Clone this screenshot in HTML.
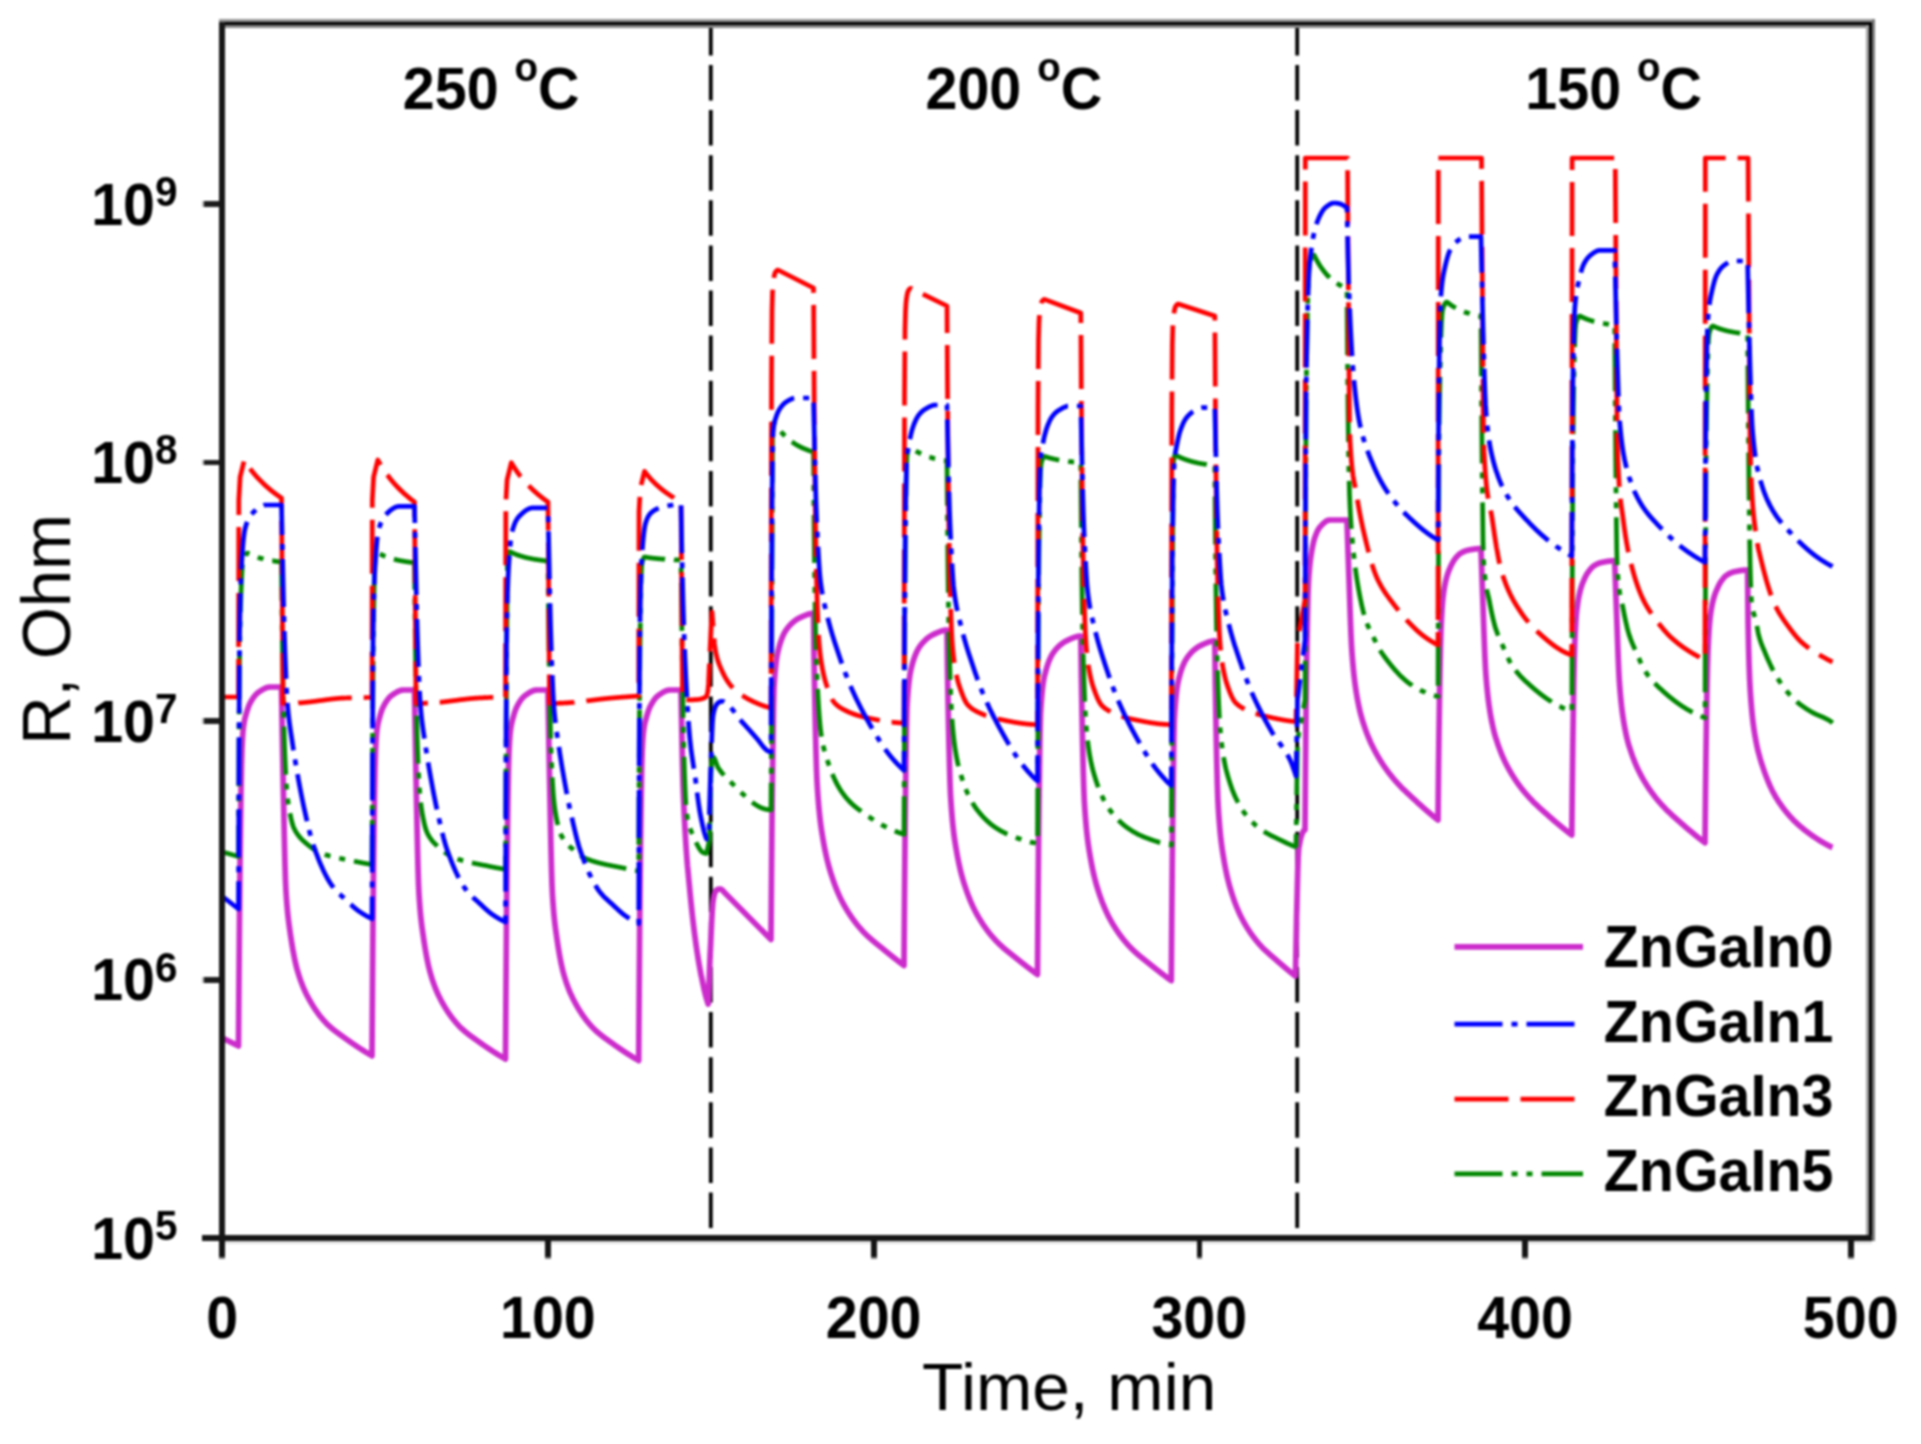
<!DOCTYPE html>
<html lang="en"><head><meta charset="utf-8"><title>R vs Time</title>
<style>html,body{margin:0;padding:0;background:#fff;overflow:hidden}svg{display:block;filter:blur(0.8px)}</style>
</head><body>
<svg width="1921" height="1444" viewBox="0 0 1921 1444">
<rect width="1921" height="1444" fill="#fff"/>
<defs><clipPath id="cp"><rect x="222.5" y="24.0" width="1649.0" height="1214.0"/></clipPath></defs>
<g fill="none" stroke-linejoin="round" stroke-linecap="butt" clip-path="url(#cp)">
<path d="M710.8 24.0V1238.0" stroke="#000" stroke-width="3.8" stroke-dasharray="35.5 9.6" stroke-dashoffset="4.1"/>
<path d="M1297.2 24.0V1238.0" stroke="#000" stroke-width="3.8" stroke-dasharray="35.5 9.6" stroke-dashoffset="4.1"/>
<path d="M222.5 1038.0L238.5 1046.0L238.5 1046.0L239.0 976.1L239.5 914.8L240.0 866.5L240.5 827.4L241.0 792.7L241.5 765.3L242.0 748.0L242.5 738.3L243.0 731.2L243.5 726.5L244.0 723.2L244.5 720.5L245.0 718.2L245.5 716.3L246.0 714.6L246.5 712.8L247.0 711.2L247.5 709.6L248.0 708.1L248.5 706.7L249.0 705.4L249.5 704.3L250.0 703.3L250.5 702.4L251.0 701.5L251.5 700.6L252.0 699.8L252.5 699.0L253.0 698.2L253.5 697.5L254.0 696.8L254.5 696.2L255.0 695.5L255.5 695.0L256.0 694.4L256.5 693.9L257.0 693.4L257.5 693.0L258.0 692.6L258.5 692.3L259.0 691.9L259.5 691.6L260.0 691.3L260.5 690.9L261.0 690.6L261.5 690.3L262.0 690.0L262.5 689.7L263.0 689.4L263.5 689.1L264.0 688.9L264.5 688.6L265.0 688.4L265.5 688.2L266.0 687.9L266.5 687.8L267.0 687.6L267.5 687.4L268.0 687.3L268.5 687.2L269.0 687.1L269.5 687.1L270.0 687.0L270.5 687.0L271.0 687.0L271.5 687.0L272.0 687.0L272.5 687.0L273.0 687.0L273.5 687.0L274.0 687.0L274.5 687.0L275.0 687.0L275.5 687.0L276.0 687.0L276.5 687.0L277.0 687.0L277.5 687.0L278.0 687.0L278.5 687.0L279.0 687.0L279.5 687.0L280.0 687.0L280.5 687.0L281.0 687.0L281.5 687.0L281.5 687.0L282.0 717.8L282.5 746.7L283.0 772.7L283.5 797.1L284.0 821.5L284.5 844.5L285.0 864.7L285.5 880.7L286.0 891.2L286.5 898.8L287.0 905.3L287.5 911.0L288.0 915.9L288.5 920.3L289.0 924.2L289.5 927.8L290.0 931.3L290.5 934.8L291.0 938.2L291.5 941.4L292.0 944.5L292.5 947.5L293.0 950.4L293.5 953.1L294.0 955.8L294.5 958.3L295.0 960.6L295.5 962.9L296.0 965.0L296.5 967.0L297.0 968.9L297.5 970.7L298.0 972.4L298.5 974.0L299.0 975.6L299.5 977.2L300.0 978.6L300.5 980.1L301.0 981.5L301.5 982.8L302.0 984.1L302.5 985.4L303.0 986.7L303.5 987.9L304.0 989.0L304.5 990.1L305.0 991.2L305.5 992.3L306.0 993.4L306.5 994.4L307.0 995.4L307.5 996.3L308.0 997.3L308.5 998.2L309.0 999.1L309.5 1000.0L310.0 1000.9L310.5 1001.8L311.0 1002.6L311.5 1003.5L312.0 1004.3L312.5 1005.1L313.0 1005.9L313.5 1006.7L314.0 1007.5L314.5 1008.3L315.0 1009.0L315.5 1009.8L316.0 1010.5L316.5 1011.2L317.0 1011.9L317.5 1012.6L318.0 1013.3L318.5 1014.0L319.0 1014.7L319.5 1015.3L320.0 1016.0L320.5 1016.6L321.0 1017.2L321.5 1017.8L322.0 1018.4L322.5 1019.0L323.0 1019.6L323.5 1020.2L324.0 1020.7L324.5 1021.3L325.0 1021.8L325.5 1022.3L326.0 1022.9L326.5 1023.4L327.0 1023.9L327.5 1024.4L328.0 1024.9L328.5 1025.3L329.0 1025.8L329.5 1026.3L330.0 1026.7L330.5 1027.2L331.0 1027.6L331.5 1028.0L332.0 1028.4L332.5 1028.9L333.0 1029.3L333.5 1029.7L334.0 1030.1L334.5 1030.5L335.0 1030.9L335.5 1031.2L336.0 1031.6L336.5 1032.0L337.0 1032.4L337.5 1032.7L338.0 1033.1L338.5 1033.5L339.0 1033.8L339.5 1034.2L340.0 1034.5L340.5 1034.9L341.0 1035.3L341.5 1035.6L342.0 1036.0L342.5 1036.3L343.0 1036.7L343.5 1037.1L344.0 1037.4L344.5 1037.8L345.0 1038.1L345.5 1038.5L346.0 1038.9L346.5 1039.2L347.0 1039.6L347.5 1039.9L348.0 1040.3L348.5 1040.6L349.0 1041.0L349.5 1041.3L350.0 1041.7L350.5 1042.0L351.0 1042.4L351.5 1042.7L352.0 1043.1L352.5 1043.4L353.0 1043.8L353.5 1044.1L354.0 1044.4L354.5 1044.8L355.0 1045.1L355.5 1045.5L356.0 1045.8L356.5 1046.1L357.0 1046.5L357.5 1046.8L358.0 1047.1L358.5 1047.4L359.0 1047.8L359.5 1048.1L360.0 1048.4L360.5 1048.7L361.0 1049.1L361.5 1049.4L362.0 1049.7L362.5 1050.0L363.0 1050.3L363.5 1050.6L364.0 1051.0L364.5 1051.3L365.0 1051.6L365.5 1051.9L366.0 1052.2L366.5 1052.5L367.0 1052.8L367.5 1053.1L368.0 1053.4L368.5 1053.7L369.0 1054.0L369.5 1054.3L370.0 1054.6L370.5 1054.8L371.0 1055.1L371.5 1055.4L372.0 1055.7L372.0 1055.7L372.5 983.7L373.0 920.7L373.5 871.4L374.0 831.3L374.5 795.8L375.0 768.2L375.5 751.2L376.0 741.4L376.5 734.4L377.0 729.8L377.5 726.5L378.0 723.7L378.5 721.5L379.0 719.5L379.5 717.8L380.0 716.0L380.5 714.3L381.0 712.6L381.5 711.1L382.0 709.7L382.5 708.5L383.0 707.3L383.5 706.4L384.0 705.4L384.5 704.5L385.0 703.6L385.5 702.8L386.0 702.0L386.5 701.2L387.0 700.5L387.5 699.8L388.0 699.1L388.5 698.5L389.0 697.9L389.5 697.3L390.0 696.8L390.5 696.4L391.0 696.0L391.5 695.6L392.0 695.2L392.5 694.9L393.0 694.5L393.5 694.2L394.0 693.8L394.5 693.5L395.0 693.2L395.5 692.9L396.0 692.6L396.5 692.3L397.0 692.0L397.5 691.7L398.0 691.5L398.5 691.3L399.0 691.0L399.5 690.8L400.0 690.7L400.5 690.5L401.0 690.4L401.5 690.2L402.0 690.1L402.5 690.1L403.0 690.0L403.5 690.0L404.0 690.0L404.5 690.0L405.0 690.0L405.5 690.0L406.0 690.0L406.5 690.0L407.0 690.0L407.5 690.0L408.0 690.0L408.5 690.0L409.0 690.0L409.5 690.0L410.0 690.0L410.5 690.0L411.0 690.0L411.5 690.0L412.0 690.0L412.5 690.0L413.0 690.0L413.5 690.0L414.0 690.0L414.5 690.0L414.5 690.0L415.0 720.7L415.5 749.5L416.0 775.3L416.5 799.7L417.0 824.0L417.5 846.9L418.0 867.1L418.5 883.3L419.0 894.0L419.5 901.5L420.0 908.1L420.5 913.8L421.0 918.8L421.5 923.1L422.0 927.1L422.5 930.7L423.0 934.2L423.5 937.7L424.0 941.0L424.5 944.3L425.0 947.4L425.5 950.4L426.0 953.3L426.5 956.0L427.0 958.6L427.5 961.1L428.0 963.5L428.5 965.8L429.0 967.9L429.5 969.9L430.0 971.8L430.5 973.6L431.0 975.3L431.5 977.0L432.0 978.6L432.5 980.1L433.0 981.6L433.5 983.0L434.0 984.4L434.5 985.8L435.0 987.1L435.5 988.4L436.0 989.6L436.5 990.8L437.0 992.0L437.5 993.1L438.0 994.2L438.5 995.3L439.0 996.3L439.5 997.3L440.0 998.3L440.5 999.3L441.0 1000.3L441.5 1001.2L442.0 1002.1L442.5 1003.0L443.0 1003.9L443.5 1004.8L444.0 1005.6L444.5 1006.5L445.0 1007.3L445.5 1008.1L446.0 1008.9L446.5 1009.7L447.0 1010.5L447.5 1011.3L448.0 1012.0L448.5 1012.8L449.0 1013.5L449.5 1014.2L450.0 1014.9L450.5 1015.6L451.0 1016.3L451.5 1017.0L452.0 1017.7L452.5 1018.3L453.0 1018.9L453.5 1019.6L454.0 1020.2L454.5 1020.8L455.0 1021.4L455.5 1022.0L456.0 1022.6L456.5 1023.2L457.0 1023.7L457.5 1024.3L458.0 1024.8L458.5 1025.4L459.0 1025.9L459.5 1026.4L460.0 1026.9L460.5 1027.4L461.0 1027.9L461.5 1028.4L462.0 1028.8L462.5 1029.3L463.0 1029.7L463.5 1030.2L464.0 1030.6L464.5 1031.1L465.0 1031.5L465.5 1031.9L466.0 1032.3L466.5 1032.7L467.0 1033.1L467.5 1033.5L468.0 1033.9L468.5 1034.3L469.0 1034.7L469.5 1035.0L470.0 1035.4L470.5 1035.8L471.0 1036.2L471.5 1036.5L472.0 1036.9L472.5 1037.2L473.0 1037.6L473.5 1038.0L474.0 1038.3L474.5 1038.7L475.0 1039.0L475.5 1039.4L476.0 1039.7L476.5 1040.1L477.0 1040.4L477.5 1040.8L478.0 1041.2L478.5 1041.5L479.0 1041.9L479.5 1042.2L480.0 1042.6L480.5 1043.0L481.0 1043.3L481.5 1043.7L482.0 1044.0L482.5 1044.4L483.0 1044.7L483.5 1045.1L484.0 1045.4L484.5 1045.8L485.0 1046.1L485.5 1046.4L486.0 1046.8L486.5 1047.1L487.0 1047.5L487.5 1047.8L488.0 1048.1L488.5 1048.5L489.0 1048.8L489.5 1049.1L490.0 1049.5L490.5 1049.8L491.0 1050.1L491.5 1050.5L492.0 1050.8L492.5 1051.1L493.0 1051.4L493.5 1051.8L494.0 1052.1L494.5 1052.4L495.0 1052.7L495.5 1053.0L496.0 1053.3L496.5 1053.7L497.0 1054.0L497.5 1054.3L498.0 1054.6L498.5 1054.9L499.0 1055.2L499.5 1055.5L500.0 1055.8L500.5 1056.1L501.0 1056.4L501.5 1056.7L502.0 1057.0L502.5 1057.3L503.0 1057.6L503.5 1057.9L504.0 1058.2L504.5 1058.4L505.0 1058.7L505.5 1059.0L505.5 1059.0L506.0 986.3L506.5 922.8L507.0 873.0L507.5 832.6L508.0 796.8L508.5 768.9L509.0 751.8L509.5 741.9L510.0 734.8L510.5 730.2L511.0 726.8L511.5 724.0L512.0 721.8L512.5 719.8L513.0 718.0L513.5 716.2L514.0 714.5L514.5 712.8L515.0 711.3L515.5 709.9L516.0 708.6L516.5 707.5L517.0 706.5L517.5 705.6L518.0 704.6L518.5 703.8L519.0 702.9L519.5 702.1L520.0 701.3L520.5 700.6L521.0 699.8L521.5 699.2L522.0 698.5L522.5 698.0L523.0 697.4L523.5 696.9L524.0 696.4L524.5 696.0L525.0 695.6L525.5 695.3L526.0 694.9L526.5 694.6L527.0 694.2L527.5 693.9L528.0 693.5L528.5 693.2L529.0 692.9L529.5 692.6L530.0 692.3L530.5 692.0L531.0 691.8L531.5 691.5L532.0 691.3L532.5 691.0L533.0 690.8L533.5 690.7L534.0 690.5L534.5 690.4L535.0 690.2L535.5 690.1L536.0 690.1L536.5 690.0L537.0 690.0L537.5 690.0L538.0 690.0L538.5 690.0L539.0 690.0L539.5 690.0L540.0 690.0L540.5 690.0L541.0 690.0L541.5 690.0L542.0 690.0L542.5 690.0L543.0 690.0L543.5 690.0L544.0 690.0L544.5 690.0L545.0 690.0L545.5 690.0L546.0 690.0L546.5 690.0L547.0 690.0L547.5 690.0L548.0 690.0L548.0 690.0L548.5 721.0L549.0 750.0L549.5 776.1L550.0 800.7L550.5 825.2L551.0 848.3L551.5 868.6L552.0 884.6L552.5 895.2L553.0 902.8L553.5 909.4L554.0 915.1L554.5 920.0L555.0 924.4L555.5 928.3L556.0 932.0L556.5 935.5L557.0 939.0L557.5 942.4L558.0 945.7L558.5 948.8L559.0 951.8L559.5 954.7L560.0 957.4L560.5 960.1L561.0 962.6L561.5 965.0L562.0 967.2L562.5 969.4L563.0 971.4L563.5 973.3L564.0 975.1L564.5 976.8L565.0 978.4L565.5 980.0L566.0 981.6L566.5 983.1L567.0 984.5L567.5 985.9L568.0 987.3L568.5 988.6L569.0 989.9L569.5 991.1L570.0 992.3L570.5 993.5L571.1 994.6L571.6 995.7L572.1 996.8L572.6 997.9L573.1 998.9L573.6 999.9L574.1 1000.8L574.6 1001.8L575.1 1002.7L575.6 1003.7L576.1 1004.6L576.6 1005.4L577.1 1006.3L577.6 1007.2L578.1 1008.0L578.6 1008.9L579.1 1009.7L579.6 1010.5L580.1 1011.3L580.6 1012.1L581.1 1012.8L581.6 1013.6L582.1 1014.4L582.6 1015.1L583.1 1015.8L583.6 1016.5L584.1 1017.2L584.6 1017.9L585.1 1018.6L585.6 1019.3L586.1 1019.9L586.6 1020.6L587.1 1021.2L587.6 1021.8L588.1 1022.4L588.6 1023.0L589.1 1023.6L589.6 1024.2L590.1 1024.8L590.6 1025.3L591.1 1025.9L591.6 1026.4L592.1 1027.0L592.6 1027.5L593.1 1028.0L593.6 1028.5L594.1 1029.0L594.6 1029.5L595.1 1030.0L595.6 1030.5L596.1 1030.9L596.6 1031.4L597.1 1031.8L597.6 1032.3L598.1 1032.7L598.6 1033.1L599.1 1033.5L599.6 1033.9L600.1 1034.3L600.6 1034.7L601.1 1035.1L601.6 1035.5L602.1 1035.9L602.6 1036.3L603.1 1036.7L603.6 1037.0L604.1 1037.4L604.6 1037.8L605.1 1038.2L605.6 1038.5L606.1 1038.9L606.6 1039.2L607.1 1039.6L607.6 1040.0L608.1 1040.3L608.6 1040.7L609.1 1041.0L609.6 1041.4L610.1 1041.8L610.6 1042.1L611.1 1042.5L611.6 1042.8L612.1 1043.2L612.6 1043.6L613.1 1043.9L613.6 1044.3L614.1 1044.6L614.6 1045.0L615.1 1045.4L615.6 1045.7L616.2 1046.1L616.7 1046.4L617.2 1046.8L617.7 1047.1L618.2 1047.5L618.7 1047.8L619.2 1048.2L619.7 1048.5L620.2 1048.8L620.7 1049.2L621.2 1049.5L621.7 1049.9L622.2 1050.2L622.7 1050.5L623.2 1050.9L623.7 1051.2L624.2 1051.5L624.7 1051.9L625.2 1052.2L625.7 1052.5L626.2 1052.9L626.7 1053.2L627.2 1053.5L627.7 1053.8L628.2 1054.2L628.7 1054.5L629.2 1054.8L629.7 1055.1L630.2 1055.4L630.7 1055.7L631.2 1056.0L631.7 1056.4L632.2 1056.7L632.7 1057.0L633.2 1057.3L633.7 1057.6L634.2 1057.9L634.7 1058.2L635.2 1058.5L635.7 1058.8L636.2 1059.1L636.7 1059.4L637.2 1059.6L637.7 1059.9L638.2 1060.2L638.7 1060.5L638.7 1060.5L639.2 986.7L639.7 922.3L640.2 872.3L640.7 831.3L641.2 795.3L641.7 767.6L642.2 751.1L642.7 741.3L643.2 734.4L643.7 729.9L644.2 726.5L644.7 723.8L645.2 721.6L645.8 719.6L646.3 717.8L646.8 716.0L647.3 714.3L647.8 712.6L648.3 711.1L648.8 709.7L649.3 708.4L649.8 707.3L650.3 706.3L650.8 705.4L651.3 704.4L651.8 703.5L652.3 702.7L652.8 701.9L653.3 701.1L653.8 700.3L654.3 699.6L654.8 699.0L655.3 698.3L655.8 697.8L656.3 697.2L656.8 696.7L657.3 696.3L657.8 695.9L658.3 695.5L658.8 695.1L659.3 694.8L659.9 694.4L660.4 694.1L660.9 693.7L661.4 693.4L661.9 693.1L662.4 692.7L662.9 692.4L663.4 692.1L663.9 691.9L664.4 691.6L664.9 691.4L665.4 691.1L665.9 690.9L666.4 690.7L666.9 690.6L667.4 690.4L667.9 690.3L668.4 690.2L668.9 690.1L669.4 690.0L669.9 690.0L670.4 690.0L670.9 690.0L671.4 690.0L671.9 690.0L672.4 690.0L672.9 690.0L673.4 690.0L674.0 690.0L674.5 690.0L675.0 690.0L675.5 690.0L676.0 690.0L676.5 690.0L677.0 690.0L677.5 690.0L678.0 690.0L678.5 690.0L679.0 690.0L679.5 690.0L680.0 690.0L680.5 690.0L681.0 690.0L681.0 690.0L681.5 716.6L682.0 742.5L682.5 765.8L683.0 784.7L683.5 798.0L684.0 809.3L684.5 819.6L685.0 829.1L685.5 837.7L686.0 845.6L686.5 852.9L687.0 859.7L687.5 866.0L688.1 871.9L688.6 877.5L689.1 882.8L689.6 888.1L690.1 893.3L690.6 898.4L691.1 903.3L691.6 908.1L692.1 912.8L692.6 917.3L693.1 921.6L693.6 925.8L694.1 929.9L694.6 933.9L695.1 937.7L695.6 941.4L696.1 945.0L696.6 948.4L697.1 951.8L697.6 955.0L698.1 958.2L698.6 961.2L699.1 964.2L699.6 967.0L700.1 969.8L700.6 972.5L701.1 975.1L701.7 977.7L702.2 980.2L702.7 982.6L703.2 985.0L703.7 987.3L704.2 989.5L704.7 991.7L705.2 993.7L705.7 995.7L706.2 997.6L706.7 999.3L707.2 1001.0L707.7 1002.6L708.2 1004.0L708.6 1000.0L709.1 983.6L709.6 968.5L710.1 955.7L710.7 943.6L711.2 931.7L711.7 920.8L712.2 911.5L712.7 904.3L713.2 899.9L713.7 897.2L714.2 894.9L714.8 893.0L715.3 891.6L715.8 890.7L716.3 890.3L716.8 890.0L717.3 889.7L717.8 889.5L718.4 889.3L718.9 889.1L719.4 889.0L719.9 889.0L720.4 889.0L720.9 889.2L721.4 889.4L721.9 889.8L722.5 890.2L723.0 890.8L723.5 891.4L724.0 892.0L771.0 939.5L771.0 939.5L771.5 874.9L772.0 819.1L772.5 775.1L773.0 738.2L773.5 706.9L774.0 687.9L774.5 680.0L775.0 673.4L775.5 667.9L776.0 663.3L776.5 659.4L777.0 656.3L777.5 653.6L778.0 651.3L778.5 649.3L779.0 647.4L779.5 645.6L780.0 643.9L780.5 642.3L781.0 640.8L781.5 639.4L782.0 638.1L782.5 636.9L783.0 635.7L783.5 634.6L784.0 633.6L784.5 632.7L785.0 631.8L785.5 631.0L786.0 630.2L786.5 629.5L787.0 628.8L787.5 628.1L788.0 627.5L788.5 626.9L789.0 626.3L789.5 625.7L790.0 625.2L790.5 624.7L791.0 624.1L791.5 623.7L792.0 623.2L792.5 622.7L793.0 622.3L793.5 621.9L794.0 621.4L794.5 621.1L795.0 620.7L795.5 620.3L796.0 620.0L796.5 619.6L797.0 619.3L797.5 619.0L798.0 618.7L798.5 618.5L799.0 618.2L799.5 617.9L800.0 617.7L800.5 617.5L801.0 617.2L801.5 617.0L802.0 616.8L802.5 616.5L803.0 616.3L803.5 616.1L804.0 615.9L804.5 615.7L805.0 615.5L805.5 615.3L806.0 615.1L806.5 614.9L807.0 614.7L807.5 614.5L808.0 614.4L808.5 614.2L809.0 614.1L809.5 613.9L810.0 613.8L810.5 613.7L811.0 613.6L811.5 613.5L812.0 613.4L812.5 613.4L813.0 613.3L813.5 613.3L813.5 613.3L814.0 653.9L814.5 682.5L815.0 708.5L815.5 732.0L816.0 752.3L816.5 768.8L817.0 781.2L817.5 789.4L818.0 796.6L818.5 803.0L819.0 808.7L819.5 813.8L820.0 818.4L820.5 822.6L821.0 826.4L821.5 829.8L822.0 833.0L822.5 836.1L823.0 839.0L823.5 841.9L824.0 844.7L824.5 847.4L825.0 849.9L825.5 852.4L826.0 854.7L826.5 856.9L827.0 859.1L827.5 861.2L828.0 863.1L828.5 865.0L829.0 866.9L829.5 868.6L830.0 870.4L830.5 872.0L831.0 873.6L831.5 875.2L832.0 876.7L832.5 878.2L833.0 879.7L833.5 881.1L834.0 882.5L834.5 883.9L835.0 885.3L835.5 886.6L836.0 887.9L836.5 889.1L837.0 890.4L837.5 891.6L838.0 892.7L838.5 893.9L839.0 895.0L839.5 896.1L840.0 897.2L840.5 898.2L841.0 899.3L841.5 900.3L842.0 901.3L842.5 902.2L843.0 903.2L843.5 904.1L844.0 905.0L844.5 905.9L845.0 906.8L845.5 907.6L846.0 908.5L846.5 909.3L847.0 910.1L847.5 911.0L848.0 911.8L848.5 912.6L849.0 913.3L849.5 914.1L850.0 914.9L850.5 915.6L851.0 916.4L851.5 917.1L852.0 917.8L852.5 918.5L853.0 919.2L853.5 919.9L854.0 920.6L854.5 921.3L855.0 921.9L855.5 922.6L856.0 923.2L856.5 923.8L857.0 924.5L857.5 925.1L858.0 925.7L858.5 926.3L859.0 926.9L859.5 927.5L860.0 928.1L860.5 928.6L861.0 929.2L861.5 929.8L862.0 930.3L862.5 930.9L863.0 931.4L863.5 931.9L864.0 932.4L864.5 933.0L865.0 933.5L865.5 934.0L866.0 934.5L866.5 934.9L867.0 935.4L867.5 935.9L868.0 936.4L868.5 936.8L869.0 937.3L869.5 937.7L870.0 938.2L870.5 938.6L871.0 939.1L871.5 939.5L872.0 939.9L872.5 940.4L873.0 940.8L873.5 941.2L874.0 941.6L874.5 942.0L875.0 942.5L875.5 942.9L876.0 943.3L876.5 943.7L877.0 944.1L877.5 944.5L878.0 944.9L878.5 945.3L879.0 945.7L879.5 946.1L880.0 946.5L880.5 946.9L881.0 947.3L881.5 947.7L882.0 948.1L882.5 948.5L883.0 948.9L883.5 949.3L884.0 949.7L884.5 950.2L885.0 950.6L885.5 951.0L886.0 951.4L886.5 951.8L887.0 952.2L887.5 952.6L888.0 953.0L888.5 953.4L889.0 953.8L889.5 954.2L890.0 954.6L890.5 955.0L891.0 955.4L891.5 955.8L892.0 956.2L892.5 956.6L893.0 957.0L893.5 957.4L894.0 957.8L894.5 958.2L895.0 958.6L895.5 959.0L896.0 959.4L896.5 959.7L897.0 960.1L897.5 960.5L898.0 960.9L898.5 961.3L899.0 961.7L899.5 962.0L900.0 962.4L900.5 962.8L901.0 963.2L901.5 963.5L902.0 963.9L902.5 964.3L903.0 964.7L903.5 965.0L904.0 965.4L904.0 965.4L904.5 899.7L905.0 842.8L905.5 797.7L906.0 760.1L906.5 727.8L907.0 707.5L907.5 699.2L908.0 692.4L908.5 686.7L909.0 681.9L909.5 677.9L910.0 674.6L910.5 671.8L911.0 669.5L911.5 667.4L912.0 665.4L912.5 663.6L913.0 661.8L913.5 660.2L914.0 658.6L914.5 657.2L915.0 655.8L915.5 654.6L916.0 653.4L916.5 652.3L917.0 651.2L917.5 650.2L918.0 649.3L918.5 648.5L919.0 647.6L919.5 646.9L920.0 646.2L920.5 645.5L921.0 644.8L921.5 644.2L922.0 643.6L922.5 643.0L923.0 642.5L923.5 641.9L924.0 641.4L924.5 640.9L925.0 640.4L925.5 639.9L926.0 639.5L926.5 639.0L927.0 638.6L927.5 638.2L928.0 637.8L928.5 637.4L929.0 637.1L929.5 636.7L930.0 636.4L930.5 636.1L931.0 635.8L931.5 635.5L932.0 635.2L932.5 634.9L933.0 634.7L933.5 634.5L934.0 634.2L934.5 634.0L935.0 633.7L935.5 633.5L936.0 633.3L936.5 633.0L937.0 632.8L937.5 632.6L938.0 632.4L938.5 632.2L939.0 632.0L939.5 631.8L940.0 631.6L940.5 631.4L941.0 631.2L941.5 631.1L942.0 630.9L942.5 630.8L943.0 630.7L943.5 630.5L944.0 630.4L944.5 630.3L945.0 630.2L945.5 630.2L946.0 630.1L946.5 630.0L947.0 630.0L947.0 630.0L947.5 669.7L948.0 697.7L948.5 723.1L949.0 746.1L949.5 766.0L950.0 782.2L950.5 794.2L951.0 802.3L951.5 809.3L952.0 815.6L952.5 821.2L953.0 826.2L953.5 830.7L954.0 834.8L954.5 838.5L955.0 841.9L955.5 845.0L956.0 848.0L956.5 850.8L957.0 853.7L957.5 856.4L958.0 859.0L958.5 861.5L959.0 863.9L959.5 866.2L960.0 868.4L960.5 870.5L961.0 872.5L961.5 874.4L962.0 876.3L962.5 878.1L963.0 879.8L963.5 881.5L964.0 883.1L964.5 884.7L965.0 886.2L965.5 887.7L966.0 889.2L966.5 890.7L967.0 892.1L967.5 893.4L968.0 894.8L968.5 896.1L969.0 897.4L969.5 898.6L970.0 899.9L970.5 901.1L971.0 902.2L971.5 903.4L972.0 904.5L972.5 905.6L973.0 906.7L973.5 907.7L974.0 908.8L974.5 909.8L975.0 910.8L975.5 911.7L976.0 912.7L976.5 913.6L977.0 914.5L977.5 915.4L978.0 916.3L978.5 917.1L979.0 918.0L979.5 918.8L980.0 919.6L980.5 920.4L981.0 921.2L981.5 922.0L982.0 922.8L982.5 923.6L983.0 924.3L983.5 925.1L984.0 925.8L984.5 926.5L985.0 927.2L985.5 927.9L986.0 928.6L986.5 929.3L987.0 930.0L987.5 930.6L988.0 931.3L988.5 932.0L989.0 932.6L989.5 933.2L990.0 933.8L990.5 934.5L991.0 935.1L991.5 935.7L992.0 936.2L992.5 936.8L993.0 937.4L993.5 938.0L994.0 938.5L994.5 939.1L995.0 939.6L995.5 940.2L996.0 940.7L996.5 941.2L997.0 941.7L997.5 942.3L998.0 942.8L998.5 943.3L999.0 943.7L999.5 944.2L1000.0 944.7L1000.5 945.2L1001.0 945.6L1001.5 946.1L1002.0 946.6L1002.5 947.0L1003.0 947.4L1003.5 947.9L1004.0 948.3L1004.5 948.7L1005.0 949.2L1005.5 949.6L1006.0 950.0L1006.5 950.4L1007.0 950.8L1007.5 951.2L1008.0 951.6L1008.5 952.0L1009.0 952.5L1009.5 952.8L1010.0 953.2L1010.5 953.6L1011.0 954.0L1011.5 954.4L1012.0 954.8L1012.5 955.2L1013.0 955.6L1013.5 956.0L1014.0 956.4L1014.5 956.8L1015.0 957.2L1015.5 957.6L1016.0 958.0L1016.5 958.4L1017.0 958.8L1017.5 959.2L1018.0 959.6L1018.5 960.0L1019.0 960.4L1019.5 960.8L1020.0 961.2L1020.5 961.6L1021.0 962.0L1021.5 962.4L1022.0 962.8L1022.5 963.2L1023.0 963.6L1023.5 964.0L1024.0 964.3L1024.5 964.7L1025.0 965.1L1025.5 965.5L1026.0 965.9L1026.5 966.3L1027.0 966.7L1027.5 967.1L1028.0 967.4L1028.5 967.8L1029.0 968.2L1029.5 968.6L1030.0 969.0L1030.5 969.3L1031.0 969.7L1031.5 970.1L1032.0 970.5L1032.5 970.8L1033.0 971.2L1033.5 971.6L1034.0 971.9L1034.5 972.3L1035.0 972.7L1035.5 973.0L1036.0 973.4L1036.5 973.8L1037.0 974.1L1037.5 974.5L1037.5 974.5L1038.0 908.2L1038.5 850.8L1039.0 805.2L1039.5 767.3L1040.0 734.7L1040.5 714.2L1041.0 705.8L1041.5 699.0L1042.0 693.2L1042.5 688.4L1043.0 684.3L1043.5 681.0L1044.0 678.2L1044.5 675.8L1045.1 673.7L1045.6 671.7L1046.1 669.9L1046.6 668.1L1047.1 666.5L1047.6 664.9L1048.1 663.5L1048.6 662.1L1049.1 660.8L1049.6 659.6L1050.1 658.5L1050.6 657.4L1051.1 656.4L1051.6 655.5L1052.1 654.6L1052.6 653.8L1053.1 653.0L1053.6 652.3L1054.1 651.6L1054.6 651.0L1055.1 650.3L1055.6 649.7L1056.1 649.1L1056.6 648.6L1057.1 648.0L1057.6 647.5L1058.1 647.0L1058.6 646.5L1059.2 646.0L1059.7 645.5L1060.2 645.1L1060.7 644.7L1061.2 644.3L1061.7 643.9L1062.2 643.5L1062.7 643.1L1063.2 642.8L1063.7 642.4L1064.2 642.1L1064.7 641.8L1065.2 641.5L1065.7 641.3L1066.2 641.0L1066.7 640.7L1067.2 640.5L1067.7 640.3L1068.2 640.0L1068.7 639.8L1069.2 639.5L1069.7 639.3L1070.2 639.1L1070.7 638.8L1071.2 638.6L1071.7 638.4L1072.2 638.2L1072.7 638.0L1073.2 637.8L1073.8 637.6L1074.3 637.4L1074.8 637.3L1075.3 637.1L1075.8 636.9L1076.3 636.8L1076.8 636.7L1077.3 636.5L1077.8 636.4L1078.3 636.3L1078.8 636.2L1079.3 636.2L1079.8 636.1L1080.3 636.0L1080.8 636.0L1080.8 636.0L1081.3 675.7L1081.8 703.7L1082.3 729.2L1082.8 752.1L1083.3 772.0L1083.8 788.2L1084.3 800.3L1084.8 808.4L1085.3 815.4L1085.8 821.6L1086.3 827.2L1086.8 832.3L1087.3 836.8L1087.8 840.8L1088.3 844.5L1088.8 847.9L1089.3 851.1L1089.8 854.0L1090.3 856.9L1090.8 859.7L1091.3 862.5L1091.8 865.1L1092.3 867.6L1092.8 870.0L1093.3 872.3L1093.8 874.5L1094.3 876.6L1094.8 878.6L1095.3 880.5L1095.8 882.4L1096.3 884.2L1096.8 885.9L1097.3 887.6L1097.8 889.2L1098.3 890.8L1098.8 892.3L1099.3 893.8L1099.8 895.3L1100.3 896.7L1100.8 898.1L1101.3 899.5L1101.8 900.9L1102.3 902.2L1102.8 903.5L1103.3 904.7L1103.8 905.9L1104.3 907.1L1104.8 908.3L1105.3 909.5L1105.8 910.6L1106.3 911.7L1106.8 912.8L1107.3 913.8L1107.8 914.9L1108.3 915.9L1108.8 916.9L1109.3 917.8L1109.8 918.8L1110.3 919.7L1110.8 920.6L1111.3 921.5L1111.8 922.4L1112.3 923.2L1112.8 924.1L1113.3 924.9L1113.8 925.7L1114.3 926.5L1114.8 927.3L1115.3 928.1L1115.8 928.9L1116.3 929.7L1116.8 930.4L1117.3 931.1L1117.8 931.9L1118.3 932.6L1118.8 933.3L1119.3 934.0L1119.8 934.7L1120.3 935.4L1120.8 936.1L1121.3 936.7L1121.8 937.4L1122.3 938.0L1122.8 938.7L1123.3 939.3L1123.8 939.9L1124.3 940.5L1124.8 941.1L1125.3 941.7L1125.8 942.3L1126.3 942.9L1126.8 943.5L1127.3 944.1L1127.8 944.6L1128.3 945.2L1128.8 945.7L1129.3 946.3L1129.8 946.8L1130.3 947.3L1130.8 947.8L1131.3 948.3L1131.8 948.9L1132.3 949.3L1132.8 949.8L1133.3 950.3L1133.8 950.8L1134.3 951.3L1134.8 951.7L1135.3 952.2L1135.8 952.6L1136.3 953.1L1136.8 953.5L1137.3 954.0L1137.8 954.4L1138.3 954.8L1138.8 955.3L1139.3 955.7L1139.8 956.1L1140.3 956.5L1140.8 956.9L1141.3 957.3L1141.8 957.7L1142.3 958.1L1142.8 958.5L1143.3 958.9L1143.8 959.3L1144.3 959.7L1144.8 960.1L1145.3 960.5L1145.8 960.9L1146.3 961.3L1146.8 961.7L1147.3 962.1L1147.8 962.5L1148.3 962.9L1148.8 963.3L1149.3 963.7L1149.8 964.1L1150.3 964.5L1150.8 964.9L1151.3 965.3L1151.8 965.7L1152.3 966.1L1152.8 966.5L1153.3 966.9L1153.8 967.3L1154.3 967.7L1154.8 968.1L1155.3 968.5L1155.8 968.9L1156.3 969.3L1156.8 969.7L1157.3 970.1L1157.8 970.4L1158.3 970.8L1158.8 971.2L1159.3 971.6L1159.8 972.0L1160.3 972.4L1160.8 972.8L1161.3 973.2L1161.8 973.5L1162.3 973.9L1162.8 974.3L1163.3 974.7L1163.8 975.1L1164.3 975.4L1164.8 975.8L1165.3 976.2L1165.8 976.6L1166.3 976.9L1166.8 977.3L1167.3 977.7L1167.8 978.0L1168.3 978.4L1168.8 978.8L1169.3 979.1L1169.8 979.5L1170.3 979.9L1170.8 980.2L1171.3 980.6L1171.3 980.6L1171.8 914.8L1172.3 857.6L1172.8 812.0L1173.3 774.3L1173.8 741.5L1174.3 720.2L1174.8 711.5L1175.3 704.6L1175.8 698.8L1176.3 693.9L1176.8 689.8L1177.3 686.4L1177.8 683.6L1178.3 681.1L1178.8 679.0L1179.3 677.0L1179.8 675.2L1180.3 673.4L1180.8 671.7L1181.3 670.2L1181.8 668.7L1182.3 667.3L1182.8 666.0L1183.3 664.8L1183.8 663.7L1184.3 662.6L1184.8 661.6L1185.3 660.7L1185.8 659.8L1186.3 659.0L1186.8 658.2L1187.3 657.4L1187.8 656.7L1188.3 656.1L1188.8 655.5L1189.3 654.8L1189.8 654.2L1190.3 653.7L1190.8 653.1L1191.3 652.6L1191.8 652.1L1192.3 651.6L1192.8 651.1L1193.3 650.6L1193.8 650.2L1194.3 649.7L1194.8 649.3L1195.3 648.9L1195.8 648.5L1196.3 648.2L1196.8 647.8L1197.3 647.5L1197.8 647.1L1198.3 646.8L1198.8 646.5L1199.3 646.3L1199.8 646.0L1200.3 645.7L1200.8 645.5L1201.3 645.2L1201.8 645.0L1202.3 644.8L1202.8 644.5L1203.3 644.3L1203.8 644.1L1204.3 643.8L1204.8 643.6L1205.3 643.4L1205.8 643.2L1206.3 643.0L1206.8 642.8L1207.3 642.6L1207.8 642.4L1208.3 642.2L1208.8 642.0L1209.3 641.9L1209.8 641.7L1210.3 641.6L1210.8 641.5L1211.3 641.3L1211.8 641.2L1212.3 641.1L1212.8 641.0L1213.3 641.0L1213.8 640.9L1214.3 640.8L1214.8 640.8L1214.8 640.8L1215.3 683.2L1215.8 713.0L1216.3 740.1L1216.8 763.8L1217.3 783.3L1217.8 798.0L1218.3 807.5L1218.8 815.2L1219.3 822.0L1219.8 828.0L1220.3 833.4L1220.8 838.1L1221.3 842.3L1221.8 846.1L1222.3 849.6L1222.8 852.9L1223.3 856.0L1223.8 859.1L1224.3 862.0L1224.8 864.8L1225.3 867.5L1225.8 870.0L1226.3 872.4L1226.8 874.8L1227.3 877.0L1227.8 879.1L1228.3 881.1L1228.8 883.0L1229.3 884.9L1229.8 886.7L1230.3 888.4L1230.8 890.1L1231.3 891.7L1231.8 893.3L1232.3 894.9L1232.8 896.4L1233.3 897.9L1233.8 899.4L1234.3 900.8L1234.8 902.2L1235.3 903.5L1235.8 904.8L1236.3 906.1L1236.8 907.3L1237.3 908.5L1237.8 909.7L1238.3 910.9L1238.8 912.0L1239.3 913.1L1239.8 914.2L1240.3 915.2L1240.8 916.3L1241.3 917.3L1241.8 918.3L1242.3 919.2L1242.8 920.1L1243.3 921.1L1243.8 922.0L1244.3 922.9L1244.8 923.8L1245.3 924.6L1245.8 925.5L1246.3 926.3L1246.8 927.1L1247.3 928.0L1247.8 928.8L1248.3 929.5L1248.8 930.3L1249.3 931.1L1249.8 931.8L1250.3 932.6L1250.8 933.3L1251.3 934.0L1251.8 934.7L1252.3 935.4L1252.8 936.1L1253.3 936.8L1253.8 937.4L1254.3 938.1L1254.8 938.7L1255.3 939.4L1255.8 940.0L1256.3 940.6L1256.8 941.2L1257.3 941.8L1257.8 942.4L1258.3 943.0L1258.8 943.6L1259.3 944.2L1259.8 944.7L1260.3 945.3L1260.8 945.8L1261.3 946.3L1261.8 946.9L1262.3 947.4L1262.8 947.9L1263.3 948.4L1263.8 948.9L1264.3 949.4L1264.8 949.9L1265.3 950.3L1265.8 950.8L1266.3 951.3L1266.8 951.7L1267.3 952.2L1267.8 952.6L1268.3 953.1L1268.8 953.5L1269.3 954.0L1269.8 954.4L1270.3 954.9L1270.8 955.3L1271.3 955.7L1271.8 956.2L1272.3 956.6L1272.8 957.0L1273.3 957.4L1273.8 957.9L1274.3 958.3L1274.8 958.7L1275.3 959.2L1275.8 959.6L1276.3 960.0L1276.8 960.5L1277.3 960.9L1277.8 961.4L1278.3 961.8L1278.8 962.2L1279.3 962.7L1279.8 963.1L1280.3 963.5L1280.8 964.0L1281.3 964.4L1281.8 964.8L1282.3 965.3L1282.8 965.7L1283.3 966.1L1283.8 966.6L1284.3 967.0L1284.8 967.4L1285.3 967.8L1285.8 968.3L1286.3 968.7L1286.8 969.1L1287.3 969.5L1287.8 969.9L1288.3 970.3L1288.8 970.8L1289.3 971.2L1289.8 971.6L1290.3 972.0L1290.8 972.4L1291.3 972.8L1291.8 973.2L1292.3 973.6L1292.8 974.0L1293.3 974.4L1293.8 974.8L1294.3 975.2L1294.8 975.6L1295.3 976.0L1295.6 970.0L1296.1 943.4L1296.6 917.1L1297.2 892.8L1297.7 872.1L1298.2 856.8L1298.7 848.5L1299.3 845.4L1299.8 842.7L1300.3 840.2L1300.8 838.1L1301.3 836.1L1301.9 834.5L1302.4 833.1L1302.9 832.0L1303.4 831.1L1304.0 830.5L1304.5 830.1L1305.0 830.0L1305.0 830.0L1305.5 768.7L1306.0 715.5L1306.5 675.0L1307.0 643.7L1307.5 616.4L1308.0 595.1L1308.5 582.0L1309.0 574.4L1309.5 568.2L1310.0 563.2L1310.5 559.1L1311.0 555.7L1311.5 552.5L1312.0 549.6L1312.5 546.9L1313.0 544.5L1313.5 542.3L1314.0 540.3L1314.5 538.6L1315.0 537.0L1315.5 535.7L1316.0 534.4L1316.5 533.1L1317.0 532.0L1317.5 530.9L1318.0 530.0L1318.5 529.1L1319.0 528.3L1319.5 527.6L1320.0 527.0L1320.5 526.5L1321.0 525.9L1321.5 525.4L1322.0 524.8L1322.5 524.3L1323.0 523.8L1323.5 523.4L1324.0 522.9L1324.5 522.5L1325.0 522.1L1325.5 521.7L1326.0 521.3L1326.5 521.0L1327.0 520.8L1327.5 520.5L1328.0 520.3L1328.5 520.2L1329.0 520.1L1329.5 520.0L1330.0 520.0L1330.5 520.0L1331.0 520.0L1331.5 520.0L1332.0 520.0L1332.5 520.0L1333.0 520.0L1333.5 520.0L1334.0 520.0L1334.5 520.0L1335.0 520.0L1335.5 520.0L1336.0 520.0L1336.5 520.0L1337.0 520.0L1337.5 520.0L1338.0 520.0L1338.5 520.0L1339.0 520.0L1339.5 520.0L1340.0 520.0L1340.5 520.0L1341.0 520.0L1341.5 520.0L1342.0 520.0L1342.5 520.0L1343.0 520.0L1343.5 520.0L1344.0 520.0L1344.5 520.0L1345.0 520.0L1345.5 520.0L1346.0 520.0L1346.5 520.0L1347.0 520.0L1347.0 520.0L1347.5 535.4L1348.0 550.4L1348.5 564.9L1349.0 578.9L1349.5 593.5L1350.0 608.1L1350.5 622.0L1351.0 634.5L1351.5 645.0L1352.0 652.7L1352.5 659.2L1353.0 665.1L1353.5 670.4L1354.0 675.2L1354.5 679.5L1355.0 683.5L1355.5 687.1L1356.0 690.5L1356.5 693.6L1357.0 696.6L1357.5 699.4L1358.0 702.0L1358.5 704.5L1359.0 706.9L1359.5 709.1L1360.0 711.3L1360.5 713.3L1361.0 715.2L1361.5 717.0L1362.0 718.8L1362.5 720.5L1363.0 722.1L1363.5 723.7L1364.0 725.2L1364.5 726.7L1365.0 728.2L1365.5 729.6L1366.0 731.0L1366.5 732.3L1367.0 733.7L1367.5 735.0L1368.0 736.2L1368.5 737.4L1369.0 738.6L1369.5 739.8L1370.0 740.9L1370.5 742.1L1371.0 743.2L1371.5 744.2L1372.0 745.3L1372.5 746.3L1373.0 747.3L1373.5 748.3L1374.0 749.3L1374.5 750.2L1375.0 751.2L1375.5 752.1L1376.0 753.0L1376.5 753.9L1377.0 754.8L1377.5 755.7L1378.0 756.6L1378.5 757.4L1379.0 758.3L1379.5 759.1L1380.0 759.9L1380.5 760.7L1381.0 761.5L1381.5 762.3L1382.0 763.1L1382.5 763.8L1383.0 764.6L1383.5 765.3L1384.0 766.1L1384.5 766.8L1385.0 767.5L1385.5 768.2L1386.0 768.9L1386.5 769.6L1387.0 770.3L1387.5 771.0L1388.0 771.6L1388.5 772.3L1389.0 773.0L1389.5 773.6L1390.0 774.3L1390.5 774.9L1391.0 775.5L1391.5 776.1L1392.0 776.8L1392.5 777.4L1393.0 778.0L1393.5 778.6L1394.0 779.2L1394.5 779.8L1395.0 780.4L1395.5 780.9L1396.0 781.5L1396.5 782.1L1397.0 782.6L1397.5 783.2L1398.0 783.7L1398.5 784.3L1399.0 784.8L1399.5 785.3L1400.0 785.8L1400.5 786.3L1401.0 786.9L1401.5 787.4L1402.0 787.9L1402.5 788.4L1403.0 788.9L1403.5 789.4L1404.0 789.8L1404.5 790.3L1405.0 790.8L1405.5 791.3L1406.0 791.8L1406.5 792.2L1407.0 792.7L1407.5 793.2L1408.0 793.7L1408.5 794.1L1409.0 794.6L1409.5 795.1L1410.0 795.5L1410.5 796.0L1411.0 796.4L1411.5 796.9L1412.0 797.4L1412.5 797.8L1413.0 798.3L1413.5 798.7L1414.0 799.2L1414.5 799.7L1415.0 800.1L1415.5 800.6L1416.0 801.1L1416.5 801.5L1417.0 802.0L1417.5 802.4L1418.0 802.9L1418.5 803.4L1419.0 803.8L1419.5 804.3L1420.0 804.7L1420.5 805.2L1421.0 805.6L1421.5 806.1L1422.0 806.5L1422.5 807.0L1423.0 807.4L1423.5 807.8L1424.0 808.3L1424.5 808.7L1425.0 809.2L1425.5 809.6L1426.0 810.0L1426.5 810.5L1427.0 810.9L1427.5 811.3L1428.0 811.8L1428.5 812.2L1429.0 812.6L1429.5 813.0L1430.0 813.5L1430.5 813.9L1431.0 814.3L1431.5 814.7L1432.0 815.1L1432.5 815.5L1433.0 816.0L1433.5 816.4L1434.0 816.8L1434.5 817.2L1435.0 817.6L1435.5 818.0L1436.0 818.4L1436.5 818.8L1437.0 819.2L1437.5 819.6L1438.0 820.0L1438.0 820.0L1438.5 772.7L1439.0 731.4L1439.5 697.9L1440.0 670.1L1440.5 646.7L1441.0 630.0L1441.5 618.7L1442.0 609.7L1442.5 602.8L1443.0 597.8L1443.5 593.6L1444.0 590.0L1444.5 587.0L1445.0 584.3L1445.5 581.9L1446.0 579.8L1446.5 577.9L1447.0 576.1L1447.5 574.5L1448.0 573.0L1448.5 571.6L1449.0 570.4L1449.5 569.2L1450.0 568.0L1450.5 566.9L1451.0 565.8L1451.5 564.8L1452.0 563.8L1452.5 562.9L1453.0 562.0L1453.5 561.1L1454.0 560.3L1454.5 559.6L1455.0 558.9L1455.5 558.3L1456.0 557.6L1456.5 557.0L1457.0 556.5L1457.5 555.9L1458.0 555.4L1458.5 554.9L1459.0 554.4L1459.5 554.0L1460.0 553.7L1460.5 553.4L1461.0 553.1L1461.5 552.8L1462.0 552.5L1462.5 552.2L1463.0 552.0L1463.5 551.8L1464.0 551.5L1464.5 551.3L1465.0 551.1L1465.5 550.9L1466.0 550.8L1466.5 550.6L1467.0 550.5L1467.5 550.3L1468.0 550.2L1468.5 550.1L1469.0 550.0L1469.5 549.9L1470.0 549.8L1470.5 549.7L1471.0 549.6L1471.5 549.6L1472.0 549.5L1472.5 549.4L1473.0 549.3L1473.5 549.2L1474.0 549.2L1474.5 549.1L1475.0 549.0L1475.5 549.0L1476.0 548.9L1476.5 548.8L1477.0 548.8L1477.5 548.8L1478.0 548.7L1478.5 548.7L1479.0 548.7L1479.5 548.6L1480.0 548.6L1480.5 548.6L1481.0 548.6L1481.0 548.6L1481.5 563.4L1482.0 577.8L1482.5 591.7L1483.0 605.1L1483.5 619.1L1484.0 633.1L1484.5 646.5L1485.0 658.4L1485.5 668.3L1486.0 675.7L1486.5 681.9L1487.0 687.4L1487.5 692.5L1488.0 697.1L1488.5 701.2L1489.0 705.0L1489.5 708.4L1490.0 711.6L1490.5 714.6L1491.0 717.5L1491.5 720.1L1492.0 722.7L1492.5 725.0L1493.0 727.3L1493.5 729.4L1494.0 731.5L1494.5 733.4L1495.0 735.2L1495.5 737.0L1496.0 738.6L1496.6 740.2L1497.1 741.8L1497.6 743.3L1498.1 744.8L1498.6 746.2L1499.1 747.6L1499.6 749.0L1500.1 750.3L1500.6 751.6L1501.1 752.9L1501.6 754.1L1502.1 755.3L1502.6 756.5L1503.1 757.6L1503.6 758.7L1504.1 759.8L1504.6 760.9L1505.1 761.9L1505.6 762.9L1506.1 763.9L1506.6 764.9L1507.1 765.9L1507.6 766.8L1508.1 767.8L1508.6 768.7L1509.1 769.6L1509.6 770.5L1510.1 771.3L1510.6 772.2L1511.1 773.1L1511.6 773.9L1512.1 774.7L1512.6 775.5L1513.1 776.3L1513.6 777.1L1514.1 777.9L1514.6 778.7L1515.1 779.4L1515.6 780.2L1516.1 780.9L1516.6 781.7L1517.1 782.4L1517.6 783.1L1518.1 783.8L1518.6 784.5L1519.1 785.2L1519.6 785.9L1520.1 786.5L1520.6 787.2L1521.1 787.8L1521.6 788.5L1522.1 789.1L1522.6 789.8L1523.1 790.4L1523.6 791.0L1524.1 791.6L1524.6 792.2L1525.1 792.8L1525.6 793.4L1526.1 794.0L1526.7 794.6L1527.2 795.2L1527.7 795.8L1528.2 796.3L1528.7 796.9L1529.2 797.4L1529.7 798.0L1530.2 798.5L1530.7 799.1L1531.2 799.6L1531.7 800.1L1532.2 800.6L1532.7 801.2L1533.2 801.7L1533.7 802.2L1534.2 802.7L1534.7 803.2L1535.2 803.7L1535.7 804.1L1536.2 804.6L1536.7 805.1L1537.2 805.6L1537.7 806.0L1538.2 806.5L1538.7 807.0L1539.2 807.4L1539.7 807.9L1540.2 808.3L1540.7 808.8L1541.2 809.3L1541.7 809.7L1542.2 810.2L1542.7 810.6L1543.2 811.0L1543.7 811.5L1544.2 811.9L1544.7 812.4L1545.2 812.8L1545.7 813.3L1546.2 813.7L1546.7 814.1L1547.2 814.6L1547.7 815.0L1548.2 815.5L1548.7 815.9L1549.2 816.4L1549.7 816.8L1550.2 817.3L1550.7 817.7L1551.2 818.1L1551.7 818.6L1552.2 819.0L1552.7 819.5L1553.2 819.9L1553.7 820.3L1554.2 820.8L1554.7 821.2L1555.2 821.6L1555.7 822.0L1556.2 822.5L1556.8 822.9L1557.3 823.3L1557.8 823.7L1558.3 824.2L1558.8 824.6L1559.3 825.0L1559.8 825.4L1560.3 825.8L1560.8 826.3L1561.3 826.7L1561.8 827.1L1562.3 827.5L1562.8 827.9L1563.3 828.3L1563.8 828.7L1564.3 829.1L1564.8 829.5L1565.3 829.9L1565.8 830.3L1566.3 830.7L1566.8 831.1L1567.3 831.5L1567.8 831.9L1568.3 832.3L1568.8 832.7L1569.3 833.1L1569.8 833.5L1570.3 833.9L1570.8 834.2L1571.3 834.6L1571.8 835.0L1571.8 835.0L1572.3 786.7L1572.8 744.6L1573.3 710.6L1573.8 682.3L1574.3 658.7L1574.8 642.2L1575.3 630.8L1575.8 621.8L1576.3 614.9L1576.8 610.0L1577.4 605.8L1577.9 602.2L1578.4 599.1L1578.9 596.4L1579.4 594.1L1579.9 592.0L1580.4 590.0L1580.9 588.3L1581.4 586.6L1581.9 585.1L1582.4 583.8L1582.9 582.5L1583.4 581.2L1583.9 580.1L1584.4 579.0L1584.9 577.9L1585.4 576.8L1585.9 575.8L1586.4 574.9L1586.9 574.0L1587.4 573.2L1588.0 572.4L1588.5 571.6L1589.0 571.0L1589.5 570.3L1590.0 569.7L1590.5 569.1L1591.0 568.5L1591.5 567.9L1592.0 567.4L1592.5 566.9L1593.0 566.5L1593.5 566.1L1594.0 565.8L1594.5 565.5L1595.0 565.2L1595.5 564.9L1596.0 564.6L1596.5 564.3L1597.0 564.1L1597.5 563.8L1598.0 563.6L1598.5 563.4L1599.1 563.2L1599.6 563.0L1600.1 562.9L1600.6 562.7L1601.1 562.6L1601.6 562.5L1602.1 562.4L1602.6 562.3L1603.1 562.2L1603.6 562.1L1604.1 562.0L1604.6 561.9L1605.1 561.8L1605.6 561.7L1606.1 561.6L1606.6 561.5L1607.1 561.4L1607.6 561.4L1608.1 561.3L1608.6 561.2L1609.1 561.2L1609.7 561.1L1610.2 561.1L1610.7 561.0L1611.2 561.0L1611.7 560.9L1612.2 560.9L1612.7 560.9L1613.2 560.8L1613.7 560.8L1614.2 560.8L1614.7 560.8L1614.7 560.8L1615.2 575.5L1615.7 589.7L1616.2 603.4L1616.7 616.8L1617.2 630.6L1617.7 644.5L1618.2 657.6L1618.7 669.4L1619.2 679.1L1619.7 686.2L1620.2 692.3L1620.7 697.8L1621.2 702.8L1621.7 707.3L1622.2 711.3L1622.7 715.0L1623.2 718.4L1623.7 721.6L1624.2 724.5L1624.7 727.3L1625.2 729.9L1625.7 732.4L1626.2 734.8L1626.7 737.0L1627.2 739.1L1627.7 741.1L1628.2 743.0L1628.7 744.8L1629.2 746.5L1629.8 748.1L1630.3 749.7L1630.8 751.2L1631.3 752.7L1631.8 754.2L1632.3 755.6L1632.8 757.0L1633.3 758.3L1633.8 759.6L1634.3 760.9L1634.8 762.1L1635.3 763.3L1635.8 764.5L1636.3 765.7L1636.8 766.8L1637.3 767.9L1637.8 769.0L1638.3 770.0L1638.8 771.0L1639.3 772.0L1639.8 773.0L1640.3 774.0L1640.8 774.9L1641.3 775.9L1641.8 776.8L1642.3 777.7L1642.8 778.6L1643.3 779.5L1643.8 780.3L1644.3 781.2L1644.8 782.0L1645.3 782.8L1645.8 783.6L1646.3 784.4L1646.8 785.2L1647.3 786.0L1647.8 786.8L1648.3 787.6L1648.8 788.3L1649.3 789.0L1649.8 789.8L1650.3 790.5L1650.8 791.2L1651.3 791.9L1651.8 792.6L1652.3 793.3L1652.8 793.9L1653.3 794.6L1653.8 795.3L1654.3 795.9L1654.8 796.6L1655.3 797.2L1655.8 797.8L1656.3 798.5L1656.8 799.1L1657.3 799.7L1657.8 800.3L1658.3 800.9L1658.8 801.5L1659.3 802.1L1659.8 802.6L1660.4 803.2L1660.9 803.8L1661.4 804.4L1661.9 804.9L1662.4 805.5L1662.9 806.0L1663.4 806.6L1663.9 807.1L1664.4 807.6L1664.9 808.1L1665.4 808.7L1665.9 809.2L1666.4 809.7L1666.9 810.2L1667.4 810.7L1667.9 811.2L1668.4 811.7L1668.9 812.1L1669.4 812.6L1669.9 813.1L1670.4 813.6L1670.9 814.0L1671.4 814.5L1671.9 814.9L1672.4 815.4L1672.9 815.9L1673.4 816.3L1673.9 816.8L1674.4 817.2L1674.9 817.7L1675.4 818.1L1675.9 818.5L1676.4 819.0L1676.9 819.4L1677.4 819.9L1677.9 820.3L1678.4 820.7L1678.9 821.2L1679.4 821.6L1679.9 822.1L1680.4 822.5L1680.9 822.9L1681.4 823.4L1681.9 823.8L1682.4 824.3L1682.9 824.7L1683.4 825.1L1683.9 825.6L1684.4 826.0L1684.9 826.4L1685.4 826.9L1685.9 827.3L1686.4 827.7L1686.9 828.2L1687.4 828.6L1687.9 829.0L1688.4 829.4L1688.9 829.9L1689.4 830.3L1690.0 830.7L1690.5 831.1L1691.0 831.6L1691.5 832.0L1692.0 832.4L1692.5 832.8L1693.0 833.2L1693.5 833.6L1694.0 834.0L1694.5 834.5L1695.0 834.9L1695.5 835.3L1696.0 835.7L1696.5 836.1L1697.0 836.5L1697.5 836.9L1698.0 837.3L1698.5 837.7L1699.0 838.1L1699.5 838.5L1700.0 838.9L1700.5 839.2L1701.0 839.6L1701.5 840.0L1702.0 840.4L1702.5 840.8L1703.0 841.2L1703.5 841.6L1704.0 841.9L1704.5 842.3L1705.0 842.7L1705.0 842.7L1705.5 794.6L1706.0 752.8L1706.5 719.0L1707.0 690.9L1707.5 667.4L1708.0 650.9L1708.5 639.6L1709.0 630.7L1709.5 623.9L1710.0 618.9L1710.5 614.7L1711.0 611.2L1711.5 608.1L1712.0 605.4L1712.5 603.1L1713.0 601.0L1713.5 599.1L1714.0 597.3L1714.5 595.7L1715.0 594.2L1715.5 592.8L1716.0 591.5L1716.5 590.3L1717.0 589.2L1717.5 588.1L1718.0 587.0L1718.5 585.9L1719.0 585.0L1719.5 584.0L1720.0 583.1L1720.5 582.3L1721.0 581.5L1721.5 580.8L1722.0 580.1L1722.5 579.5L1723.0 578.8L1723.5 578.2L1724.0 577.6L1724.5 577.1L1725.0 576.6L1725.5 576.1L1726.0 575.7L1726.6 575.3L1727.1 574.9L1727.6 574.6L1728.1 574.3L1728.6 574.0L1729.1 573.8L1729.6 573.5L1730.1 573.3L1730.6 573.0L1731.1 572.8L1731.6 572.6L1732.1 572.4L1732.6 572.2L1733.1 572.1L1733.6 571.9L1734.1 571.8L1734.6 571.7L1735.1 571.6L1735.6 571.5L1736.1 571.4L1736.6 571.3L1737.1 571.2L1737.6 571.1L1738.1 571.0L1738.6 570.9L1739.1 570.8L1739.6 570.7L1740.1 570.6L1740.6 570.6L1741.1 570.5L1741.6 570.4L1742.1 570.4L1742.6 570.3L1743.1 570.3L1743.6 570.2L1744.1 570.2L1744.6 570.1L1745.1 570.1L1745.6 570.1L1746.1 570.0L1746.6 570.0L1747.1 570.0L1747.6 570.0L1747.6 570.0L1748.1 622.7L1748.6 647.0L1749.1 665.0L1749.6 678.2L1750.1 687.9L1750.6 695.5L1751.1 702.3L1751.6 708.3L1752.1 713.7L1752.6 718.5L1753.1 722.8L1753.6 726.7L1754.1 730.2L1754.6 733.4L1755.1 736.3L1755.6 739.1L1756.1 741.7L1756.6 744.3L1757.1 746.7L1757.6 749.0L1758.1 751.1L1758.7 753.2L1759.2 755.1L1759.7 757.0L1760.2 758.8L1760.7 760.5L1761.2 762.1L1761.7 763.7L1762.2 765.2L1762.7 766.7L1763.2 768.2L1763.7 769.6L1764.2 771.1L1764.7 772.5L1765.2 773.8L1765.7 775.2L1766.2 776.5L1766.7 777.8L1767.2 779.1L1767.7 780.3L1768.2 781.6L1768.7 782.8L1769.2 783.9L1769.7 785.1L1770.2 786.2L1770.7 787.3L1771.2 788.3L1771.7 789.4L1772.2 790.4L1772.7 791.4L1773.2 792.4L1773.7 793.3L1774.2 794.2L1774.7 795.1L1775.2 796.0L1775.7 796.9L1776.2 797.7L1776.7 798.5L1777.2 799.3L1777.7 800.1L1778.2 800.9L1778.7 801.7L1779.2 802.5L1779.8 803.2L1780.3 804.0L1780.8 804.7L1781.3 805.4L1781.8 806.1L1782.3 806.8L1782.8 807.5L1783.3 808.2L1783.8 808.9L1784.3 809.5L1784.8 810.2L1785.3 810.8L1785.8 811.4L1786.3 812.0L1786.8 812.7L1787.3 813.3L1787.8 813.8L1788.3 814.4L1788.8 815.0L1789.3 815.6L1789.8 816.1L1790.3 816.7L1790.8 817.2L1791.3 817.8L1791.8 818.3L1792.3 818.8L1792.8 819.3L1793.3 819.9L1793.8 820.4L1794.3 820.9L1794.8 821.4L1795.3 821.8L1795.8 822.3L1796.3 822.8L1796.8 823.3L1797.3 823.7L1797.8 824.2L1798.3 824.7L1798.8 825.1L1799.3 825.6L1799.8 826.0L1800.3 826.4L1800.9 826.9L1801.4 827.3L1801.9 827.7L1802.4 828.1L1802.9 828.6L1803.4 829.0L1803.9 829.4L1804.4 829.8L1804.9 830.2L1805.4 830.6L1805.9 830.9L1806.4 831.3L1806.9 831.7L1807.4 832.1L1807.9 832.5L1808.4 832.8L1808.9 833.2L1809.4 833.6L1809.9 833.9L1810.4 834.3L1810.9 834.6L1811.4 835.0L1811.9 835.4L1812.4 835.7L1812.9 836.0L1813.4 836.4L1813.9 836.7L1814.4 837.1L1814.9 837.4L1815.4 837.7L1815.9 838.1L1816.4 838.4L1816.9 838.7L1817.4 839.1L1817.9 839.4L1818.4 839.7L1818.9 840.0L1819.4 840.3L1819.9 840.7L1820.4 841.0L1820.9 841.3L1821.4 841.6L1822.0 841.9L1822.5 842.2L1823.0 842.5L1823.5 842.8L1824.0 843.1L1824.5 843.4L1825.0 843.6L1825.5 843.9L1826.0 844.2L1826.5 844.5L1827.0 844.7L1827.5 845.0L1828.0 845.3L1828.5 845.5L1829.0 845.8L1829.5 846.1L1830.0 846.3L1830.5 846.5L1831.0 846.8L1831.5 847.0L1832.0 847.3L1832.5 847.5" stroke="#cc2ccc" stroke-width="5.7"/>
<path d="M222.5 852.0L238.5 856.6L238.5 856.6L239.0 745.7L239.5 660.7L240.0 629.9L240.5 609.4L241.0 592.8L241.5 579.9L242.0 570.4L242.5 564.2L243.0 561.0L243.5 559.4L244.0 557.9L244.5 556.6L245.0 555.5L245.5 554.6L246.0 553.9L246.5 553.4L247.0 553.1L247.5 553.0L247.5 553.0L248.0 553.3L248.5 553.5L249.0 553.8L249.5 554.0L250.0 554.3L250.5 554.5L251.0 554.7L251.5 555.0L252.0 555.2L252.5 555.4L253.0 555.6L253.5 555.8L254.0 556.0L254.5 556.2L255.0 556.4L255.5 556.6L256.0 556.8L256.5 557.0L257.0 557.1L257.5 557.3L258.0 557.5L258.5 557.6L259.0 557.8L259.5 557.9L260.0 558.1L260.5 558.2L261.0 558.4L261.5 558.5L262.0 558.7L262.5 558.8L263.0 558.9L263.5 559.1L264.0 559.2L264.5 559.3L265.0 559.4L265.5 559.5L266.0 559.6L266.5 559.7L267.0 559.8L267.5 559.9L268.0 560.0L268.5 560.1L269.0 560.2L269.5 560.3L270.0 560.4L270.5 560.5L271.0 560.6L271.5 560.7L272.0 560.8L272.5 560.8L273.0 560.9L273.5 561.0L274.0 561.1L274.5 561.1L275.0 561.2L275.5 561.3L276.0 561.4L276.5 561.4L277.0 561.5L277.5 561.6L278.0 561.6L278.5 561.7L279.0 561.7L279.5 561.8L280.0 561.8L280.5 561.9L281.0 562.0L281.5 562.0L281.5 562.0L282.0 612.4L282.5 652.6L283.0 683.0L283.5 709.2L284.0 730.5L284.5 746.0L285.0 758.3L285.5 769.0L286.0 778.2L286.5 785.9L287.0 792.3L287.5 797.3L288.0 801.5L288.5 805.1L289.0 808.2L289.5 811.0L290.0 813.5L290.5 816.0L291.0 818.3L291.5 820.5L292.0 822.5L292.5 824.3L293.0 825.8L293.5 827.1L294.0 828.3L294.5 829.3L295.0 830.3L295.5 831.2L296.0 832.0L296.5 832.8L297.0 833.6L297.5 834.3L298.0 835.0L298.5 835.6L299.0 836.3L299.5 836.9L300.0 837.5L300.5 838.0L301.0 838.6L301.5 839.1L302.0 839.6L302.5 840.1L303.0 840.6L303.5 841.0L304.0 841.5L304.5 841.9L305.0 842.4L305.5 842.8L306.0 843.2L306.5 843.6L307.0 844.1L307.5 844.5L308.0 844.9L308.5 845.3L309.0 845.7L309.5 846.1L310.0 846.5L310.5 846.9L311.0 847.3L311.5 847.7L312.0 848.0L312.5 848.4L313.0 848.8L313.5 849.1L314.0 849.4L314.5 849.8L315.0 850.1L315.5 850.4L316.0 850.7L316.5 851.0L317.0 851.3L317.5 851.6L318.0 851.8L318.5 852.1L319.0 852.3L319.5 852.6L320.0 852.8L320.5 853.0L321.0 853.2L321.5 853.4L322.0 853.5L322.5 853.7L323.0 853.9L323.5 854.1L324.0 854.2L324.5 854.4L325.0 854.6L325.5 854.7L326.0 854.9L326.5 855.0L327.0 855.2L327.5 855.3L328.0 855.5L328.5 855.6L329.0 855.8L329.5 855.9L330.0 856.1L330.5 856.2L331.0 856.3L331.5 856.5L332.0 856.6L332.5 856.7L333.0 856.8L333.5 857.0L334.0 857.1L334.5 857.2L335.0 857.3L335.5 857.4L336.0 857.6L336.5 857.7L337.0 857.8L337.5 857.9L338.0 858.0L338.5 858.1L339.0 858.2L339.5 858.3L340.0 858.4L340.5 858.5L341.0 858.6L341.5 858.7L342.0 858.8L342.5 858.9L343.0 859.0L343.5 859.1L344.0 859.2L344.5 859.3L345.0 859.4L345.5 859.5L346.0 859.6L346.5 859.7L347.0 859.8L347.5 859.9L348.0 860.0L348.5 860.1L349.0 860.2L349.5 860.3L350.0 860.4L350.5 860.5L351.0 860.6L351.5 860.7L352.0 860.8L352.5 860.9L353.0 861.0L353.5 861.1L354.0 861.2L354.5 861.3L355.0 861.4L355.5 861.5L356.0 861.6L356.5 861.7L357.0 861.8L357.5 861.9L358.0 862.0L358.5 862.1L359.0 862.2L359.5 862.3L360.0 862.4L360.5 862.5L361.0 862.6L361.5 862.7L362.0 862.8L362.5 862.9L363.0 863.0L363.5 863.1L364.0 863.2L364.5 863.3L365.0 863.4L365.5 863.4L366.0 863.5L366.5 863.6L367.0 863.7L367.5 863.8L368.0 863.9L368.5 864.0L369.0 864.1L369.5 864.2L370.0 864.3L370.5 864.3L371.0 864.4L371.5 864.5L372.0 864.6L372.0 864.6L372.5 752.0L373.0 667.0L373.5 624.0L374.0 592.6L374.5 570.7L375.0 561.0L375.5 558.5L376.0 556.5L376.5 555.0L377.0 553.9L377.5 553.2L378.0 553.0L378.0 553.0L378.5 553.3L379.0 553.5L379.5 553.8L380.0 554.0L380.5 554.3L381.0 554.5L381.5 554.7L382.0 555.0L382.5 555.2L383.0 555.4L383.5 555.6L384.0 555.9L384.5 556.1L385.0 556.3L385.5 556.5L386.0 556.7L386.5 556.8L387.0 557.0L387.5 557.2L388.0 557.4L388.5 557.6L389.0 557.7L389.5 557.9L390.0 558.1L390.5 558.2L391.0 558.4L391.5 558.5L392.0 558.7L392.5 558.8L393.0 559.0L393.5 559.1L394.0 559.2L394.5 559.4L395.0 559.5L395.5 559.6L396.0 559.7L396.5 559.8L397.0 560.0L397.5 560.1L398.0 560.2L398.5 560.3L399.0 560.4L399.5 560.5L400.0 560.6L400.5 560.7L401.0 560.8L401.5 560.9L402.0 561.0L402.5 561.1L403.0 561.2L403.5 561.2L404.0 561.3L404.5 561.4L405.0 561.5L405.5 561.6L406.0 561.6L406.5 561.7L407.0 561.8L407.5 561.9L408.0 561.9L408.5 562.0L409.0 562.1L409.5 562.1L410.0 562.2L410.5 562.3L411.0 562.3L411.5 562.4L412.0 562.4L412.5 562.5L413.0 562.5L413.5 562.6L414.0 562.7L414.5 562.7L414.5 562.7L415.0 613.5L415.5 654.1L416.0 684.9L416.5 711.4L417.0 732.9L417.5 748.7L418.0 761.2L418.5 772.1L419.0 781.4L419.5 789.3L420.0 795.7L420.5 800.9L421.0 805.1L421.5 808.8L422.0 812.0L422.5 814.8L423.0 817.4L423.5 819.9L424.0 822.3L424.5 824.5L425.0 826.5L425.5 828.3L426.0 829.9L426.5 831.3L427.0 832.4L427.5 833.5L428.0 834.5L428.5 835.4L429.0 836.3L429.5 837.1L430.0 837.8L430.5 838.5L431.0 839.2L431.5 839.9L432.0 840.5L432.5 841.2L433.0 841.8L433.5 842.3L434.0 842.9L434.5 843.4L435.0 843.9L435.5 844.4L436.0 844.9L436.5 845.4L437.0 845.8L437.5 846.3L438.0 846.7L438.5 847.2L439.0 847.6L439.5 848.0L440.0 848.5L440.5 848.9L441.0 849.3L441.5 849.7L442.0 850.1L442.5 850.6L443.0 851.0L443.5 851.3L444.0 851.7L444.5 852.1L445.0 852.5L445.5 852.9L446.0 853.2L446.5 853.6L447.0 853.9L447.5 854.3L448.0 854.6L448.5 854.9L449.0 855.2L449.5 855.5L450.0 855.8L450.5 856.1L451.0 856.4L451.5 856.6L452.0 856.9L452.5 857.1L453.0 857.3L453.5 857.5L454.0 857.7L454.5 857.9L455.0 858.1L455.5 858.3L456.0 858.5L456.5 858.6L457.0 858.8L457.5 859.0L458.0 859.2L458.5 859.3L459.0 859.5L459.5 859.6L460.0 859.8L460.5 859.9L461.0 860.1L461.5 860.2L462.0 860.4L462.5 860.5L463.0 860.7L463.5 860.8L464.0 860.9L464.5 861.1L465.0 861.2L465.5 861.3L466.0 861.5L466.5 861.6L467.0 861.7L467.5 861.8L468.0 862.0L468.5 862.1L469.0 862.2L469.5 862.3L470.0 862.4L470.5 862.5L471.0 862.6L471.5 862.8L472.0 862.9L472.5 863.0L473.0 863.1L473.5 863.2L474.0 863.3L474.5 863.4L475.0 863.5L475.5 863.6L476.0 863.7L476.5 863.8L477.0 863.9L477.5 864.0L478.0 864.1L478.5 864.2L479.0 864.3L479.5 864.4L480.0 864.5L480.5 864.6L481.0 864.7L481.5 864.8L482.0 864.9L482.5 865.0L483.0 865.1L483.5 865.2L484.0 865.3L484.5 865.4L485.0 865.4L485.5 865.5L486.0 865.6L486.5 865.7L487.0 865.8L487.5 865.9L488.0 866.1L488.5 866.2L489.0 866.3L489.5 866.4L490.0 866.5L490.5 866.6L491.0 866.7L491.5 866.8L492.0 866.9L492.5 867.0L493.0 867.1L493.5 867.2L494.0 867.3L494.5 867.4L495.0 867.5L495.5 867.6L496.0 867.7L496.5 867.8L497.0 867.9L497.5 868.0L498.0 868.0L498.5 868.1L499.0 868.2L499.5 868.3L500.0 868.4L500.5 868.5L501.0 868.6L501.5 868.7L502.0 868.8L502.5 868.9L503.0 869.0L503.5 869.0L504.0 869.1L504.5 869.2L505.0 869.3L505.5 869.4L505.5 869.4L506.0 762.8L506.5 675.8L507.0 604.1L507.5 559.6L508.0 555.8L508.5 553.4L509.0 552.0L509.5 551.6L509.5 551.6L510.0 551.8L510.5 552.1L511.0 552.3L511.5 552.5L512.0 552.8L512.5 553.0L513.0 553.2L513.5 553.4L514.0 553.6L514.5 553.8L515.0 554.0L515.5 554.2L516.0 554.4L516.5 554.6L517.0 554.8L517.5 555.0L518.0 555.2L518.5 555.3L519.0 555.5L519.5 555.7L520.0 555.8L520.5 556.0L521.0 556.1L521.5 556.3L522.0 556.4L522.5 556.6L523.0 556.7L523.5 556.9L524.0 557.0L524.5 557.2L525.0 557.3L525.5 557.4L526.0 557.5L526.5 557.7L527.0 557.8L527.5 557.9L528.0 558.0L528.5 558.1L529.0 558.2L529.5 558.3L530.0 558.4L530.5 558.5L531.0 558.6L531.5 558.7L532.0 558.8L532.5 558.9L533.0 559.0L533.5 559.1L534.0 559.2L534.5 559.3L535.0 559.4L535.5 559.4L536.0 559.5L536.5 559.6L537.0 559.7L537.5 559.7L538.0 559.8L538.5 559.9L539.0 560.0L539.5 560.0L540.0 560.1L540.5 560.2L541.0 560.2L541.5 560.3L542.0 560.4L542.5 560.4L543.0 560.5L543.5 560.5L544.0 560.6L544.5 560.7L545.0 560.7L545.5 560.8L546.0 560.8L546.5 560.9L547.0 560.9L547.5 561.0L548.0 561.0L548.0 561.0L548.5 612.6L549.0 653.8L549.5 685.0L550.0 711.8L550.5 733.6L551.0 749.5L551.5 762.1L552.0 773.1L552.5 782.5L553.0 790.4L553.5 796.9L554.0 802.0L554.5 806.3L555.0 810.0L555.5 813.2L556.0 816.1L556.5 818.7L557.0 821.2L557.5 823.6L558.0 825.8L558.5 827.9L559.0 829.7L559.5 831.3L560.0 832.6L560.5 833.8L561.0 834.9L561.5 835.9L562.0 836.8L562.5 837.6L563.0 838.4L563.5 839.2L564.0 839.9L564.5 840.6L565.0 841.3L565.5 842.0L566.0 842.6L566.5 843.2L567.0 843.8L567.5 844.3L568.0 844.9L568.5 845.4L569.0 845.9L569.5 846.4L570.0 846.9L570.5 847.3L571.1 847.8L571.6 848.2L572.1 848.7L572.6 849.1L573.1 849.5L573.6 850.0L574.1 850.4L574.6 850.8L575.1 851.2L575.6 851.7L576.1 852.1L576.6 852.5L577.1 852.9L577.6 853.3L578.1 853.7L578.6 854.0L579.1 854.4L579.6 854.8L580.1 855.1L580.6 855.5L581.1 855.8L581.6 856.1L582.1 856.5L582.6 856.8L583.1 857.1L583.6 857.4L584.1 857.7L584.6 857.9L585.1 858.2L585.6 858.4L586.1 858.7L586.6 858.9L587.1 859.1L587.6 859.3L588.1 859.5L588.6 859.7L589.1 859.8L589.6 860.0L590.1 860.2L590.6 860.4L591.1 860.6L591.6 860.7L592.1 860.9L592.6 861.1L593.1 861.2L593.6 861.4L594.1 861.5L594.6 861.7L595.1 861.8L595.6 862.0L596.1 862.1L596.6 862.3L597.1 862.4L597.6 862.5L598.1 862.7L598.6 862.8L599.1 862.9L599.6 863.1L600.1 863.2L600.6 863.3L601.1 863.4L601.6 863.5L602.1 863.7L602.6 863.8L603.1 863.9L603.6 864.0L604.1 864.1L604.6 864.2L605.1 864.4L605.6 864.5L606.1 864.6L606.6 864.7L607.1 864.8L607.6 864.9L608.1 865.0L608.6 865.1L609.1 865.2L609.6 865.3L610.1 865.4L610.6 865.5L611.1 865.6L611.6 865.7L612.1 865.8L612.6 865.9L613.1 866.0L613.6 866.1L614.1 866.2L614.6 866.3L615.1 866.4L615.6 866.5L616.2 866.6L616.7 866.7L617.2 866.8L617.7 866.9L618.2 867.0L618.7 867.1L619.2 867.2L619.7 867.3L620.2 867.4L620.7 867.5L621.2 867.6L621.7 867.7L622.2 867.8L622.7 867.9L623.2 868.0L623.7 868.1L624.2 868.2L624.7 868.3L625.2 868.4L625.7 868.5L626.2 868.6L626.7 868.7L627.2 868.8L627.7 868.9L628.2 869.0L628.7 869.1L629.2 869.2L629.7 869.3L630.2 869.4L630.7 869.5L631.2 869.6L631.7 869.7L632.2 869.8L632.7 869.9L633.2 870.0L633.7 870.1L634.2 870.2L634.7 870.3L635.2 870.4L635.7 870.5L636.2 870.6L636.7 870.6L637.2 870.7L637.7 870.8L638.2 870.9L638.7 871.0L638.7 871.0L639.2 757.6L639.7 671.9L640.2 628.6L640.7 596.8L641.2 574.8L641.7 565.0L642.2 562.5L642.7 560.5L643.2 559.0L643.7 557.9L644.2 557.2L644.7 557.0L644.7 557.0L645.2 557.1L645.7 557.2L646.2 557.2L646.7 557.3L647.2 557.4L647.7 557.5L648.2 557.5L648.7 557.6L649.2 557.7L649.7 557.8L650.2 557.8L650.8 557.9L651.3 558.0L651.8 558.0L652.3 558.1L652.8 558.1L653.3 558.2L653.8 558.3L654.3 558.3L654.8 558.4L655.3 558.4L655.8 558.5L656.3 558.5L656.8 558.6L657.3 558.6L657.8 558.7L658.3 558.7L658.8 558.8L659.3 558.8L659.8 558.9L660.3 558.9L660.8 558.9L661.3 559.0L661.8 559.0L662.3 559.1L662.9 559.1L663.4 559.1L663.9 559.2L664.4 559.2L664.9 559.2L665.4 559.3L665.9 559.3L666.4 559.3L666.9 559.4L667.4 559.4L667.9 559.4L668.4 559.5L668.9 559.5L669.4 559.5L669.9 559.5L670.4 559.6L670.9 559.6L671.4 559.6L671.9 559.6L672.4 559.7L672.9 559.7L673.4 559.7L673.9 559.7L674.4 559.8L675.0 559.8L675.5 559.8L676.0 559.8L676.5 559.8L677.0 559.9L677.5 559.9L678.0 559.9L678.5 559.9L679.0 559.9L679.5 560.0L680.0 560.0L680.5 560.0L681.0 560.0L681.0 560.0L681.5 601.5L682.0 640.0L682.5 678.1L683.0 714.0L683.5 740.0L684.0 757.5L684.5 773.2L685.0 786.8L685.5 797.9L686.0 806.4L686.5 812.0L687.0 815.2L687.5 818.1L688.0 820.6L688.5 822.9L689.0 824.8L689.5 826.6L690.0 828.1L690.5 829.5L691.0 830.8L691.5 832.0L692.0 833.1L692.5 834.2L693.0 835.3L693.5 836.5L694.0 837.6L694.5 838.8L695.0 839.9L695.5 841.0L696.0 842.1L696.5 843.2L697.0 844.2L697.5 845.2L698.0 846.2L698.5 847.1L699.0 848.0L699.5 848.8L700.0 849.5L700.5 850.2L701.0 850.8L701.5 851.4L702.0 851.8L702.5 852.2L703.0 852.5L703.5 852.7L704.0 852.9L704.5 853.1L705.0 853.3L705.5 853.4L706.0 853.5L706.5 853.5L709.5 840.0L710.0 813.4L710.5 790.8L711.0 774.0L711.5 765.0L712.0 760.9L712.5 758.1L713.0 757.0L713.5 757.2L714.0 757.8L714.5 758.7L715.0 759.8L715.5 761.1L716.0 762.5L716.5 763.9L717.0 765.2L717.5 766.5L718.0 767.5L718.5 768.3L719.0 769.0L719.5 769.7L720.0 770.4L720.5 771.1L721.0 771.7L721.5 772.4L722.0 773.0L722.5 773.6L723.0 774.1L723.5 774.7L724.0 775.2L724.5 775.8L725.0 776.3L725.5 776.8L726.0 777.3L726.5 777.8L727.0 778.3L727.5 778.8L728.0 779.3L728.5 779.8L729.0 780.3L729.5 780.8L730.0 781.3L730.5 781.8L731.0 782.3L731.5 782.8L732.0 783.3L732.5 783.8L733.0 784.3L733.5 784.8L734.0 785.3L734.5 785.8L735.0 786.3L735.5 786.8L736.0 787.3L736.5 787.8L737.0 788.3L737.5 788.8L738.0 789.3L738.5 789.8L739.0 790.3L739.5 790.8L740.0 791.3L740.5 791.8L741.0 792.3L741.5 792.8L742.0 793.3L742.5 793.8L743.0 794.2L743.5 794.7L744.0 795.2L744.5 795.7L745.0 796.1L745.5 796.6L746.0 797.0L746.5 797.5L747.0 797.9L747.5 798.4L748.0 798.8L748.5 799.3L749.0 799.7L749.5 800.1L750.0 800.5L750.5 800.9L751.0 801.3L751.5 801.7L752.0 802.1L752.5 802.5L753.0 802.9L753.5 803.2L754.0 803.6L754.5 803.9L755.0 804.3L755.5 804.6L756.0 804.9L756.5 805.2L757.0 805.6L757.5 805.9L758.0 806.1L758.5 806.4L759.0 806.7L759.5 806.9L760.0 807.2L760.5 807.4L761.0 807.7L761.5 807.9L762.0 808.1L762.5 808.3L763.0 808.5L763.5 808.6L764.0 808.8L764.5 808.9L765.0 809.1L765.5 809.2L766.0 809.3L766.5 809.4L767.0 809.5L767.5 809.6L768.0 809.7L768.5 809.7L769.0 809.8L769.5 809.9L770.0 809.9L770.5 810.0L771.0 810.0L771.0 810.0L771.5 723.3L772.0 596.0L772.5 430.5L773.0 425.4L773.5 423.1L774.0 422.5L774.0 422.5L774.5 423.2L775.0 423.9L775.5 424.7L776.0 425.4L776.5 426.0L777.0 426.7L777.5 427.4L778.0 428.1L778.5 428.7L779.0 429.3L779.5 430.0L780.0 430.6L780.5 431.2L781.0 431.8L781.5 432.3L782.0 432.9L782.5 433.5L783.0 434.0L783.5 434.5L784.0 435.0L784.5 435.5L785.0 436.0L785.5 436.5L786.0 437.0L786.5 437.4L787.0 437.9L787.5 438.3L788.0 438.8L788.5 439.2L789.0 439.6L789.5 440.0L790.0 440.4L790.5 440.8L791.0 441.2L791.5 441.6L792.0 441.9L792.5 442.3L793.0 442.6L793.5 443.0L794.0 443.3L794.5 443.6L795.0 443.9L795.5 444.3L796.0 444.6L796.5 444.9L797.0 445.1L797.5 445.4L798.0 445.7L798.5 446.0L799.0 446.2L799.5 446.5L800.0 446.8L800.5 447.0L801.0 447.3L801.5 447.5L802.0 447.7L802.5 448.0L803.0 448.2L803.5 448.4L804.0 448.6L804.5 448.8L805.0 449.0L805.5 449.2L806.0 449.4L806.5 449.6L807.0 449.8L807.5 450.0L808.0 450.2L808.5 450.4L809.0 450.6L809.5 450.8L810.0 450.9L810.5 451.1L811.0 451.3L811.5 451.4L812.0 451.6L812.5 451.7L813.0 451.9L813.5 452.0L813.5 452.0L814.0 516.6L814.5 566.2L815.0 601.8L815.5 630.6L816.0 650.3L816.5 663.8L817.0 675.9L817.5 686.8L818.0 696.4L818.5 705.0L819.0 712.5L819.5 719.0L820.0 724.6L820.5 729.4L821.0 733.4L821.5 736.8L822.0 739.8L822.5 742.5L823.0 745.0L823.5 747.1L824.0 749.1L824.5 751.0L825.0 752.7L825.5 754.4L826.0 756.1L826.5 757.7L827.0 759.3L827.5 760.8L828.0 762.4L828.5 763.8L829.0 765.3L829.5 766.7L830.0 768.1L830.5 769.4L831.0 770.7L831.5 772.0L832.0 773.3L832.5 774.5L833.0 775.7L833.5 776.8L834.0 777.9L834.5 779.0L835.0 780.1L835.5 781.1L836.0 782.1L836.5 783.1L837.0 784.1L837.5 785.0L838.0 785.9L838.5 786.8L839.0 787.6L839.5 788.5L840.0 789.3L840.5 790.1L841.0 790.8L841.5 791.6L842.0 792.3L842.5 793.0L843.0 793.7L843.5 794.4L844.0 795.1L844.5 795.7L845.0 796.4L845.5 797.0L846.0 797.6L846.5 798.2L847.0 798.8L847.5 799.3L848.0 799.9L848.5 800.4L849.0 801.0L849.5 801.5L850.0 802.0L850.5 802.5L851.0 803.0L851.5 803.5L852.0 804.0L852.5 804.4L853.0 804.9L853.5 805.3L854.0 805.8L854.5 806.2L855.0 806.6L855.5 807.0L856.0 807.4L856.5 807.8L857.0 808.2L857.5 808.6L858.0 809.0L858.5 809.3L859.0 809.7L859.5 810.1L860.0 810.4L860.5 810.8L861.0 811.1L861.5 811.5L862.0 811.9L862.5 812.2L863.0 812.6L863.5 812.9L864.0 813.3L864.5 813.6L865.0 814.0L865.5 814.3L866.0 814.7L866.5 815.0L867.0 815.4L867.5 815.7L868.0 816.1L868.5 816.5L869.0 816.8L869.5 817.2L870.0 817.5L870.5 817.9L871.0 818.2L871.5 818.6L872.0 818.9L872.5 819.3L873.0 819.6L873.5 820.0L874.0 820.3L874.5 820.6L875.0 821.0L875.5 821.3L876.0 821.6L876.5 821.9L877.0 822.2L877.5 822.5L878.0 822.8L878.5 823.1L879.0 823.4L879.5 823.6L880.0 823.9L880.5 824.2L881.0 824.4L881.5 824.7L882.0 825.0L882.5 825.2L883.0 825.5L883.5 825.7L884.0 826.0L884.5 826.2L885.0 826.5L885.5 826.8L886.0 827.0L886.5 827.2L887.0 827.5L887.5 827.7L888.0 828.0L888.5 828.2L889.0 828.5L889.5 828.7L890.0 828.9L890.5 829.2L891.0 829.4L891.5 829.6L892.0 829.8L892.5 830.1L893.0 830.3L893.5 830.5L894.0 830.7L894.5 830.9L895.0 831.1L895.5 831.3L896.0 831.5L896.5 831.7L897.0 831.9L897.5 832.1L898.0 832.3L898.5 832.5L899.0 832.7L899.5 832.8L900.0 833.0L900.5 833.2L901.0 833.4L901.5 833.5L902.0 833.7L902.5 833.8L903.0 834.0L903.5 834.2L904.0 834.3L904.0 834.3L904.5 694.6L905.0 588.9L905.5 534.8L906.0 494.8L906.5 466.9L907.0 455.0L907.5 452.5L908.0 450.5L908.5 448.9L909.0 447.8L909.5 447.2L910.0 447.0L910.0 447.0L910.5 447.4L911.0 447.7L911.5 448.1L912.0 448.4L912.5 448.8L913.0 449.1L913.5 449.5L914.0 449.8L914.5 450.1L915.0 450.4L915.5 450.8L916.0 451.1L916.5 451.4L917.0 451.7L917.5 451.9L918.0 452.2L918.5 452.5L919.0 452.8L919.5 453.0L920.0 453.3L920.5 453.5L921.0 453.7L921.5 454.0L922.0 454.2L922.5 454.4L923.0 454.7L923.5 454.9L924.0 455.1L924.5 455.3L925.0 455.5L925.5 455.7L926.0 455.9L926.5 456.1L927.0 456.3L927.5 456.5L928.0 456.6L928.5 456.8L929.0 457.0L929.5 457.1L930.0 457.3L930.5 457.4L931.0 457.6L931.5 457.7L932.0 457.9L932.5 458.0L933.0 458.2L933.5 458.3L934.0 458.4L934.5 458.6L935.0 458.7L935.5 458.8L936.0 458.9L936.5 459.0L937.0 459.2L937.5 459.3L938.0 459.4L938.5 459.5L939.0 459.6L939.5 459.7L940.0 459.8L940.5 459.9L941.0 460.0L941.5 460.1L942.0 460.2L942.5 460.3L943.0 460.4L943.5 460.5L944.0 460.5L944.5 460.6L945.0 460.7L945.5 460.8L946.0 460.9L946.5 460.9L947.0 461.0L947.0 461.0L947.5 525.1L948.0 574.6L948.5 609.5L949.0 637.6L949.5 658.6L950.0 674.7L950.5 688.8L951.0 701.0L951.5 711.1L952.0 719.3L952.5 725.6L953.0 731.1L953.5 736.0L954.0 740.4L954.5 744.4L955.0 748.0L955.5 751.2L956.0 754.2L956.5 756.9L957.0 759.6L957.5 762.0L958.0 764.3L958.5 766.3L959.0 768.3L959.5 770.1L960.0 771.9L960.5 773.5L961.0 775.2L961.5 776.8L962.0 778.4L962.5 779.9L963.0 781.4L963.5 782.9L964.0 784.3L964.5 785.7L965.0 787.1L965.5 788.4L966.0 789.7L966.5 790.9L967.0 792.0L967.5 793.1L968.0 794.2L968.5 795.2L969.0 796.3L969.5 797.3L970.0 798.3L970.5 799.2L971.0 800.2L971.5 801.1L972.0 802.0L972.5 802.9L973.0 803.7L973.5 804.6L974.0 805.4L974.5 806.2L975.0 806.9L975.5 807.6L976.0 808.4L976.5 809.0L977.0 809.7L977.5 810.4L978.0 811.0L978.5 811.6L979.0 812.2L979.5 812.8L980.0 813.4L980.5 814.0L981.0 814.6L981.5 815.2L982.0 815.7L982.5 816.3L983.0 816.8L983.5 817.3L984.0 817.9L984.5 818.4L985.0 818.9L985.5 819.4L986.0 819.9L986.5 820.4L987.0 820.8L987.5 821.3L988.0 821.7L988.5 822.2L989.0 822.6L989.5 823.0L990.0 823.5L990.5 823.9L991.0 824.3L991.5 824.7L992.0 825.1L992.5 825.4L993.0 825.8L993.5 826.2L994.0 826.5L994.5 826.9L995.0 827.2L995.5 827.5L996.0 827.9L996.5 828.2L997.0 828.5L997.5 828.8L998.0 829.2L998.5 829.5L999.0 829.8L999.5 830.1L1000.0 830.4L1000.5 830.7L1001.0 830.9L1001.5 831.2L1002.0 831.5L1002.5 831.8L1003.0 832.0L1003.5 832.3L1004.0 832.6L1004.5 832.8L1005.0 833.1L1005.5 833.3L1006.0 833.5L1006.5 833.8L1007.0 834.0L1007.5 834.2L1008.0 834.5L1008.5 834.7L1009.0 834.9L1009.5 835.1L1010.0 835.3L1010.5 835.5L1011.0 835.7L1011.5 835.9L1012.0 836.1L1012.5 836.3L1013.0 836.5L1013.5 836.7L1014.0 836.8L1014.5 837.0L1015.0 837.2L1015.5 837.4L1016.0 837.6L1016.5 837.8L1017.0 838.0L1017.5 838.1L1018.0 838.3L1018.5 838.5L1019.0 838.7L1019.5 838.8L1020.0 839.0L1020.5 839.2L1021.0 839.3L1021.5 839.5L1022.0 839.7L1022.5 839.8L1023.0 840.0L1023.5 840.1L1024.0 840.3L1024.5 840.4L1025.0 840.6L1025.5 840.7L1026.0 840.9L1026.5 841.0L1027.0 841.2L1027.5 841.3L1028.0 841.4L1028.5 841.6L1029.0 841.7L1029.5 841.8L1030.0 842.0L1030.5 842.1L1031.0 842.2L1031.5 842.3L1032.0 842.4L1032.5 842.5L1033.0 842.6L1033.5 842.7L1034.0 842.8L1034.5 842.9L1035.0 843.0L1035.5 843.1L1036.0 843.2L1036.5 843.3L1037.0 843.3L1037.5 843.4L1037.5 843.4L1038.0 702.8L1038.5 596.2L1039.0 548.7L1039.5 514.8L1040.0 488.9L1040.5 471.8L1041.0 464.4L1041.5 462.2L1042.0 460.4L1042.5 459.0L1043.0 457.8L1043.5 457.0L1044.0 456.6L1044.5 456.4L1044.5 456.4L1045.0 456.6L1045.5 456.7L1046.0 456.9L1046.5 457.0L1047.0 457.2L1047.5 457.4L1048.0 457.5L1048.5 457.7L1049.0 457.8L1049.5 457.9L1050.0 458.1L1050.5 458.2L1051.1 458.3L1051.6 458.5L1052.1 458.6L1052.6 458.7L1053.1 458.8L1053.6 459.0L1054.1 459.1L1054.6 459.2L1055.1 459.3L1055.6 459.4L1056.1 459.5L1056.6 459.6L1057.1 459.7L1057.6 459.8L1058.1 459.9L1058.6 460.0L1059.1 460.1L1059.6 460.2L1060.1 460.3L1060.6 460.4L1061.1 460.4L1061.6 460.5L1062.1 460.6L1062.7 460.7L1063.2 460.7L1063.7 460.8L1064.2 460.9L1064.7 461.0L1065.2 461.0L1065.7 461.1L1066.2 461.2L1066.7 461.2L1067.2 461.3L1067.7 461.3L1068.2 461.4L1068.7 461.5L1069.2 461.5L1069.7 461.6L1070.2 461.6L1070.7 461.7L1071.2 461.7L1071.7 461.8L1072.2 461.8L1072.7 461.9L1073.2 461.9L1073.7 462.0L1074.2 462.0L1074.8 462.0L1075.3 462.1L1075.8 462.1L1076.3 462.2L1076.8 462.2L1077.3 462.3L1077.8 462.3L1078.3 462.3L1078.8 462.4L1079.3 462.4L1079.8 462.4L1080.3 462.5L1080.8 462.5L1080.8 462.5L1081.3 526.7L1081.8 576.1L1082.3 611.0L1082.8 639.1L1083.3 660.1L1083.8 676.2L1084.3 690.4L1084.8 702.5L1085.3 712.7L1085.8 720.9L1086.3 727.2L1086.8 732.7L1087.3 737.6L1087.8 742.0L1088.3 746.0L1088.8 749.5L1089.3 752.8L1089.8 755.8L1090.3 758.5L1090.8 761.1L1091.3 763.6L1091.8 765.8L1092.3 767.9L1092.8 769.9L1093.3 771.7L1093.8 773.4L1094.3 775.1L1094.8 776.7L1095.3 778.4L1095.8 780.0L1096.3 781.5L1096.8 783.0L1097.3 784.5L1097.8 785.9L1098.3 787.3L1098.8 788.7L1099.3 790.0L1099.8 791.2L1100.3 792.4L1100.8 793.6L1101.3 794.7L1101.8 795.8L1102.3 796.8L1102.8 797.9L1103.3 798.9L1103.8 799.9L1104.3 800.8L1104.8 801.8L1105.3 802.7L1105.8 803.6L1106.3 804.5L1106.8 805.3L1107.3 806.2L1107.8 807.0L1108.3 807.7L1108.8 808.5L1109.3 809.2L1109.8 810.0L1110.3 810.6L1110.8 811.3L1111.3 811.9L1111.8 812.6L1112.3 813.2L1112.8 813.8L1113.3 814.4L1113.8 815.0L1114.3 815.6L1114.8 816.2L1115.3 816.8L1115.8 817.3L1116.3 817.9L1116.8 818.4L1117.3 818.9L1117.8 819.5L1118.3 820.0L1118.8 820.5L1119.3 821.0L1119.8 821.5L1120.3 821.9L1120.8 822.4L1121.3 822.9L1121.8 823.3L1122.3 823.8L1122.8 824.2L1123.3 824.6L1123.8 825.1L1124.3 825.5L1124.8 825.9L1125.3 826.3L1125.8 826.6L1126.3 827.0L1126.8 827.4L1127.3 827.8L1127.8 828.1L1128.3 828.5L1128.8 828.8L1129.3 829.1L1129.8 829.5L1130.3 829.8L1130.8 830.1L1131.3 830.4L1131.8 830.7L1132.3 831.1L1132.8 831.4L1133.3 831.7L1133.8 832.0L1134.3 832.2L1134.8 832.5L1135.3 832.8L1135.8 833.1L1136.3 833.4L1136.8 833.6L1137.3 833.9L1137.8 834.2L1138.3 834.4L1138.8 834.7L1139.3 834.9L1139.8 835.1L1140.3 835.4L1140.8 835.6L1141.3 835.8L1141.8 836.1L1142.3 836.3L1142.8 836.5L1143.3 836.7L1143.8 836.9L1144.3 837.1L1144.8 837.3L1145.3 837.5L1145.8 837.7L1146.3 837.9L1146.8 838.1L1147.3 838.3L1147.8 838.4L1148.3 838.6L1148.8 838.8L1149.3 839.0L1149.8 839.2L1150.3 839.4L1150.8 839.5L1151.3 839.7L1151.8 839.9L1152.3 840.1L1152.8 840.3L1153.3 840.4L1153.8 840.6L1154.3 840.8L1154.8 840.9L1155.3 841.1L1155.8 841.3L1156.3 841.4L1156.8 841.6L1157.3 841.7L1157.8 841.9L1158.3 842.0L1158.8 842.2L1159.3 842.3L1159.8 842.5L1160.3 842.6L1160.8 842.8L1161.3 842.9L1161.8 843.0L1162.3 843.2L1162.8 843.3L1163.3 843.4L1163.8 843.6L1164.3 843.7L1164.8 843.8L1165.3 843.9L1165.8 844.0L1166.3 844.1L1166.8 844.2L1167.3 844.3L1167.8 844.4L1168.3 844.5L1168.8 844.6L1169.3 844.7L1169.8 844.8L1170.3 844.9L1170.8 844.9L1171.3 845.0L1171.3 845.0L1171.8 714.7L1172.3 607.7L1172.8 518.5L1173.3 463.0L1173.8 459.2L1174.3 456.8L1174.8 455.4L1175.3 455.0L1175.3 455.0L1175.8 455.3L1176.3 455.5L1176.8 455.8L1177.3 456.0L1177.8 456.3L1178.3 456.5L1178.8 456.7L1179.3 457.0L1179.8 457.2L1180.3 457.4L1180.8 457.7L1181.3 457.9L1181.8 458.1L1182.3 458.3L1182.8 458.5L1183.3 458.7L1183.8 458.9L1184.3 459.1L1184.8 459.3L1185.3 459.5L1185.8 459.6L1186.3 459.8L1186.8 460.0L1187.3 460.1L1187.8 460.3L1188.3 460.5L1188.8 460.6L1189.3 460.8L1189.8 460.9L1190.3 461.1L1190.8 461.2L1191.3 461.4L1191.8 461.5L1192.3 461.7L1192.8 461.8L1193.3 461.9L1193.8 462.0L1194.3 462.2L1194.8 462.3L1195.3 462.4L1195.8 462.5L1196.3 462.6L1196.8 462.7L1197.3 462.9L1197.8 463.0L1198.3 463.1L1198.8 463.2L1199.3 463.3L1199.8 463.4L1200.3 463.5L1200.8 463.5L1201.3 463.6L1201.8 463.7L1202.3 463.8L1202.8 463.9L1203.3 464.0L1203.8 464.1L1204.3 464.1L1204.8 464.2L1205.3 464.3L1205.8 464.4L1206.3 464.4L1206.8 464.5L1207.3 464.6L1207.8 464.7L1208.3 464.7L1208.8 464.8L1209.3 464.9L1209.8 464.9L1210.3 465.0L1210.8 465.1L1211.3 465.1L1211.8 465.2L1212.3 465.2L1212.8 465.3L1213.3 465.3L1213.8 465.4L1214.3 465.5L1214.8 465.5L1214.8 465.5L1215.3 530.4L1215.8 580.0L1216.3 615.0L1216.8 643.1L1217.3 663.8L1217.8 679.9L1218.3 694.0L1218.8 706.1L1219.3 716.1L1219.8 724.0L1220.3 730.2L1220.8 735.7L1221.3 740.5L1221.8 744.9L1222.3 748.8L1222.8 752.3L1223.3 755.5L1223.8 758.5L1224.3 761.2L1224.8 763.8L1225.3 766.2L1225.8 768.5L1226.3 770.5L1226.8 772.4L1227.3 774.2L1227.8 776.0L1228.3 777.6L1228.8 779.3L1229.3 780.9L1229.8 782.5L1230.3 784.1L1230.8 785.6L1231.3 787.0L1231.8 788.5L1232.3 789.9L1232.8 791.2L1233.3 792.5L1233.8 793.7L1234.3 794.9L1234.9 796.1L1235.4 797.2L1235.9 798.2L1236.4 799.3L1236.9 800.3L1237.4 801.3L1237.9 802.3L1238.4 803.3L1238.9 804.2L1239.4 805.1L1239.9 806.0L1240.4 806.9L1240.9 807.7L1241.4 808.5L1241.9 809.3L1242.4 810.1L1242.9 810.8L1243.4 811.6L1243.9 812.3L1244.4 812.9L1244.9 813.6L1245.4 814.2L1245.9 814.9L1246.4 815.5L1246.9 816.1L1247.4 816.7L1247.9 817.3L1248.4 817.9L1248.9 818.5L1249.4 819.0L1249.9 819.6L1250.4 820.1L1250.9 820.7L1251.4 821.2L1251.9 821.7L1252.4 822.2L1252.9 822.7L1253.4 823.2L1253.9 823.7L1254.4 824.2L1254.9 824.6L1255.4 825.1L1255.9 825.5L1256.4 826.0L1256.9 826.4L1257.4 826.8L1257.9 827.2L1258.4 827.6L1258.9 828.0L1259.4 828.4L1259.9 828.8L1260.4 829.2L1260.9 829.5L1261.4 829.9L1261.9 830.2L1262.4 830.6L1262.9 830.9L1263.4 831.2L1263.9 831.5L1264.4 831.8L1264.9 832.1L1265.4 832.4L1265.9 832.7L1266.4 833.0L1266.9 833.3L1267.4 833.6L1267.9 833.8L1268.4 834.1L1268.9 834.4L1269.4 834.6L1269.9 834.9L1270.4 835.2L1270.9 835.4L1271.4 835.7L1271.9 835.9L1272.4 836.2L1272.9 836.4L1273.4 836.6L1273.9 836.9L1274.4 837.1L1275.0 837.4L1275.5 837.6L1276.0 837.9L1276.5 838.1L1277.0 838.4L1277.5 838.6L1278.0 838.9L1278.5 839.1L1279.0 839.4L1279.5 839.6L1280.0 839.9L1280.5 840.1L1281.0 840.3L1281.5 840.6L1282.0 840.8L1282.5 841.1L1283.0 841.3L1283.5 841.6L1284.0 841.8L1284.5 842.0L1285.0 842.3L1285.5 842.5L1286.0 842.7L1286.5 843.0L1287.0 843.2L1287.5 843.4L1288.0 843.7L1288.5 843.9L1289.0 844.1L1289.5 844.3L1290.0 844.6L1290.5 844.8L1291.0 845.0L1291.5 845.2L1292.0 845.4L1292.5 845.6L1293.0 845.9L1293.5 846.1L1294.0 846.3L1294.5 846.5L1296.0 846.0L1297.5 740.0L1305.0 700.0L1305.0 700.0L1305.5 537.7L1306.0 413.1L1306.5 367.1L1307.0 336.0L1307.5 310.7L1308.0 290.9L1308.5 276.5L1309.0 267.2L1309.5 263.0L1310.0 261.3L1310.5 259.8L1311.0 258.6L1311.5 257.5L1312.0 256.6L1312.5 255.9L1313.0 255.4L1313.5 255.1L1314.0 255.0L1314.0 255.0L1314.5 256.0L1315.0 257.0L1315.5 257.9L1316.0 258.9L1316.5 259.8L1317.0 260.7L1317.5 261.6L1318.0 262.5L1318.5 263.3L1319.0 264.2L1319.5 265.0L1320.0 265.8L1320.5 266.5L1321.0 267.3L1321.5 268.0L1322.0 268.7L1322.5 269.4L1323.0 270.1L1323.5 270.7L1324.0 271.4L1324.5 272.0L1325.0 272.6L1325.5 273.2L1326.0 273.8L1326.5 274.4L1327.0 275.0L1327.5 275.5L1328.0 276.0L1328.5 276.5L1329.0 277.0L1329.5 277.5L1330.0 278.0L1330.5 278.4L1331.0 278.9L1331.5 279.3L1332.0 279.7L1332.5 280.1L1333.0 280.5L1333.5 280.9L1334.0 281.3L1334.5 281.7L1335.0 282.0L1335.5 282.4L1336.0 282.7L1336.5 283.1L1337.0 283.4L1337.5 283.7L1338.0 284.0L1338.5 284.3L1339.0 284.6L1339.5 284.9L1340.0 285.2L1340.5 285.5L1341.0 285.7L1341.5 286.0L1342.0 286.3L1342.5 286.5L1343.0 286.8L1343.5 287.0L1344.0 287.3L1344.5 287.5L1345.0 287.7L1345.5 287.9L1346.0 288.1L1346.5 288.3L1347.0 288.5L1347.0 288.5L1347.5 357.6L1348.0 410.0L1348.5 446.9L1349.0 476.0L1349.5 494.5L1350.0 506.6L1350.5 516.3L1351.0 524.0L1351.5 530.6L1352.0 536.6L1352.5 542.2L1353.0 547.5L1353.5 552.5L1354.0 557.1L1354.5 561.5L1355.0 565.6L1355.5 569.5L1356.0 573.1L1356.5 576.6L1357.0 579.9L1357.5 583.0L1358.0 586.0L1358.5 588.8L1359.0 591.6L1359.5 594.3L1360.0 596.9L1360.5 599.4L1361.0 601.8L1361.5 604.2L1362.0 606.4L1362.5 608.5L1363.0 610.6L1363.5 612.5L1364.0 614.4L1364.5 616.1L1365.0 617.8L1365.5 619.4L1366.0 620.9L1366.5 622.3L1367.0 623.6L1367.5 624.8L1368.0 626.0L1368.5 627.2L1369.0 628.3L1369.5 629.4L1370.0 630.4L1370.5 631.4L1371.0 632.4L1371.5 633.4L1372.0 634.4L1372.5 635.4L1373.0 636.4L1373.5 637.4L1374.0 638.5L1374.5 639.5L1375.0 640.6L1375.5 641.6L1376.0 642.7L1376.5 643.7L1377.0 644.7L1377.5 645.7L1378.0 646.7L1378.5 647.6L1379.0 648.6L1379.5 649.4L1380.0 650.3L1380.5 651.1L1381.0 651.8L1381.5 652.5L1382.0 653.3L1382.5 654.0L1383.0 654.7L1383.5 655.4L1384.0 656.1L1384.5 656.8L1385.0 657.4L1385.5 658.1L1386.0 658.8L1386.5 659.5L1387.0 660.1L1387.5 660.8L1388.0 661.4L1388.5 662.1L1389.0 662.7L1389.5 663.3L1390.0 664.0L1390.5 664.6L1391.0 665.2L1391.5 665.8L1392.0 666.4L1392.5 667.0L1393.0 667.6L1393.5 668.2L1394.0 668.8L1394.5 669.4L1395.0 670.0L1395.5 670.5L1396.0 671.1L1396.5 671.6L1397.0 672.2L1397.5 672.7L1398.0 673.2L1398.5 673.8L1399.0 674.3L1399.5 674.8L1400.0 675.3L1400.5 675.8L1401.0 676.3L1401.5 676.8L1402.0 677.3L1402.5 677.7L1403.0 678.2L1403.5 678.7L1404.0 679.1L1404.5 679.6L1405.0 680.0L1405.5 680.4L1406.0 680.9L1406.5 681.3L1407.0 681.7L1407.5 682.1L1408.0 682.5L1408.5 682.9L1409.0 683.2L1409.5 683.6L1410.0 684.0L1410.5 684.3L1411.0 684.7L1411.5 685.0L1412.0 685.3L1412.5 685.7L1413.0 686.0L1413.5 686.3L1414.0 686.6L1414.5 686.9L1415.0 687.2L1415.5 687.4L1416.0 687.7L1416.5 688.0L1417.0 688.3L1417.5 688.6L1418.0 688.8L1418.5 689.1L1419.0 689.4L1419.5 689.6L1420.0 689.9L1420.5 690.2L1421.0 690.4L1421.5 690.7L1422.0 690.9L1422.5 691.2L1423.0 691.4L1423.5 691.6L1424.0 691.9L1424.5 692.1L1425.0 692.3L1425.5 692.6L1426.0 692.8L1426.5 693.0L1427.0 693.2L1427.5 693.4L1428.0 693.6L1428.5 693.8L1429.0 694.0L1429.5 694.2L1430.0 694.4L1430.5 694.5L1431.0 694.7L1431.5 694.9L1432.0 695.0L1432.5 695.2L1433.0 695.3L1433.5 695.5L1434.0 695.6L1434.5 695.7L1435.0 695.8L1435.5 695.9L1436.0 696.1L1436.5 696.2L1437.0 696.2L1437.5 696.3L1438.0 696.4L1438.0 696.4L1438.5 552.5L1439.0 442.1L1439.5 401.5L1440.0 374.2L1440.5 352.0L1441.0 334.7L1441.5 322.0L1442.0 313.9L1442.5 310.0L1443.0 308.3L1443.5 306.8L1444.0 305.6L1444.5 304.5L1445.0 303.6L1445.5 302.9L1446.0 302.4L1446.5 302.1L1447.0 302.0L1447.0 302.0L1447.5 302.4L1448.0 302.8L1448.5 303.2L1449.0 303.6L1449.5 303.9L1450.0 304.3L1450.5 304.7L1451.0 305.0L1451.5 305.4L1452.0 305.7L1452.5 306.1L1453.0 306.4L1453.5 306.7L1454.0 307.0L1454.5 307.3L1455.0 307.6L1455.5 307.9L1456.0 308.2L1456.5 308.4L1457.0 308.7L1457.5 308.9L1458.0 309.2L1458.5 309.4L1459.0 309.7L1459.5 309.9L1460.0 310.2L1460.5 310.4L1461.0 310.6L1461.5 310.8L1462.0 311.0L1462.5 311.2L1463.0 311.4L1463.5 311.6L1464.0 311.8L1464.5 312.0L1465.0 312.2L1465.5 312.3L1466.0 312.5L1466.5 312.7L1467.0 312.8L1467.5 313.0L1468.0 313.1L1468.5 313.3L1469.0 313.4L1469.5 313.5L1470.0 313.7L1470.5 313.8L1471.0 313.9L1471.5 314.1L1472.0 314.2L1472.5 314.3L1473.0 314.4L1473.5 314.6L1474.0 314.7L1474.5 314.8L1475.0 314.9L1475.5 315.0L1476.0 315.1L1476.5 315.2L1477.0 315.3L1477.5 315.4L1478.0 315.5L1478.5 315.6L1479.0 315.7L1479.5 315.8L1480.0 315.8L1480.5 315.9L1481.0 316.0L1481.0 316.0L1481.5 392.4L1482.0 452.8L1482.5 501.1L1483.0 541.0L1483.5 559.8L1484.0 566.8L1484.5 572.8L1485.0 577.8L1485.5 581.9L1486.0 585.4L1486.5 588.3L1487.0 590.8L1487.5 593.0L1488.0 595.0L1488.5 597.1L1489.0 599.3L1489.5 601.8L1490.0 604.5L1490.5 607.0L1491.0 609.5L1491.5 612.0L1492.0 614.3L1492.5 616.6L1493.0 618.7L1493.5 620.8L1494.0 622.8L1494.5 624.7L1495.0 626.5L1495.5 628.1L1496.0 629.7L1496.6 631.2L1497.1 632.6L1497.6 634.0L1498.1 635.3L1498.6 636.5L1499.1 637.8L1499.6 638.9L1500.1 640.1L1500.6 641.2L1501.1 642.3L1501.6 643.4L1502.1 644.5L1502.6 645.6L1503.1 646.7L1503.6 647.8L1504.1 649.0L1504.6 650.1L1505.1 651.3L1505.6 652.4L1506.1 653.6L1506.6 654.8L1507.1 655.9L1507.6 657.0L1508.1 658.1L1508.6 659.2L1509.1 660.2L1509.6 661.2L1510.1 662.2L1510.6 663.1L1511.1 663.9L1511.6 664.7L1512.1 665.5L1512.6 666.2L1513.1 667.0L1513.6 667.7L1514.1 668.4L1514.6 669.1L1515.1 669.8L1515.6 670.4L1516.1 671.1L1516.6 671.7L1517.1 672.3L1517.6 672.9L1518.1 673.5L1518.6 674.1L1519.1 674.7L1519.6 675.2L1520.1 675.8L1520.6 676.3L1521.1 676.8L1521.6 677.3L1522.1 677.9L1522.6 678.4L1523.1 678.9L1523.6 679.4L1524.1 679.8L1524.6 680.3L1525.1 680.8L1525.6 681.3L1526.1 681.8L1526.7 682.2L1527.2 682.7L1527.7 683.2L1528.2 683.6L1528.7 684.1L1529.2 684.5L1529.7 685.0L1530.2 685.4L1530.7 685.9L1531.2 686.3L1531.7 686.8L1532.2 687.2L1532.7 687.7L1533.2 688.1L1533.7 688.5L1534.2 688.9L1534.7 689.4L1535.2 689.8L1535.7 690.2L1536.2 690.6L1536.7 691.0L1537.2 691.4L1537.7 691.8L1538.2 692.2L1538.7 692.6L1539.2 693.0L1539.7 693.4L1540.2 693.8L1540.7 694.2L1541.2 694.6L1541.7 695.0L1542.2 695.3L1542.7 695.7L1543.2 696.1L1543.7 696.4L1544.2 696.8L1544.7 697.2L1545.2 697.5L1545.7 697.9L1546.2 698.2L1546.7 698.6L1547.2 698.9L1547.7 699.2L1548.2 699.6L1548.7 699.9L1549.2 700.2L1549.7 700.6L1550.2 700.9L1550.7 701.2L1551.2 701.5L1551.7 701.9L1552.2 702.2L1552.7 702.5L1553.2 702.8L1553.7 703.1L1554.2 703.4L1554.7 703.7L1555.2 704.0L1555.7 704.2L1556.2 704.5L1556.8 704.8L1557.3 705.1L1557.8 705.4L1558.3 705.6L1558.8 705.9L1559.3 706.2L1559.8 706.4L1560.3 706.7L1560.8 706.9L1561.3 707.2L1561.8 707.4L1562.3 707.7L1562.8 707.9L1563.3 708.1L1563.8 708.4L1564.3 708.6L1564.8 708.8L1565.3 709.0L1565.8 709.3L1566.3 709.5L1566.8 709.7L1567.3 709.9L1567.8 710.1L1568.3 710.3L1568.8 710.5L1569.3 710.7L1569.8 710.9L1570.3 711.1L1570.8 711.2L1571.3 711.4L1571.8 711.6L1571.8 711.6L1572.3 567.5L1572.8 457.5L1573.3 413.4L1573.8 383.0L1574.3 358.8L1574.8 340.8L1575.3 329.2L1575.8 324.0L1576.3 322.1L1576.8 320.5L1577.3 319.1L1577.8 318.0L1578.3 317.1L1578.8 316.5L1579.3 316.1L1579.8 316.0L1579.8 316.0L1580.3 316.3L1580.8 316.5L1581.3 316.8L1581.8 317.0L1582.3 317.2L1582.8 317.5L1583.3 317.7L1583.8 317.9L1584.4 318.1L1584.9 318.4L1585.4 318.6L1585.9 318.8L1586.4 319.0L1586.9 319.2L1587.4 319.4L1587.9 319.6L1588.4 319.7L1588.9 319.9L1589.4 320.1L1589.9 320.3L1590.4 320.4L1590.9 320.6L1591.4 320.7L1591.9 320.9L1592.4 321.0L1593.0 321.2L1593.5 321.3L1594.0 321.5L1594.5 321.6L1595.0 321.7L1595.5 321.9L1596.0 322.0L1596.5 322.1L1597.0 322.2L1597.5 322.4L1598.0 322.5L1598.5 322.6L1599.0 322.7L1599.5 322.8L1600.0 322.9L1600.5 323.0L1601.0 323.1L1601.5 323.2L1602.1 323.3L1602.6 323.4L1603.1 323.5L1603.6 323.5L1604.1 323.6L1604.6 323.7L1605.1 323.8L1605.6 323.9L1606.1 323.9L1606.6 324.0L1607.1 324.1L1607.6 324.2L1608.1 324.2L1608.6 324.3L1609.1 324.4L1609.6 324.4L1610.1 324.5L1610.7 324.6L1611.2 324.6L1611.7 324.7L1612.2 324.7L1612.7 324.8L1613.2 324.8L1613.7 324.9L1614.2 325.0L1614.7 325.0L1614.7 325.0L1615.2 401.2L1615.7 461.4L1616.2 509.5L1616.7 549.0L1617.2 567.2L1617.7 574.2L1618.2 580.1L1618.7 585.0L1619.2 589.1L1619.7 592.6L1620.2 595.4L1620.7 597.9L1621.2 600.1L1621.7 602.2L1622.2 604.2L1622.7 606.5L1623.2 609.0L1623.7 611.6L1624.2 614.2L1624.7 616.7L1625.2 619.1L1625.7 621.4L1626.2 623.6L1626.7 625.8L1627.2 627.9L1627.7 629.8L1628.2 631.7L1628.7 633.4L1629.2 635.1L1629.8 636.7L1630.3 638.1L1630.8 639.6L1631.3 640.9L1631.8 642.2L1632.3 643.4L1632.8 644.6L1633.3 645.8L1633.8 646.9L1634.3 648.0L1634.8 649.1L1635.3 650.2L1635.8 651.3L1636.3 652.4L1636.8 653.5L1637.3 654.7L1637.8 655.8L1638.3 657.0L1638.8 658.1L1639.3 659.3L1639.8 660.4L1640.3 661.6L1640.8 662.7L1641.3 663.8L1641.8 664.9L1642.3 666.0L1642.8 667.0L1643.3 668.0L1643.8 668.9L1644.3 669.8L1644.8 670.6L1645.3 671.4L1645.8 672.2L1646.3 672.9L1646.8 673.7L1647.3 674.4L1647.8 675.1L1648.3 675.8L1648.8 676.4L1649.3 677.1L1649.8 677.7L1650.3 678.3L1650.8 678.9L1651.3 679.5L1651.8 680.1L1652.3 680.7L1652.8 681.3L1653.3 681.8L1653.8 682.4L1654.3 682.9L1654.8 683.4L1655.3 683.9L1655.8 684.4L1656.3 684.9L1656.8 685.4L1657.3 685.9L1657.8 686.4L1658.3 686.9L1658.8 687.4L1659.3 687.8L1659.8 688.3L1660.4 688.8L1660.9 689.2L1661.4 689.7L1661.9 690.2L1662.4 690.6L1662.9 691.1L1663.4 691.5L1663.9 692.0L1664.4 692.4L1664.9 692.9L1665.4 693.3L1665.9 693.7L1666.4 694.2L1666.9 694.6L1667.4 695.0L1667.9 695.5L1668.4 695.9L1668.9 696.3L1669.4 696.7L1669.9 697.1L1670.4 697.5L1670.9 697.9L1671.4 698.3L1671.9 698.7L1672.4 699.1L1672.9 699.5L1673.4 699.9L1673.9 700.3L1674.4 700.7L1674.9 701.0L1675.4 701.4L1675.9 701.8L1676.4 702.2L1676.9 702.5L1677.4 702.9L1677.9 703.3L1678.4 703.6L1678.9 704.0L1679.4 704.3L1679.9 704.7L1680.4 705.0L1680.9 705.3L1681.4 705.7L1681.9 706.0L1682.4 706.4L1682.9 706.7L1683.4 707.0L1683.9 707.3L1684.4 707.6L1684.9 708.0L1685.4 708.3L1685.9 708.6L1686.4 708.9L1686.9 709.2L1687.4 709.5L1687.9 709.8L1688.4 710.1L1688.9 710.3L1689.4 710.6L1690.0 710.9L1690.5 711.2L1691.0 711.5L1691.5 711.7L1692.0 712.0L1692.5 712.3L1693.0 712.5L1693.5 712.8L1694.0 713.0L1694.5 713.3L1695.0 713.5L1695.5 713.8L1696.0 714.0L1696.5 714.2L1697.0 714.5L1697.5 714.7L1698.0 714.9L1698.5 715.1L1699.0 715.4L1699.5 715.6L1700.0 715.8L1700.5 716.0L1701.0 716.2L1701.5 716.4L1702.0 716.6L1702.5 716.8L1703.0 717.0L1703.5 717.2L1704.0 717.3L1704.5 717.5L1705.0 717.7L1705.0 717.7L1705.5 575.0L1706.0 466.1L1706.5 422.5L1707.0 392.4L1707.5 368.4L1708.0 350.7L1708.5 339.2L1709.0 334.0L1709.5 332.1L1710.0 330.5L1710.5 329.1L1711.0 328.0L1711.5 327.1L1712.0 326.5L1712.5 326.1L1713.0 326.0L1713.0 326.0L1713.5 326.2L1714.0 326.4L1714.5 326.7L1715.0 326.9L1715.5 327.1L1716.0 327.3L1716.5 327.5L1717.0 327.7L1717.5 327.9L1718.0 328.1L1718.5 328.3L1719.0 328.5L1719.5 328.7L1720.0 328.8L1720.5 329.0L1721.0 329.2L1721.5 329.3L1722.0 329.5L1722.5 329.6L1723.0 329.8L1723.5 329.9L1724.0 330.1L1724.5 330.2L1725.0 330.3L1725.5 330.5L1726.0 330.6L1726.5 330.7L1727.0 330.9L1727.5 331.0L1728.0 331.1L1728.5 331.2L1729.0 331.3L1729.5 331.4L1730.0 331.5L1730.6 331.7L1731.1 331.7L1731.6 331.8L1732.1 331.9L1732.6 332.0L1733.1 332.1L1733.6 332.2L1734.1 332.3L1734.6 332.4L1735.1 332.5L1735.6 332.5L1736.1 332.6L1736.6 332.7L1737.1 332.8L1737.6 332.8L1738.1 332.9L1738.6 333.0L1739.1 333.1L1739.6 333.1L1740.1 333.2L1740.6 333.3L1741.1 333.3L1741.6 333.4L1742.1 333.4L1742.6 333.5L1743.1 333.6L1743.6 333.6L1744.1 333.7L1744.6 333.7L1745.1 333.8L1745.6 333.8L1746.1 333.9L1746.6 333.9L1747.1 334.0L1747.6 334.0L1747.6 334.0L1748.1 396.9L1748.6 450.4L1749.1 497.8L1749.6 538.7L1750.1 564.3L1750.6 581.5L1751.1 594.8L1751.6 603.3L1752.1 607.1L1752.6 609.8L1753.1 611.8L1753.6 613.4L1754.1 614.8L1754.6 616.0L1755.1 617.4L1755.6 619.0L1756.1 621.1L1756.6 623.8L1757.1 626.8L1757.6 629.8L1758.1 632.7L1758.7 635.1L1759.2 637.0L1759.7 638.8L1760.2 640.4L1760.7 641.9L1761.2 643.3L1761.7 644.6L1762.2 645.9L1762.7 647.1L1763.2 648.3L1763.7 649.5L1764.2 650.7L1764.7 651.9L1765.2 653.1L1765.7 654.3L1766.2 655.5L1766.7 656.7L1767.2 657.8L1767.7 659.0L1768.2 660.1L1768.7 661.2L1769.2 662.3L1769.7 663.4L1770.2 664.5L1770.7 665.5L1771.2 666.6L1771.7 667.6L1772.2 668.6L1772.7 669.6L1773.2 670.5L1773.7 671.5L1774.2 672.4L1774.7 673.3L1775.2 674.2L1775.7 675.1L1776.2 675.9L1776.7 676.8L1777.2 677.6L1777.7 678.5L1778.2 679.3L1778.7 680.1L1779.2 680.9L1779.8 681.7L1780.3 682.5L1780.8 683.2L1781.3 684.0L1781.8 684.7L1782.3 685.4L1782.8 686.1L1783.3 686.8L1783.8 687.5L1784.3 688.2L1784.8 688.8L1785.3 689.5L1785.8 690.1L1786.3 690.7L1786.8 691.3L1787.3 691.9L1787.8 692.5L1788.3 693.1L1788.8 693.7L1789.3 694.2L1789.8 694.8L1790.3 695.3L1790.8 695.9L1791.3 696.4L1791.8 696.9L1792.3 697.4L1792.8 697.9L1793.3 698.4L1793.8 698.9L1794.3 699.4L1794.8 699.9L1795.3 700.3L1795.8 700.8L1796.3 701.2L1796.8 701.7L1797.3 702.1L1797.8 702.5L1798.3 703.0L1798.8 703.4L1799.3 703.8L1799.8 704.2L1800.3 704.6L1800.9 705.0L1801.4 705.3L1801.9 705.7L1802.4 706.1L1802.9 706.4L1803.4 706.8L1803.9 707.1L1804.4 707.5L1804.9 707.8L1805.4 708.2L1805.9 708.5L1806.4 708.8L1806.9 709.2L1807.4 709.5L1807.9 709.8L1808.4 710.1L1808.9 710.4L1809.4 710.7L1809.9 711.0L1810.4 711.3L1810.9 711.6L1811.4 711.9L1811.9 712.2L1812.4 712.5L1812.9 712.7L1813.4 713.0L1813.9 713.2L1814.4 713.5L1814.9 713.7L1815.4 714.0L1815.9 714.2L1816.4 714.4L1816.9 714.7L1817.4 714.9L1817.9 715.1L1818.4 715.3L1818.9 715.5L1819.4 715.7L1819.9 715.9L1820.4 716.2L1820.9 716.4L1821.4 716.6L1822.0 716.8L1822.5 717.0L1823.0 717.2L1823.5 717.5L1824.0 717.7L1824.5 717.9L1825.0 718.2L1825.5 718.4L1826.0 718.7L1826.5 718.9L1827.0 719.2L1827.5 719.5L1828.0 719.7L1828.5 720.0L1829.0 720.3L1829.5 720.6L1830.0 721.0L1830.5 721.3L1831.0 721.6L1831.5 722.1L1832.0 722.5L1832.5 723.0" stroke="#008800" stroke-width="4.7" stroke-dasharray="48 9 6 9 6 9"/>
<path d="M222.5 697.0L238.3 697.0L238.5 697.0L238.8 500.0L240.1 477.0L244.3 460.0L244.3 460.0L244.8 460.8L245.3 461.6L245.8 462.4L246.3 463.2L246.8 463.9L247.3 464.7L247.8 465.4L248.3 466.2L248.8 466.9L249.3 467.6L249.8 468.3L250.3 469.0L250.8 469.6L251.3 470.3L251.8 471.0L252.3 471.6L252.8 472.2L253.3 472.9L253.9 473.5L254.4 474.1L254.9 474.7L255.4 475.3L255.9 475.8L256.4 476.4L256.9 477.0L257.4 477.5L257.9 478.1L258.4 478.6L258.9 479.2L259.4 479.7L259.9 480.2L260.4 480.7L260.9 481.2L261.4 481.7L261.9 482.2L262.4 482.7L262.9 483.2L263.4 483.7L263.9 484.2L264.4 484.6L264.9 485.1L265.4 485.5L265.9 486.0L266.4 486.4L266.9 486.9L267.4 487.3L267.9 487.7L268.4 488.2L268.9 488.6L269.4 489.0L269.9 489.4L270.4 489.8L270.9 490.3L271.4 490.7L271.9 491.1L272.5 491.5L273.0 491.9L273.5 492.3L274.0 492.7L274.5 493.0L275.0 493.4L275.5 493.8L276.0 494.2L276.5 494.6L277.0 494.9L277.5 495.3L278.0 495.6L278.5 496.0L279.0 496.3L279.5 496.7L280.0 497.0L280.5 497.4L281.0 497.7L281.5 498.0L283.0 703.5L283.5 703.5L284.0 703.5L284.5 703.5L285.0 703.5L285.5 703.4L286.0 703.4L286.5 703.4L287.0 703.4L287.5 703.4L288.0 703.4L288.5 703.4L289.0 703.3L289.5 703.3L290.0 703.3L290.5 703.3L291.0 703.3L291.5 703.3L292.0 703.2L292.5 703.2L293.0 703.2L293.5 703.2L294.0 703.2L294.5 703.1L295.0 703.1L295.5 703.1L296.0 703.1L296.5 703.0L297.0 703.0L297.5 703.0L298.0 703.0L298.5 702.9L299.0 702.9L299.5 702.9L300.0 702.9L300.5 702.8L301.0 702.8L301.5 702.8L302.0 702.7L302.5 702.7L303.0 702.6L303.5 702.6L304.0 702.5L304.5 702.5L305.0 702.4L305.5 702.4L306.0 702.3L306.5 702.3L307.0 702.2L307.5 702.2L308.0 702.1L308.5 702.1L309.0 702.0L309.5 702.0L310.0 701.9L310.5 701.8L311.0 701.8L311.5 701.7L312.0 701.7L312.5 701.6L313.0 701.5L313.5 701.5L314.0 701.4L314.5 701.3L315.0 701.3L315.5 701.2L316.0 701.1L316.5 701.1L317.0 701.0L317.5 700.9L318.0 700.9L318.5 700.8L319.0 700.7L319.5 700.7L320.0 700.6L320.5 700.5L321.0 700.5L321.5 700.4L322.0 700.3L322.5 700.3L323.0 700.2L323.5 700.1L324.0 700.1L324.5 700.0L325.0 699.9L325.5 699.9L326.0 699.8L326.5 699.7L327.0 699.7L327.5 699.6L328.0 699.5L328.5 699.5L329.0 699.4L329.5 699.3L330.0 699.3L330.5 699.2L331.0 699.2L331.5 699.1L332.0 699.0L332.5 699.0L333.0 698.9L333.5 698.9L334.0 698.8L334.5 698.8L335.0 698.7L335.5 698.7L336.0 698.6L336.5 698.6L337.0 698.5L337.5 698.5L338.0 698.4L338.5 698.4L339.0 698.4L339.5 698.3L340.0 698.3L340.5 698.2L341.0 698.2L341.5 698.2L342.0 698.2L342.5 698.1L343.0 698.1L343.5 698.1L344.0 698.1L344.5 698.0L345.0 698.0L345.5 698.0L346.0 698.0L346.5 698.0L347.0 698.0L347.5 697.9L348.0 697.9L348.5 697.9L349.0 697.9L349.5 697.9L350.0 697.9L350.5 697.9L351.0 697.8L351.5 697.8L352.0 697.8L352.5 697.8L353.0 697.8L353.5 697.8L354.0 697.8L354.5 697.7L355.0 697.7L355.5 697.7L356.0 697.7L356.5 697.7L357.0 697.7L357.5 697.7L358.0 697.7L358.5 697.7L359.0 697.6L359.5 697.6L360.0 697.6L360.5 697.6L361.0 697.6L361.5 697.6L362.0 697.6L362.5 697.6L363.0 697.6L363.5 697.6L364.0 697.6L364.5 697.6L365.0 697.5L365.5 697.5L366.0 697.5L366.5 697.5L367.0 697.5L367.5 697.5L368.0 697.5L368.5 697.5L369.0 697.5L369.5 697.5L370.0 697.5L370.5 697.5L371.0 697.5L371.5 697.5L372.0 697.5L372.0 697.5L372.3 500.0L373.6 477.0L377.8 460.0L377.8 460.0L378.3 460.9L378.8 461.8L379.3 462.7L379.8 463.6L380.3 464.4L380.8 465.3L381.3 466.1L381.8 466.9L382.3 467.7L382.8 468.5L383.3 469.3L383.8 470.0L384.3 470.8L384.8 471.5L385.3 472.3L385.8 473.0L386.3 473.7L386.8 474.4L387.4 475.1L387.9 475.7L388.4 476.4L388.9 477.1L389.4 477.7L389.9 478.4L390.4 479.0L390.9 479.6L391.4 480.2L391.9 480.8L392.4 481.4L392.9 482.0L393.4 482.6L393.9 483.1L394.4 483.7L394.9 484.3L395.4 484.8L395.9 485.4L396.4 485.9L396.9 486.4L397.4 487.0L397.9 487.5L398.4 488.0L398.9 488.5L399.4 489.0L399.9 489.5L400.4 490.0L400.9 490.5L401.4 491.0L401.9 491.4L402.4 491.9L402.9 492.4L403.4 492.8L403.9 493.3L404.4 493.8L404.9 494.2L405.5 494.7L406.0 495.1L406.5 495.6L407.0 496.0L407.5 496.4L408.0 496.9L408.5 497.3L409.0 497.7L409.5 498.1L410.0 498.5L410.5 499.0L411.0 499.4L411.5 499.7L412.0 500.1L412.5 500.5L413.0 500.9L413.5 501.3L414.0 501.6L414.5 502.0L416.0 703.5L416.5 703.5L417.0 703.5L417.5 703.5L418.0 703.5L418.5 703.4L419.0 703.4L419.5 703.4L420.0 703.4L420.5 703.4L421.0 703.4L421.5 703.4L422.0 703.3L422.5 703.3L423.0 703.3L423.5 703.3L424.0 703.3L424.5 703.3L425.0 703.2L425.5 703.2L426.0 703.2L426.5 703.2L427.0 703.2L427.5 703.1L428.0 703.1L428.5 703.1L429.0 703.1L429.5 703.0L430.0 703.0L430.5 703.0L431.0 703.0L431.5 702.9L432.0 702.9L432.5 702.9L433.0 702.9L433.5 702.8L434.0 702.8L434.5 702.8L435.0 702.7L435.5 702.7L436.0 702.6L436.5 702.6L437.0 702.6L437.5 702.5L438.0 702.5L438.5 702.4L439.0 702.4L439.5 702.3L440.0 702.3L440.5 702.2L441.0 702.2L441.5 702.1L442.0 702.1L442.5 702.0L443.0 702.0L443.5 701.9L444.0 701.8L444.5 701.8L445.0 701.7L445.5 701.7L446.0 701.6L446.5 701.6L447.0 701.5L447.5 701.4L448.0 701.4L448.5 701.3L449.0 701.2L449.5 701.2L450.0 701.1L450.5 701.0L451.0 701.0L451.5 700.9L452.0 700.9L452.5 700.8L453.0 700.7L453.5 700.7L454.0 700.6L454.5 700.5L455.0 700.5L455.5 700.4L456.0 700.3L456.5 700.3L457.0 700.2L457.5 700.1L458.0 700.1L458.5 700.0L459.0 699.9L459.5 699.9L460.0 699.8L460.5 699.7L461.0 699.7L461.5 699.6L462.0 699.6L462.5 699.5L463.0 699.4L463.5 699.4L464.0 699.3L464.5 699.3L465.0 699.2L465.5 699.1L466.0 699.1L466.5 699.0L467.0 699.0L467.5 698.9L468.0 698.9L468.5 698.8L469.0 698.8L469.5 698.7L470.0 698.7L470.5 698.6L471.0 698.6L471.5 698.5L472.0 698.5L472.5 698.4L473.0 698.4L473.5 698.3L474.0 698.3L474.5 698.3L475.0 698.2L475.5 698.2L476.0 698.2L476.5 698.1L477.0 698.1L477.5 698.1L478.0 698.0L478.5 698.0L479.0 698.0L479.5 697.9L480.0 697.9L480.5 697.9L481.0 697.9L481.5 697.8L482.0 697.8L482.5 697.8L483.0 697.8L483.5 697.7L484.0 697.7L484.5 697.7L485.0 697.7L485.5 697.6L486.0 697.6L486.5 697.6L487.0 697.6L487.5 697.6L488.0 697.5L488.5 697.5L489.0 697.5L489.5 697.5L490.0 697.4L490.5 697.4L491.0 697.4L491.5 697.4L492.0 697.4L492.5 697.3L493.0 697.3L493.5 697.3L494.0 697.3L494.5 697.3L495.0 697.3L495.5 697.2L496.0 697.2L496.5 697.2L497.0 697.2L497.5 697.2L498.0 697.2L498.5 697.1L499.0 697.1L499.5 697.1L500.0 697.1L500.5 697.1L501.0 697.1L501.5 697.1L502.0 697.1L502.5 697.0L503.0 697.0L503.5 697.0L504.0 697.0L504.5 697.0L505.0 697.0L505.5 697.0L505.5 697.0L505.8 502.7L507.1 479.7L511.3 462.7L511.3 462.7L511.8 463.5L512.3 464.4L512.8 465.2L513.3 466.0L513.8 466.8L514.3 467.6L514.8 468.4L515.3 469.2L515.8 469.9L516.3 470.7L516.8 471.4L517.3 472.1L517.8 472.8L518.3 473.5L518.8 474.2L519.3 474.8L519.8 475.5L520.3 476.2L520.9 476.8L521.4 477.4L521.9 478.1L522.4 478.7L522.9 479.3L523.4 479.9L523.9 480.5L524.4 481.0L524.9 481.6L525.4 482.2L525.9 482.7L526.4 483.3L526.9 483.8L527.4 484.4L527.9 484.9L528.4 485.4L528.9 485.9L529.4 486.4L529.9 486.9L530.4 487.4L530.9 487.9L531.4 488.4L531.9 488.9L532.4 489.4L532.9 489.8L533.4 490.3L533.9 490.8L534.4 491.2L534.9 491.7L535.4 492.1L535.9 492.6L536.4 493.0L536.9 493.4L537.4 493.9L537.9 494.3L538.4 494.7L539.0 495.1L539.5 495.6L540.0 496.0L540.5 496.4L541.0 496.8L541.5 497.2L542.0 497.6L542.5 498.0L543.0 498.4L543.5 498.8L544.0 499.1L544.5 499.5L545.0 499.9L545.5 500.3L546.0 500.6L546.5 501.0L547.0 501.3L547.5 501.7L548.0 502.0L549.5 703.5L550.0 703.5L550.5 703.5L551.0 703.5L551.5 703.5L552.0 703.4L552.5 703.4L553.0 703.4L553.5 703.4L554.0 703.4L554.5 703.4L555.0 703.4L555.5 703.3L556.0 703.3L556.5 703.3L557.0 703.3L557.5 703.3L558.0 703.3L558.5 703.2L559.0 703.2L559.5 703.2L560.0 703.2L560.5 703.2L561.0 703.1L561.5 703.1L562.0 703.1L562.5 703.1L563.0 703.0L563.5 703.0L564.0 703.0L564.5 703.0L565.0 702.9L565.5 702.9L566.0 702.9L566.5 702.9L567.0 702.8L567.5 702.8L568.0 702.8L568.5 702.7L569.0 702.7L569.5 702.7L570.0 702.6L570.5 702.6L571.0 702.5L571.5 702.5L572.1 702.5L572.6 702.4L573.1 702.4L573.6 702.3L574.1 702.3L574.6 702.2L575.1 702.2L575.6 702.1L576.1 702.1L576.6 702.0L577.1 702.0L577.6 701.9L578.1 701.9L578.6 701.8L579.1 701.8L579.6 701.7L580.1 701.7L580.6 701.6L581.1 701.6L581.6 701.5L582.1 701.4L582.6 701.4L583.1 701.3L583.6 701.3L584.1 701.2L584.6 701.1L585.1 701.1L585.6 701.0L586.1 701.0L586.6 700.9L587.1 700.8L587.6 700.8L588.1 700.7L588.6 700.7L589.1 700.6L589.6 700.5L590.1 700.5L590.6 700.4L591.1 700.3L591.6 700.3L592.1 700.2L592.6 700.2L593.1 700.1L593.6 700.0L594.1 700.0L594.6 699.9L595.1 699.8L595.6 699.8L596.1 699.7L596.6 699.7L597.1 699.6L597.6 699.5L598.1 699.5L598.6 699.4L599.1 699.4L599.6 699.3L600.1 699.2L600.6 699.2L601.1 699.1L601.6 699.1L602.1 699.0L602.6 698.9L603.1 698.9L603.6 698.8L604.1 698.8L604.6 698.7L605.1 698.7L605.6 698.6L606.1 698.6L606.6 698.5L607.1 698.5L607.6 698.4L608.1 698.4L608.6 698.3L609.1 698.3L609.6 698.2L610.1 698.2L610.6 698.1L611.1 698.1L611.6 698.0L612.1 698.0L612.6 697.9L613.1 697.9L613.6 697.9L614.1 697.8L614.6 697.8L615.1 697.7L615.6 697.7L616.1 697.7L616.7 697.6L617.2 697.6L617.7 697.5L618.2 697.5L618.7 697.4L619.2 697.4L619.7 697.4L620.2 697.3L620.7 697.3L621.2 697.2L621.7 697.2L622.2 697.2L622.7 697.1L623.2 697.1L623.7 697.1L624.2 697.0L624.7 697.0L625.2 696.9L625.7 696.9L626.2 696.9L626.7 696.8L627.2 696.8L627.7 696.8L628.2 696.7L628.7 696.7L629.2 696.6L629.7 696.6L630.2 696.6L630.7 696.5L631.2 696.5L631.7 696.5L632.2 696.4L632.7 696.4L633.2 696.4L633.7 696.3L634.2 696.3L634.7 696.3L635.2 696.2L635.7 696.2L636.2 696.2L636.7 696.1L637.2 696.1L637.7 696.1L638.2 696.0L638.7 696.0L638.7 696.0L639.0 511.4L640.3 488.4L644.5 471.4L644.5 471.4L645.0 472.1L645.5 472.7L646.0 473.4L646.5 474.0L647.0 474.6L647.5 475.2L648.0 475.8L648.5 476.4L649.0 477.0L649.5 477.6L650.0 478.2L650.5 478.7L651.0 479.3L651.5 479.8L652.0 480.3L652.5 480.8L653.0 481.4L653.5 481.9L654.0 482.4L654.5 482.9L655.0 483.4L655.5 483.8L656.0 484.3L656.5 484.8L657.0 485.2L657.5 485.7L658.0 486.1L658.5 486.6L659.0 487.0L659.5 487.4L660.0 487.8L660.5 488.3L661.0 488.7L661.5 489.1L662.0 489.5L662.5 489.9L663.0 490.3L663.5 490.7L664.0 491.1L664.5 491.4L665.0 491.8L665.5 492.2L666.0 492.5L666.5 492.9L667.0 493.2L667.5 493.6L668.0 493.9L668.5 494.3L669.0 494.6L669.5 495.0L670.0 495.3L670.5 495.7L671.0 496.0L671.5 496.3L672.0 496.7L672.5 497.0L673.0 497.3L673.5 497.6L674.0 498.0L674.5 498.3L675.0 498.6L675.5 498.9L676.0 499.2L676.5 499.5L677.0 499.8L677.5 500.1L678.0 500.4L678.5 500.6L679.0 500.9L679.5 501.2L680.0 501.5L680.5 501.7L681.0 502.0L682.5 700.0L683.0 700.0L683.5 700.0L684.0 700.0L684.5 700.0L685.0 700.0L685.5 700.0L686.0 700.0L686.5 700.0L687.0 700.0L687.5 699.9L688.0 699.9L688.5 699.9L689.0 699.9L689.5 699.9L690.0 699.9L690.5 699.9L691.0 699.9L691.5 699.8L692.0 699.8L692.5 699.8L693.0 699.8L693.5 699.8L694.0 699.7L694.5 699.7L695.0 699.7L695.5 699.7L696.0 699.6L696.5 699.6L697.0 699.6L697.5 699.5L698.0 699.5L698.5 699.4L699.0 699.3L699.5 699.3L700.0 699.2L700.5 699.1L701.0 699.0L701.5 698.8L702.0 698.7L702.5 698.5L703.0 698.4L703.5 698.2L704.0 698.0L704.5 697.8L705.0 697.5L705.5 697.3L706.0 697.0L706.5 696.3L707.0 694.8L707.5 692.7L708.0 690.0L708.5 683.9L709.0 673.4L709.5 661.2L710.0 650.0L710.5 640.3L711.0 630.8L711.5 621.3L712.0 612.0L713.0 625.0L713.5 631.9L714.0 638.4L714.5 644.0L715.0 648.0L715.5 650.8L716.0 653.4L716.5 655.6L717.0 657.6L717.5 659.4L718.0 661.1L718.5 662.5L719.0 663.9L719.5 665.2L720.0 666.4L720.5 667.6L721.0 668.8L721.5 669.9L722.0 671.0L722.5 672.1L723.0 673.1L723.5 674.1L724.0 675.1L724.5 676.1L725.0 677.0L725.5 677.9L726.0 678.7L726.5 679.6L727.0 680.4L727.5 681.2L728.0 681.9L728.5 682.6L729.0 683.3L729.5 684.0L730.0 684.7L730.5 685.3L731.0 685.9L731.5 686.4L732.0 687.0L732.5 687.5L733.0 688.0L733.5 688.5L734.0 688.9L734.5 689.4L735.0 689.9L735.5 690.3L736.0 690.7L736.5 691.2L737.0 691.6L737.5 692.0L738.0 692.4L738.5 692.8L739.0 693.2L739.5 693.5L740.0 693.9L740.5 694.3L741.0 694.6L741.5 695.0L742.0 695.3L742.5 695.6L743.0 696.0L743.5 696.3L744.0 696.6L744.5 696.9L745.0 697.2L745.5 697.5L746.0 697.8L746.5 698.1L747.0 698.4L747.5 698.7L748.0 699.0L748.5 699.2L749.0 699.5L749.5 699.7L750.0 700.0L750.5 700.3L751.0 700.5L751.5 700.7L752.0 701.0L752.5 701.2L753.0 701.5L753.5 701.7L754.0 701.9L754.5 702.2L755.0 702.4L755.5 702.6L756.0 702.8L756.5 703.0L757.0 703.3L757.5 703.5L758.0 703.7L758.5 703.9L759.0 704.1L759.5 704.3L760.0 704.5L760.5 704.7L761.0 704.9L761.5 705.1L762.0 705.3L762.5 705.5L763.0 705.6L763.5 705.8L764.0 706.0L764.5 706.2L765.0 706.3L765.5 706.5L766.0 706.6L766.5 706.8L767.0 706.9L767.5 707.1L768.0 707.2L768.5 707.4L769.0 707.5L769.5 707.6L770.0 707.8L770.5 707.9L771.0 708.0L771.0 708.0L771.5 379.3L772.0 310.3L772.5 292.5L773.0 284.4L773.5 280.0L774.0 277.0L774.5 274.7L775.0 273.0L775.5 272.0L776.0 271.4L776.5 270.8L777.0 270.4L777.5 270.1L778.0 270.0L813.5 288.0L813.5 288.0L814.0 372.5L814.5 438.7L815.0 487.1L815.5 526.7L816.0 556.0L816.5 577.7L817.0 596.7L817.5 612.6L818.0 625.4L818.5 634.9L819.0 641.8L819.5 647.6L820.0 652.5L820.5 656.7L821.0 660.3L821.5 663.6L822.0 666.5L822.5 669.3L823.0 671.8L823.5 674.1L824.0 676.3L824.5 678.3L825.0 680.2L825.5 681.9L826.0 683.5L826.5 685.1L827.0 686.6L827.5 688.0L828.0 689.5L828.5 690.8L829.0 692.2L829.5 693.5L830.0 694.7L830.5 695.9L831.0 697.0L831.5 698.1L832.0 699.1L832.5 700.0L833.0 700.8L833.5 701.5L834.0 702.2L834.5 702.8L835.0 703.3L835.5 703.8L836.0 704.3L836.5 704.8L837.0 705.2L837.5 705.7L838.0 706.1L838.5 706.4L839.0 706.8L839.5 707.2L840.0 707.5L840.5 707.8L841.0 708.1L841.5 708.4L842.0 708.7L842.5 709.0L843.0 709.3L843.5 709.6L844.0 709.8L844.5 710.1L845.0 710.3L845.5 710.6L846.0 710.8L846.5 711.0L847.0 711.3L847.5 711.5L848.0 711.7L848.5 711.9L849.0 712.2L849.5 712.4L850.0 712.6L850.5 712.8L851.0 713.0L851.5 713.2L852.0 713.4L852.5 713.6L853.0 713.8L853.5 714.0L854.0 714.2L854.5 714.3L855.0 714.5L855.5 714.7L856.0 714.9L856.5 715.0L857.0 715.2L857.5 715.3L858.0 715.5L858.5 715.6L859.0 715.8L859.5 715.9L860.0 716.1L860.5 716.2L861.0 716.3L861.5 716.5L862.0 716.6L862.5 716.7L863.0 716.8L863.5 716.9L864.0 717.0L864.5 717.2L865.0 717.3L865.5 717.4L866.0 717.5L866.5 717.6L867.0 717.7L867.5 717.8L868.0 717.9L868.5 718.0L869.0 718.1L869.5 718.3L870.0 718.4L870.5 718.5L871.0 718.6L871.5 718.7L872.0 718.8L872.5 718.9L873.0 719.0L873.5 719.1L874.0 719.2L874.5 719.3L875.0 719.4L875.5 719.5L876.0 719.6L876.5 719.7L877.0 719.8L877.5 719.9L878.0 720.0L878.5 720.1L879.0 720.2L879.5 720.3L880.0 720.4L880.5 720.5L881.0 720.6L881.5 720.7L882.0 720.8L882.5 720.8L883.0 720.9L883.5 721.0L884.0 721.1L884.5 721.2L885.0 721.3L885.5 721.3L886.0 721.4L886.5 721.5L887.0 721.6L887.5 721.6L888.0 721.7L888.5 721.8L889.0 721.9L889.5 721.9L890.0 722.0L890.5 722.1L891.0 722.1L891.5 722.2L892.0 722.2L892.5 722.3L893.0 722.3L893.5 722.4L894.0 722.4L894.5 722.5L895.0 722.5L895.5 722.6L896.0 722.6L896.5 722.7L897.0 722.7L897.5 722.7L898.0 722.8L898.5 722.8L899.0 722.8L899.5 722.9L900.0 722.9L900.5 722.9L901.0 722.9L901.5 722.9L902.0 723.0L902.5 723.0L903.0 723.0L903.5 723.0L904.0 723.0L904.0 723.0L904.5 396.8L905.0 328.5L905.5 310.8L906.0 302.7L906.5 298.3L907.0 295.3L907.5 293.0L908.0 291.3L908.5 290.3L909.0 289.7L909.5 289.1L910.0 288.7L910.5 288.4L911.0 288.3L947.0 306.0L947.0 306.0L947.5 387.3L948.0 451.0L948.5 497.6L949.0 535.7L949.5 563.9L950.0 584.8L950.5 603.0L951.0 618.4L951.5 630.7L952.0 639.8L952.5 646.4L953.0 652.0L953.5 656.8L954.0 660.8L954.5 664.3L955.0 667.4L955.5 670.2L956.0 672.9L956.5 675.3L957.0 677.6L957.5 679.6L958.0 681.6L958.5 683.4L959.0 685.0L959.5 686.6L960.0 688.1L960.5 689.5L961.0 690.9L961.5 692.3L962.0 693.7L962.5 694.9L963.0 696.2L963.5 697.4L964.0 698.5L964.5 699.6L965.0 700.6L965.5 701.6L966.0 702.4L966.5 703.2L967.0 704.0L967.5 704.6L968.0 705.1L968.5 705.7L969.0 706.2L969.5 706.6L970.0 707.1L970.5 707.5L971.0 707.9L971.5 708.3L972.0 708.7L972.5 709.0L973.0 709.4L973.5 709.7L974.0 710.0L974.5 710.3L975.0 710.6L975.5 710.9L976.0 711.1L976.5 711.4L977.0 711.7L977.5 711.9L978.0 712.1L978.5 712.4L979.0 712.6L979.5 712.9L980.0 713.1L980.5 713.3L981.0 713.5L981.5 713.8L982.0 714.0L982.5 714.2L983.0 714.4L983.5 714.6L984.0 714.8L984.5 715.0L985.0 715.2L985.5 715.4L986.0 715.6L986.5 715.7L987.0 715.9L987.5 716.1L988.0 716.3L988.5 716.4L989.0 716.6L989.5 716.8L990.0 716.9L990.5 717.1L991.0 717.2L991.5 717.4L992.0 717.5L992.5 717.7L993.0 717.8L993.5 717.9L994.0 718.1L994.5 718.2L995.0 718.3L995.5 718.4L996.0 718.5L996.5 718.6L997.0 718.8L997.5 718.9L998.0 719.0L998.5 719.1L999.0 719.2L999.5 719.3L1000.0 719.4L1000.5 719.5L1001.0 719.6L1001.5 719.7L1002.0 719.8L1002.5 719.9L1003.0 720.0L1003.5 720.1L1004.0 720.2L1004.5 720.3L1005.0 720.4L1005.5 720.5L1006.0 720.7L1006.5 720.8L1007.0 720.9L1007.5 721.0L1008.0 721.1L1008.5 721.2L1009.0 721.2L1009.5 721.3L1010.0 721.4L1010.5 721.5L1011.0 721.6L1011.5 721.7L1012.0 721.8L1012.5 721.9L1013.0 722.0L1013.5 722.1L1014.0 722.2L1014.5 722.3L1015.0 722.4L1015.5 722.4L1016.0 722.5L1016.5 722.6L1017.0 722.7L1017.5 722.8L1018.0 722.8L1018.5 722.9L1019.0 723.0L1019.5 723.1L1020.0 723.2L1020.5 723.2L1021.0 723.3L1021.5 723.4L1022.0 723.4L1022.5 723.5L1023.0 723.6L1023.5 723.6L1024.0 723.7L1024.5 723.7L1025.0 723.8L1025.5 723.9L1026.0 723.9L1026.5 724.0L1027.0 724.0L1027.5 724.1L1028.0 724.1L1028.5 724.2L1029.0 724.2L1029.5 724.2L1030.0 724.3L1030.5 724.3L1031.0 724.4L1031.5 724.4L1032.0 724.4L1032.5 724.4L1033.0 724.5L1033.5 724.5L1034.0 724.5L1034.5 724.5L1035.0 724.6L1035.5 724.6L1036.0 724.6L1036.5 724.6L1037.0 724.6L1037.5 724.6L1037.5 724.6L1038.0 405.7L1038.5 339.4L1039.0 321.9L1039.5 313.8L1040.0 309.4L1040.5 306.4L1041.0 304.1L1041.5 302.4L1042.0 301.4L1042.5 300.8L1043.0 300.2L1043.5 299.8L1044.0 299.5L1044.5 299.4L1080.8 313.0L1080.8 313.0L1081.3 393.0L1081.8 455.6L1082.3 501.4L1082.8 538.8L1083.3 566.6L1083.8 587.2L1084.3 605.1L1084.8 620.2L1085.3 632.3L1085.8 641.2L1086.3 647.8L1086.8 653.3L1087.3 657.9L1087.8 661.9L1088.3 665.3L1088.8 668.4L1089.3 671.2L1089.8 673.7L1090.3 676.1L1090.8 678.3L1091.3 680.4L1091.8 682.3L1092.3 684.1L1092.8 685.7L1093.3 687.3L1093.8 688.7L1094.3 690.1L1094.8 691.5L1095.3 692.9L1095.8 694.2L1096.3 695.4L1096.8 696.7L1097.3 697.8L1097.8 699.0L1098.3 700.0L1098.8 701.0L1099.3 701.9L1099.8 702.8L1100.3 703.6L1100.8 704.3L1101.3 704.9L1101.8 705.5L1102.3 706.0L1102.8 706.5L1103.3 706.9L1103.8 707.4L1104.3 707.8L1104.8 708.2L1105.3 708.6L1105.8 708.9L1106.3 709.3L1106.8 709.6L1107.3 709.9L1107.8 710.2L1108.3 710.5L1108.8 710.8L1109.3 711.1L1109.8 711.4L1110.3 711.6L1110.8 711.9L1111.3 712.1L1111.8 712.4L1112.3 712.6L1112.8 712.8L1113.3 713.1L1113.8 713.3L1114.3 713.5L1114.8 713.7L1115.3 713.9L1115.8 714.1L1116.3 714.4L1116.8 714.6L1117.3 714.8L1117.8 715.0L1118.3 715.1L1118.8 715.3L1119.3 715.5L1119.8 715.7L1120.3 715.9L1120.8 716.1L1121.3 716.2L1121.8 716.4L1122.3 716.6L1122.8 716.7L1123.3 716.9L1123.8 717.0L1124.3 717.2L1124.8 717.3L1125.3 717.5L1125.8 717.6L1126.3 717.8L1126.8 717.9L1127.3 718.0L1127.8 718.2L1128.3 718.3L1128.8 718.4L1129.3 718.5L1129.8 718.6L1130.3 718.7L1130.8 718.9L1131.3 719.0L1131.8 719.1L1132.3 719.2L1132.8 719.3L1133.3 719.4L1133.8 719.5L1134.3 719.6L1134.8 719.7L1135.3 719.8L1135.8 719.9L1136.3 720.0L1136.8 720.1L1137.3 720.2L1137.8 720.3L1138.3 720.4L1138.8 720.5L1139.3 720.6L1139.8 720.7L1140.3 720.8L1140.8 720.9L1141.3 721.0L1141.8 721.1L1142.3 721.2L1142.8 721.3L1143.3 721.4L1143.8 721.5L1144.3 721.6L1144.8 721.7L1145.3 721.8L1145.8 721.9L1146.3 722.0L1146.8 722.0L1147.3 722.1L1147.8 722.2L1148.3 722.3L1148.8 722.4L1149.3 722.5L1149.8 722.6L1150.3 722.6L1150.8 722.7L1151.3 722.8L1151.8 722.9L1152.3 723.0L1152.8 723.0L1153.3 723.1L1153.8 723.2L1154.3 723.2L1154.8 723.3L1155.3 723.4L1155.8 723.5L1156.3 723.5L1156.8 723.6L1157.3 723.6L1157.8 723.7L1158.3 723.8L1158.8 723.8L1159.3 723.9L1159.8 723.9L1160.3 724.0L1160.8 724.0L1161.3 724.1L1161.8 724.1L1162.3 724.2L1162.8 724.2L1163.3 724.2L1163.8 724.3L1164.3 724.3L1164.8 724.4L1165.3 724.4L1165.8 724.4L1166.3 724.4L1166.8 724.5L1167.3 724.5L1167.8 724.5L1168.3 724.5L1168.8 724.6L1169.3 724.6L1169.8 724.6L1170.3 724.6L1170.8 724.6L1171.3 724.6L1171.3 724.6L1171.8 409.2L1172.3 343.9L1172.8 326.5L1173.3 318.4L1173.8 314.0L1174.3 311.0L1174.8 308.7L1175.3 307.0L1175.8 306.0L1176.3 305.4L1176.8 304.8L1177.3 304.4L1177.8 304.1L1178.3 304.0L1214.8 316.0L1214.8 316.0L1215.3 395.8L1215.8 457.9L1216.3 503.4L1216.8 540.4L1217.3 567.4L1217.8 587.7L1218.3 605.4L1218.8 620.1L1219.3 631.9L1219.8 640.4L1220.3 646.7L1220.8 652.1L1221.3 656.6L1221.8 660.4L1222.3 663.8L1222.8 666.8L1223.3 669.5L1223.8 672.0L1224.3 674.4L1224.8 676.5L1225.3 678.5L1225.8 680.4L1226.3 682.1L1226.8 683.7L1227.3 685.2L1227.8 686.7L1228.3 688.1L1228.8 689.4L1229.3 690.8L1229.8 692.1L1230.3 693.3L1230.8 694.5L1231.3 695.7L1231.8 696.8L1232.3 697.8L1232.8 698.7L1233.3 699.6L1233.8 700.5L1234.3 701.2L1234.8 701.9L1235.3 702.4L1235.8 703.0L1236.3 703.5L1236.8 703.9L1237.3 704.4L1237.8 704.8L1238.3 705.2L1238.8 705.6L1239.3 706.0L1239.8 706.3L1240.3 706.7L1240.8 707.0L1241.3 707.3L1241.8 707.6L1242.3 707.9L1242.8 708.2L1243.3 708.4L1243.8 708.7L1244.3 708.9L1244.8 709.2L1245.3 709.4L1245.8 709.6L1246.3 709.9L1246.8 710.1L1247.3 710.3L1247.8 710.5L1248.3 710.8L1248.8 711.0L1249.3 711.2L1249.8 711.4L1250.3 711.6L1250.8 711.8L1251.3 712.0L1251.8 712.2L1252.3 712.3L1252.8 712.5L1253.3 712.7L1253.8 712.9L1254.3 713.0L1254.8 713.2L1255.3 713.4L1255.8 713.5L1256.3 713.7L1256.8 713.9L1257.3 714.0L1257.8 714.2L1258.3 714.3L1258.8 714.4L1259.3 714.6L1259.8 714.7L1260.3 714.9L1260.8 715.0L1261.3 715.1L1261.8 715.3L1262.3 715.4L1262.8 715.5L1263.3 715.6L1263.8 715.8L1264.3 715.9L1264.8 716.0L1265.3 716.1L1265.8 716.3L1266.3 716.4L1266.8 716.5L1267.3 716.6L1267.8 716.7L1268.3 716.9L1268.8 717.0L1269.3 717.1L1269.8 717.2L1270.3 717.3L1270.8 717.4L1271.3 717.6L1271.8 717.7L1272.3 717.8L1272.8 717.9L1273.3 718.0L1273.8 718.1L1274.3 718.2L1274.8 718.3L1275.3 718.4L1275.8 718.5L1276.3 718.6L1276.8 718.7L1277.3 718.9L1277.8 719.0L1278.3 719.1L1278.8 719.2L1279.3 719.2L1279.8 719.3L1280.3 719.4L1280.8 719.5L1281.3 719.6L1281.8 719.7L1282.3 719.8L1282.8 719.9L1283.3 720.0L1283.8 720.1L1284.3 720.1L1284.8 720.2L1285.3 720.3L1285.8 720.4L1286.3 720.5L1286.8 720.5L1287.3 720.6L1287.8 720.7L1288.3 720.8L1288.8 720.8L1289.3 720.9L1289.8 721.0L1290.3 721.0L1290.8 721.1L1291.3 721.1L1291.8 721.2L1292.3 721.3L1292.8 721.3L1293.3 721.4L1293.8 721.4L1294.3 721.5L1294.8 721.5L1296.0 721.5L1297.5 640.0L1305.0 600.0L1305.0 600.0L1305.3 158.0L1347.5 158.0L1347.5 158.0L1348.0 235.4L1348.5 303.4L1349.0 370.9L1349.5 424.9L1350.0 440.1L1350.5 448.7L1351.0 456.0L1351.5 462.1L1352.0 467.4L1352.5 471.8L1353.0 475.5L1353.5 478.6L1354.0 481.4L1354.5 483.9L1355.0 486.2L1355.5 488.6L1356.0 491.1L1356.5 493.9L1357.0 497.1L1357.5 500.2L1358.0 503.3L1358.5 506.2L1359.0 509.0L1359.5 511.8L1360.0 514.4L1360.5 517.0L1361.0 519.5L1361.5 522.0L1362.0 524.3L1362.5 526.7L1363.0 528.9L1363.5 531.1L1364.0 533.3L1364.5 535.4L1365.0 537.5L1365.5 539.6L1366.0 541.6L1366.5 543.7L1367.0 545.7L1367.5 547.7L1368.0 549.7L1368.5 551.6L1369.0 553.5L1369.5 555.4L1370.0 557.2L1370.5 559.0L1371.0 560.8L1371.5 562.5L1372.0 564.2L1372.5 565.9L1373.0 567.4L1373.5 569.0L1374.0 570.5L1374.5 571.9L1375.0 573.2L1375.5 574.5L1376.0 575.8L1376.5 576.9L1377.0 578.1L1377.5 579.1L1378.0 580.2L1378.5 581.2L1379.0 582.2L1379.5 583.2L1380.0 584.1L1380.5 585.0L1381.0 585.9L1381.5 586.8L1382.0 587.7L1382.5 588.5L1383.0 589.3L1383.5 590.1L1384.0 590.9L1384.5 591.7L1385.0 592.4L1385.5 593.2L1386.0 593.9L1386.5 594.6L1387.0 595.3L1387.5 596.0L1388.0 596.7L1388.5 597.4L1389.0 598.1L1389.5 598.8L1390.0 599.4L1390.5 600.1L1391.0 600.8L1391.5 601.4L1392.0 602.1L1392.5 602.7L1393.0 603.4L1393.5 604.1L1394.0 604.7L1394.5 605.4L1395.0 606.0L1395.5 606.6L1396.0 607.3L1396.5 607.9L1397.0 608.6L1397.5 609.2L1398.0 609.8L1398.5 610.4L1399.0 611.1L1399.5 611.7L1400.0 612.3L1400.5 612.9L1401.0 613.5L1401.5 614.1L1402.0 614.7L1402.5 615.3L1403.0 615.9L1403.5 616.5L1404.0 617.0L1404.5 617.6L1405.0 618.2L1405.5 618.8L1406.0 619.3L1406.5 619.9L1407.0 620.4L1407.5 621.0L1408.0 621.5L1408.5 622.1L1409.0 622.6L1409.5 623.1L1410.0 623.7L1410.5 624.2L1411.0 624.7L1411.5 625.2L1412.0 625.7L1412.5 626.2L1413.0 626.7L1413.5 627.2L1414.0 627.7L1414.5 628.2L1415.0 628.7L1415.5 629.1L1416.0 629.6L1416.5 630.1L1417.0 630.5L1417.5 631.0L1418.0 631.4L1418.5 631.9L1419.0 632.3L1419.5 632.7L1420.0 633.1L1420.5 633.6L1421.0 634.0L1421.5 634.4L1422.0 634.8L1422.5 635.2L1423.0 635.6L1423.5 635.9L1424.0 636.3L1424.5 636.7L1425.0 637.1L1425.5 637.4L1426.0 637.8L1426.5 638.1L1427.0 638.5L1427.5 638.8L1428.0 639.2L1428.5 639.5L1429.0 639.8L1429.5 640.2L1430.0 640.5L1430.5 640.8L1431.0 641.1L1431.5 641.4L1432.0 641.7L1432.5 642.0L1433.0 642.3L1433.5 642.6L1434.0 642.9L1434.5 643.2L1435.0 643.5L1435.5 643.7L1436.0 644.0L1436.5 644.3L1437.0 644.5L1437.5 644.8L1438.0 645.0L1438.0 645.0L1438.3 158.0L1481.5 158.0L1481.5 158.0L1482.0 236.3L1482.5 306.4L1483.0 378.0L1483.5 435.9L1484.0 451.9L1484.5 460.8L1485.0 468.5L1485.5 475.3L1486.0 481.1L1486.5 486.2L1487.0 490.5L1487.5 494.2L1488.0 497.4L1488.5 500.3L1489.0 502.8L1489.5 505.2L1490.0 507.5L1490.5 509.8L1491.0 512.2L1491.5 514.9L1492.0 517.9L1492.5 521.2L1493.0 524.6L1493.5 528.0L1494.0 531.4L1494.5 534.8L1495.0 538.1L1495.5 541.3L1496.0 544.5L1496.5 547.6L1497.1 550.6L1497.6 553.5L1498.1 556.3L1498.6 559.0L1499.1 561.5L1499.6 563.9L1500.1 566.1L1500.6 568.2L1501.1 570.1L1501.6 571.8L1502.1 573.4L1502.6 575.0L1503.1 576.5L1503.6 578.0L1504.1 579.4L1504.6 580.8L1505.1 582.2L1505.6 583.5L1506.1 584.8L1506.6 586.0L1507.1 587.3L1507.6 588.4L1508.1 589.6L1508.6 590.7L1509.1 591.8L1509.6 592.9L1510.1 594.0L1510.6 595.0L1511.1 596.0L1511.6 597.0L1512.1 597.9L1512.6 598.8L1513.1 599.8L1513.6 600.7L1514.1 601.5L1514.6 602.4L1515.1 603.2L1515.6 604.1L1516.1 604.9L1516.6 605.7L1517.1 606.5L1517.6 607.3L1518.1 608.1L1518.6 608.9L1519.1 609.6L1519.6 610.4L1520.1 611.1L1520.6 611.9L1521.1 612.6L1521.6 613.4L1522.1 614.1L1522.6 614.8L1523.1 615.5L1523.6 616.2L1524.1 616.9L1524.6 617.5L1525.1 618.2L1525.6 618.8L1526.1 619.5L1526.6 620.1L1527.2 620.7L1527.7 621.3L1528.2 621.9L1528.7 622.5L1529.2 623.1L1529.7 623.7L1530.2 624.3L1530.7 624.8L1531.2 625.4L1531.7 625.9L1532.2 626.4L1532.7 627.0L1533.2 627.5L1533.7 628.0L1534.2 628.5L1534.7 629.0L1535.2 629.5L1535.7 630.0L1536.2 630.5L1536.7 631.0L1537.2 631.4L1537.7 631.9L1538.2 632.4L1538.7 632.8L1539.2 633.3L1539.7 633.7L1540.2 634.2L1540.7 634.6L1541.2 635.1L1541.7 635.5L1542.2 636.0L1542.7 636.4L1543.2 636.9L1543.7 637.3L1544.2 637.7L1544.7 638.2L1545.2 638.6L1545.7 639.0L1546.2 639.4L1546.7 639.9L1547.2 640.3L1547.7 640.7L1548.2 641.1L1548.7 641.5L1549.2 641.9L1549.7 642.3L1550.2 642.7L1550.7 643.1L1551.2 643.5L1551.7 643.9L1552.2 644.3L1552.7 644.6L1553.2 645.0L1553.7 645.4L1554.2 645.8L1554.7 646.1L1555.2 646.5L1555.7 646.8L1556.2 647.2L1556.8 647.5L1557.3 647.9L1557.8 648.2L1558.3 648.5L1558.8 648.8L1559.3 649.1L1559.8 649.5L1560.3 649.8L1560.8 650.1L1561.3 650.4L1561.8 650.7L1562.3 650.9L1562.8 651.2L1563.3 651.5L1563.8 651.8L1564.3 652.0L1564.8 652.3L1565.3 652.5L1565.8 652.8L1566.3 653.0L1566.8 653.2L1567.3 653.4L1567.8 653.6L1568.3 653.8L1568.8 654.0L1569.3 654.2L1569.8 654.4L1570.3 654.5L1570.8 654.7L1571.3 654.9L1571.8 655.0L1571.8 655.0L1572.1 158.0L1615.2 158.0L1615.2 158.0L1615.7 237.9L1616.2 309.3L1616.7 381.8L1617.2 439.4L1617.7 457.0L1618.2 468.2L1618.7 477.5L1619.2 485.3L1619.7 491.8L1620.2 497.1L1620.7 501.7L1621.2 505.6L1621.7 509.1L1622.2 512.4L1622.7 515.9L1623.2 519.6L1623.7 523.5L1624.2 527.2L1624.7 530.7L1625.2 534.1L1625.7 537.3L1626.2 540.4L1626.7 543.3L1627.2 546.2L1627.7 548.9L1628.2 551.4L1628.7 553.9L1629.2 556.3L1629.7 558.5L1630.3 560.7L1630.8 562.8L1631.3 564.8L1631.8 566.8L1632.3 568.7L1632.8 570.5L1633.3 572.3L1633.8 574.1L1634.3 575.8L1634.8 577.5L1635.3 579.1L1635.8 580.7L1636.3 582.2L1636.8 583.7L1637.3 585.2L1637.8 586.6L1638.3 588.0L1638.8 589.4L1639.3 590.7L1639.8 591.9L1640.3 593.2L1640.8 594.4L1641.3 595.5L1641.8 596.7L1642.3 597.8L1642.8 598.9L1643.3 599.9L1643.8 600.9L1644.3 601.9L1644.8 602.9L1645.3 603.8L1645.8 604.7L1646.3 605.6L1646.8 606.4L1647.3 607.3L1647.8 608.1L1648.3 608.9L1648.8 609.7L1649.3 610.5L1649.8 611.2L1650.3 612.0L1650.8 612.7L1651.3 613.4L1651.8 614.1L1652.3 614.8L1652.8 615.5L1653.3 616.2L1653.8 616.9L1654.3 617.6L1654.8 618.3L1655.3 619.0L1655.8 619.6L1656.3 620.3L1656.8 621.0L1657.3 621.7L1657.8 622.3L1658.3 623.0L1658.8 623.6L1659.3 624.3L1659.8 624.9L1660.4 625.6L1660.9 626.2L1661.4 626.8L1661.9 627.5L1662.4 628.1L1662.9 628.7L1663.4 629.3L1663.9 629.9L1664.4 630.5L1664.9 631.0L1665.4 631.6L1665.9 632.2L1666.4 632.7L1666.9 633.3L1667.4 633.8L1667.9 634.3L1668.4 634.9L1668.9 635.4L1669.4 635.9L1669.9 636.4L1670.4 636.8L1670.9 637.3L1671.4 637.8L1671.9 638.2L1672.4 638.7L1672.9 639.1L1673.4 639.5L1673.9 640.0L1674.4 640.4L1674.9 640.8L1675.4 641.2L1675.9 641.6L1676.4 642.1L1676.9 642.5L1677.4 642.9L1677.9 643.3L1678.4 643.7L1678.9 644.1L1679.4 644.4L1679.9 644.8L1680.4 645.2L1680.9 645.6L1681.4 645.9L1681.9 646.3L1682.4 646.7L1682.9 647.0L1683.4 647.4L1683.9 647.7L1684.4 648.1L1684.9 648.4L1685.4 648.8L1685.9 649.1L1686.4 649.5L1686.9 649.8L1687.4 650.1L1687.9 650.4L1688.4 650.8L1688.9 651.1L1689.4 651.4L1689.9 651.7L1690.5 652.0L1691.0 652.4L1691.5 652.7L1692.0 653.0L1692.5 653.3L1693.0 653.6L1693.5 653.9L1694.0 654.2L1694.5 654.5L1695.0 654.7L1695.5 655.0L1696.0 655.3L1696.5 655.6L1697.0 655.9L1697.5 656.2L1698.0 656.4L1698.5 656.7L1699.0 656.9L1699.5 657.2L1700.0 657.5L1700.5 657.7L1701.0 657.9L1701.5 658.2L1702.0 658.4L1702.5 658.7L1703.0 658.9L1703.5 659.1L1704.0 659.4L1704.5 659.6L1705.0 659.8L1705.0 659.8L1705.3 158.0L1748.1 158.0L1748.1 158.0L1748.6 238.8L1749.1 311.0L1749.6 383.7L1750.1 442.0L1750.6 462.3L1751.1 475.8L1751.6 487.1L1752.1 496.3L1752.6 503.9L1753.1 510.2L1753.6 515.4L1754.1 520.0L1754.6 524.1L1755.1 528.1L1755.6 532.0L1756.1 535.5L1756.6 538.8L1757.1 541.9L1757.6 544.7L1758.1 547.3L1758.6 549.8L1759.2 552.1L1759.7 554.3L1760.2 556.4L1760.7 558.5L1761.2 560.5L1761.7 562.5L1762.2 564.6L1762.7 566.6L1763.2 568.6L1763.7 570.5L1764.2 572.4L1764.7 574.3L1765.2 576.2L1765.7 578.0L1766.2 579.8L1766.7 581.6L1767.2 583.3L1767.7 585.0L1768.2 586.6L1768.7 588.2L1769.2 589.8L1769.7 591.3L1770.2 592.8L1770.7 594.3L1771.2 595.7L1771.7 597.0L1772.2 598.4L1772.7 599.6L1773.2 600.9L1773.7 602.1L1774.2 603.2L1774.7 604.3L1775.2 605.4L1775.7 606.4L1776.2 607.4L1776.7 608.4L1777.2 609.4L1777.7 610.3L1778.2 611.2L1778.7 612.1L1779.2 613.0L1779.8 613.8L1780.3 614.7L1780.8 615.5L1781.3 616.3L1781.8 617.0L1782.3 617.8L1782.8 618.6L1783.3 619.3L1783.8 620.0L1784.3 620.8L1784.8 621.5L1785.3 622.2L1785.8 622.9L1786.3 623.6L1786.8 624.3L1787.3 625.0L1787.8 625.7L1788.3 626.4L1788.8 627.1L1789.3 627.7L1789.8 628.4L1790.3 629.1L1790.8 629.8L1791.3 630.4L1791.8 631.1L1792.3 631.7L1792.8 632.4L1793.3 633.0L1793.8 633.6L1794.3 634.3L1794.8 634.9L1795.3 635.5L1795.8 636.1L1796.3 636.7L1796.8 637.3L1797.3 637.8L1797.8 638.4L1798.3 639.0L1798.8 639.5L1799.3 640.0L1799.8 640.6L1800.3 641.1L1800.8 641.6L1801.4 642.1L1801.9 642.5L1802.4 643.0L1802.9 643.4L1803.4 643.9L1803.9 644.3L1804.4 644.7L1804.9 645.1L1805.4 645.5L1805.9 645.9L1806.4 646.3L1806.9 646.7L1807.4 647.1L1807.9 647.5L1808.4 647.9L1808.9 648.2L1809.4 648.6L1809.9 648.9L1810.4 649.3L1810.9 649.6L1811.4 650.0L1811.9 650.3L1812.4 650.6L1812.9 651.0L1813.4 651.3L1813.9 651.6L1814.4 651.9L1814.9 652.2L1815.4 652.5L1815.9 652.9L1816.4 653.2L1816.9 653.5L1817.4 653.8L1817.9 654.1L1818.4 654.4L1818.9 654.6L1819.4 654.9L1819.9 655.2L1820.4 655.5L1820.9 655.8L1821.4 656.1L1822.0 656.4L1822.5 656.7L1823.0 656.9L1823.5 657.2L1824.0 657.5L1824.5 657.8L1825.0 658.1L1825.5 658.4L1826.0 658.6L1826.5 658.9L1827.0 659.2L1827.5 659.5L1828.0 659.7L1828.5 660.0L1829.0 660.3L1829.5 660.5L1830.0 660.8L1830.5 661.0L1831.0 661.3L1831.5 661.5L1832.0 661.8L1832.5 662.0" stroke="#ff0000" stroke-width="4.7" stroke-dasharray="54 12"/>
<path d="M222.5 896.5L238.5 909.0L238.5 909.0L239.0 739.8L239.5 639.5L240.0 609.6L240.5 589.1L241.0 575.3L241.5 565.6L242.0 557.5L242.5 550.3L243.0 544.1L243.5 538.8L244.0 534.6L244.5 531.2L245.0 528.8L245.5 527.0L246.0 525.3L246.5 523.8L247.0 522.4L247.5 521.1L248.0 519.9L248.5 518.8L249.0 517.8L249.5 516.9L250.0 516.1L250.5 515.4L251.0 514.7L251.5 514.1L252.0 513.6L252.5 513.1L253.0 512.6L253.5 512.1L254.0 511.6L254.5 511.2L255.0 510.7L255.5 510.3L256.0 509.8L256.5 509.4L257.0 509.0L257.5 508.6L258.0 508.2L258.5 507.9L259.0 507.5L259.5 507.2L260.0 506.9L260.5 506.6L261.0 506.4L261.5 506.1L262.0 505.9L262.5 505.7L263.0 505.5L263.5 505.4L264.0 505.2L264.5 505.1L265.0 505.1L265.5 505.0L266.0 505.0L266.5 505.0L267.0 505.0L267.5 505.0L268.0 505.0L268.5 505.0L269.0 505.0L269.5 505.0L270.0 505.0L270.5 505.0L271.0 505.0L271.5 505.0L272.0 505.0L272.5 505.0L273.0 505.0L273.5 505.0L274.0 505.0L274.5 505.0L275.0 505.0L275.5 505.0L276.0 505.0L276.5 505.0L277.0 505.0L277.5 505.0L278.0 505.0L278.5 505.0L279.0 505.0L279.5 505.0L280.0 505.0L280.5 505.0L281.0 505.0L281.5 505.0L281.5 505.0L282.0 530.4L282.5 554.5L283.0 578.0L283.5 600.6L284.0 620.5L284.5 637.6L285.0 652.8L285.5 666.0L286.0 677.9L286.5 688.8L287.0 697.8L287.5 704.5L288.0 710.0L288.5 714.9L289.0 719.3L289.5 723.3L290.0 726.9L290.5 730.4L291.0 733.6L291.5 736.9L292.0 740.2L292.5 743.6L293.0 747.0L293.5 750.3L294.0 753.5L294.5 756.7L295.0 759.7L295.5 762.7L296.0 765.7L296.5 768.6L297.0 771.4L297.5 774.2L298.0 777.0L298.5 779.8L299.0 782.5L299.5 785.2L300.0 787.9L300.5 790.5L301.0 793.1L301.5 795.6L302.0 798.1L302.5 800.6L303.0 803.0L303.5 805.4L304.0 807.7L304.5 810.0L305.0 812.2L305.5 814.4L306.0 816.7L306.5 818.9L307.0 821.1L307.5 823.2L308.0 825.4L308.5 827.5L309.0 829.5L309.5 831.5L310.0 833.5L310.5 835.4L311.0 837.3L311.5 839.1L312.0 840.8L312.5 842.5L313.0 844.1L313.5 845.6L314.0 847.0L314.5 848.4L315.0 849.8L315.5 851.2L316.0 852.6L316.5 853.9L317.0 855.2L317.5 856.5L318.0 857.8L318.5 859.1L319.0 860.3L319.5 861.6L320.0 862.8L320.5 864.0L321.0 865.1L321.5 866.3L322.0 867.4L322.5 868.5L323.0 869.6L323.5 870.7L324.0 871.7L324.5 872.8L325.0 873.8L325.5 874.8L326.0 875.7L326.5 876.7L327.0 877.6L327.5 878.5L328.0 879.4L328.5 880.2L329.0 881.1L329.5 881.9L330.0 882.7L330.5 883.5L331.0 884.2L331.5 884.9L332.0 885.7L332.5 886.3L333.0 887.0L333.5 887.6L334.0 888.3L334.5 888.9L335.0 889.4L335.5 890.0L336.0 890.6L336.5 891.1L337.0 891.6L337.5 892.1L338.0 892.6L338.5 893.1L339.0 893.6L339.5 894.1L340.0 894.5L340.5 895.0L341.0 895.4L341.5 895.9L342.0 896.3L342.5 896.8L343.0 897.2L343.5 897.7L344.0 898.1L344.5 898.6L345.0 899.0L345.5 899.5L346.0 899.9L346.5 900.4L347.0 900.9L347.5 901.4L348.0 901.8L348.5 902.3L349.0 902.8L349.5 903.2L350.0 903.7L350.5 904.2L351.0 904.6L351.5 905.1L352.0 905.6L352.5 906.0L353.0 906.5L353.5 906.9L354.0 907.3L354.5 907.8L355.0 908.2L355.5 908.6L356.0 909.0L356.5 909.4L357.0 909.8L357.5 910.2L358.0 910.6L358.5 910.9L359.0 911.3L359.5 911.6L360.0 912.0L360.5 912.3L361.0 912.6L361.5 913.0L362.0 913.3L362.5 913.6L363.0 913.9L363.5 914.2L364.0 914.5L364.5 914.8L365.0 915.1L365.5 915.4L366.0 915.7L366.5 916.0L367.0 916.3L367.5 916.5L368.0 916.8L368.5 917.1L369.0 917.3L369.5 917.6L370.0 917.8L370.5 918.0L371.0 918.3L371.5 918.5L372.0 918.7L372.0 918.7L372.5 744.2L373.0 642.8L373.5 612.3L374.0 591.5L374.5 577.5L375.0 567.6L375.5 559.3L376.0 552.0L376.5 545.7L377.0 540.4L377.5 536.1L378.0 532.8L378.5 530.4L379.0 528.6L379.5 526.9L380.0 525.3L380.5 523.8L381.0 522.5L381.5 521.3L382.0 520.2L382.5 519.3L383.0 518.4L383.5 517.6L384.0 516.8L384.5 516.2L385.0 515.6L385.5 515.0L386.0 514.5L386.5 514.0L387.0 513.5L387.5 513.0L388.0 512.5L388.5 512.1L389.0 511.6L389.5 511.2L390.0 510.7L390.5 510.3L391.0 509.9L391.5 509.5L392.0 509.2L392.5 508.8L393.0 508.5L393.5 508.2L394.0 507.9L394.5 507.6L395.0 507.4L395.5 507.2L396.0 507.0L396.5 506.8L397.0 506.7L397.5 506.6L398.0 506.5L398.5 506.4L399.0 506.4L399.5 506.4L400.0 506.4L400.5 506.4L401.0 506.4L401.5 506.4L402.0 506.4L402.5 506.4L403.0 506.4L403.5 506.4L404.0 506.4L404.5 506.4L405.0 506.4L405.5 506.4L406.0 506.4L406.5 506.4L407.0 506.4L407.5 506.4L408.0 506.4L408.5 506.4L409.0 506.4L409.5 506.4L410.0 506.4L410.5 506.4L411.0 506.4L411.5 506.4L412.0 506.4L412.5 506.4L413.0 506.4L413.5 506.4L414.0 506.4L414.5 506.4L414.5 506.4L415.0 531.7L415.5 555.9L416.0 579.3L416.5 602.0L417.0 622.0L417.5 639.1L418.0 654.3L418.5 667.6L419.0 679.5L419.5 690.4L420.0 699.6L420.5 706.4L421.0 712.0L421.5 716.9L422.0 721.4L422.5 725.4L423.0 729.0L423.5 732.5L424.0 735.7L424.5 739.0L425.0 742.3L425.5 745.7L426.0 749.1L426.5 752.4L427.0 755.6L427.5 758.8L428.0 761.8L428.5 764.8L429.0 767.8L429.5 770.7L430.0 773.5L430.5 776.4L431.0 779.2L431.5 781.9L432.0 784.7L432.5 787.4L433.0 790.0L433.5 792.7L434.0 795.2L434.5 797.8L435.0 800.3L435.5 802.8L436.0 805.2L436.5 807.6L437.0 809.9L437.5 812.2L438.0 814.4L438.5 816.7L439.0 818.9L439.5 821.1L440.0 823.3L440.5 825.5L441.0 827.6L441.5 829.7L442.0 831.8L442.5 833.8L443.0 835.8L443.5 837.8L444.0 839.6L444.5 841.5L445.0 843.2L445.5 844.9L446.0 846.5L446.5 848.0L447.0 849.5L447.5 850.9L448.0 852.3L448.5 853.7L449.0 855.0L449.5 856.4L450.0 857.7L450.5 859.0L451.0 860.3L451.5 861.6L452.0 862.8L452.5 864.1L453.0 865.3L453.5 866.5L454.0 867.7L454.5 868.8L455.0 870.0L455.5 871.1L456.0 872.2L456.5 873.3L457.0 874.3L457.5 875.4L458.0 876.4L458.5 877.4L459.0 878.3L459.5 879.3L460.0 880.2L460.5 881.2L461.0 882.0L461.5 882.9L462.0 883.8L462.5 884.6L463.0 885.4L463.5 886.2L464.0 887.0L464.5 887.7L465.0 888.4L465.5 889.1L466.0 889.8L466.5 890.4L467.0 891.1L467.5 891.7L468.0 892.3L468.5 892.8L469.0 893.4L469.5 893.9L470.0 894.5L470.5 895.0L471.0 895.5L471.5 896.0L472.0 896.5L472.5 896.9L473.0 897.4L473.5 897.9L474.0 898.3L474.5 898.8L475.0 899.2L475.5 899.7L476.0 900.1L476.5 900.6L477.0 901.0L477.5 901.4L478.0 901.9L478.5 902.4L479.0 902.8L479.5 903.3L480.0 903.8L480.5 904.2L481.0 904.7L481.5 905.2L482.0 905.6L482.5 906.1L483.0 906.6L483.5 907.1L484.0 907.5L484.5 908.0L485.0 908.4L485.5 908.9L486.0 909.4L486.5 909.8L487.0 910.2L487.5 910.7L488.0 911.1L488.5 911.5L489.0 911.9L489.5 912.4L490.0 912.8L490.5 913.1L491.0 913.5L491.5 913.9L492.0 914.3L492.5 914.6L493.0 914.9L493.5 915.3L494.0 915.6L494.5 915.9L495.0 916.3L495.5 916.6L496.0 916.9L496.5 917.2L497.0 917.5L497.5 917.8L498.0 918.1L498.5 918.4L499.0 918.7L499.5 919.0L500.0 919.3L500.5 919.6L501.0 919.8L501.5 920.1L502.0 920.4L502.5 920.6L503.0 920.9L503.5 921.1L504.0 921.3L504.5 921.6L505.0 921.8L505.5 922.0L505.5 922.0L506.0 746.7L506.5 644.9L507.0 614.3L507.5 593.3L508.0 579.3L508.5 569.4L509.0 561.0L509.5 553.7L510.0 547.4L510.5 542.0L511.0 537.7L511.5 534.4L512.0 532.0L512.5 530.2L513.0 528.4L513.5 526.9L514.0 525.4L514.5 524.1L515.0 522.9L515.5 521.8L516.0 520.8L516.5 519.9L517.0 519.1L517.5 518.4L518.0 517.7L518.5 517.1L519.0 516.5L519.5 516.0L520.0 515.5L520.5 515.0L521.0 514.5L521.5 514.1L522.0 513.6L522.5 513.1L523.0 512.7L523.5 512.3L524.0 511.8L524.5 511.4L525.0 511.1L525.5 510.7L526.0 510.3L526.5 510.0L527.0 509.7L527.5 509.4L528.0 509.2L528.5 508.9L529.0 508.7L529.5 508.5L530.0 508.3L530.5 508.2L531.0 508.1L531.5 508.0L532.0 507.9L532.5 507.9L533.0 507.9L533.5 507.9L534.0 507.9L534.5 507.9L535.0 507.9L535.5 507.9L536.0 507.9L536.5 507.9L537.0 507.9L537.5 507.9L538.0 507.9L538.5 507.9L539.0 507.9L539.5 507.9L540.0 507.9L540.5 507.9L541.0 507.9L541.5 507.9L542.0 507.9L542.5 507.9L543.0 507.9L543.5 507.9L544.0 507.9L544.5 507.9L545.0 507.9L545.5 507.9L546.0 507.9L546.5 507.9L547.0 507.9L547.5 507.9L548.0 507.9L548.0 507.9L548.5 533.4L549.0 557.6L549.5 581.2L550.0 603.9L550.5 624.0L551.0 641.1L551.5 656.4L552.0 669.7L552.5 681.6L553.0 692.5L553.5 701.6L554.0 708.3L554.5 713.9L555.0 718.8L555.5 723.2L556.0 727.2L556.5 730.9L557.0 734.3L557.5 737.6L558.0 740.8L558.5 744.2L559.0 747.6L559.5 751.0L560.0 754.3L560.5 757.6L561.0 760.7L561.5 763.8L562.0 766.8L562.5 769.8L563.0 772.7L563.5 775.5L564.0 778.4L564.5 781.2L565.0 783.9L565.5 786.7L566.0 789.4L566.5 792.1L567.0 794.7L567.5 797.3L568.0 799.9L568.5 802.4L569.0 804.9L569.5 807.3L570.0 809.7L570.5 812.0L571.1 814.3L571.6 816.5L572.1 818.8L572.6 821.0L573.1 823.2L573.6 825.4L574.1 827.6L574.6 829.7L575.1 831.8L575.6 833.9L576.1 835.9L576.6 837.9L577.1 839.9L577.6 841.7L578.1 843.5L578.6 845.3L579.1 847.0L579.6 848.5L580.1 850.0L580.6 851.5L581.1 852.9L581.6 854.3L582.1 855.7L582.6 857.1L583.1 858.4L583.6 859.7L584.1 861.0L584.6 862.3L585.1 863.6L585.6 864.9L586.1 866.1L586.6 867.3L587.1 868.5L587.6 869.7L588.1 870.8L588.6 872.0L589.1 873.1L589.6 874.2L590.1 875.3L590.6 876.3L591.1 877.3L591.6 878.4L592.1 879.3L592.6 880.3L593.1 881.3L593.6 882.2L594.1 883.1L594.6 884.0L595.1 884.9L595.6 885.7L596.1 886.5L596.6 887.3L597.1 888.1L597.6 888.9L598.1 889.6L598.6 890.3L599.1 891.0L599.6 891.7L600.1 892.3L600.6 892.9L601.1 893.5L601.6 894.1L602.1 894.7L602.6 895.2L603.1 895.8L603.6 896.3L604.1 896.8L604.6 897.3L605.1 897.8L605.6 898.3L606.1 898.7L606.6 899.2L607.1 899.7L607.6 900.1L608.1 900.6L608.6 901.0L609.1 901.5L609.6 901.9L610.1 902.4L610.6 902.8L611.1 903.3L611.6 903.7L612.1 904.2L612.6 904.7L613.1 905.1L613.6 905.6L614.1 906.1L614.6 906.5L615.1 907.0L615.6 907.5L616.2 908.0L616.7 908.4L617.2 908.9L617.7 909.4L618.2 909.8L618.7 910.3L619.2 910.8L619.7 911.2L620.2 911.7L620.7 912.1L621.2 912.5L621.7 913.0L622.2 913.4L622.7 913.8L623.2 914.2L623.7 914.6L624.2 915.0L624.7 915.3L625.2 915.7L625.7 916.0L626.2 916.4L626.7 916.7L627.2 917.1L627.7 917.4L628.2 917.7L628.7 918.1L629.2 918.4L629.7 918.7L630.2 919.0L630.7 919.3L631.2 919.6L631.7 919.9L632.2 920.2L632.7 920.5L633.2 920.8L633.7 921.1L634.2 921.3L634.7 921.6L635.2 921.9L635.7 922.1L636.2 922.4L636.7 922.6L637.2 922.8L637.7 923.1L638.2 923.3L638.7 923.5L638.7 923.5L639.2 747.7L639.7 643.1L640.2 608.6L640.7 584.3L641.2 568.2L641.7 558.2L642.2 550.9L642.7 544.5L643.2 539.0L643.7 534.3L644.2 530.3L644.7 527.1L645.2 524.5L645.8 522.4L646.3 520.9L646.8 519.5L647.3 518.4L647.8 517.3L648.3 516.4L648.8 515.6L649.3 514.9L649.8 514.2L650.3 513.7L650.8 513.1L651.3 512.7L651.8 512.2L652.3 511.8L652.8 511.4L653.3 511.0L653.8 510.7L654.3 510.3L654.8 510.0L655.3 509.7L655.8 509.5L656.3 509.2L656.8 509.0L657.3 508.8L657.8 508.6L658.3 508.4L658.8 508.2L659.3 508.0L659.9 507.8L660.4 507.7L660.9 507.5L661.4 507.4L661.9 507.2L662.4 507.1L662.9 506.9L663.4 506.8L663.9 506.7L664.4 506.6L664.9 506.4L665.4 506.3L665.9 506.2L666.4 506.1L666.9 506.0L667.4 505.9L667.9 505.8L668.4 505.7L668.9 505.6L669.4 505.5L669.9 505.5L670.4 505.4L670.9 505.3L671.4 505.2L671.9 505.1L672.4 505.0L672.9 505.0L673.4 504.9L674.0 504.8L674.5 504.7L675.0 504.6L675.5 504.6L676.0 504.5L676.5 504.4L677.0 504.4L677.5 504.3L678.0 504.3L678.5 504.2L679.0 504.2L679.5 504.1L680.0 504.1L680.5 504.0L681.0 504.0L681.0 504.0L681.5 531.7L682.0 557.6L682.5 580.7L683.0 600.3L683.5 617.0L684.0 632.3L684.5 646.2L685.0 658.8L685.5 670.2L686.0 680.4L686.5 689.8L687.0 698.8L687.5 707.1L688.0 714.9L688.5 722.2L689.0 728.7L689.5 734.7L690.0 739.9L690.5 744.6L691.0 748.9L691.5 752.7L692.0 756.3L692.5 759.7L693.0 763.0L693.5 766.2L694.1 769.5L694.6 772.8L695.1 776.4L695.6 780.2L696.1 784.1L696.6 788.1L697.1 792.2L697.6 796.2L698.1 800.0L698.6 803.7L699.1 807.2L699.6 810.3L700.1 813.1L700.6 815.7L701.1 818.2L701.6 820.7L702.1 823.1L702.6 825.4L703.1 827.6L703.6 829.6L704.1 831.6L704.6 833.4L705.1 835.0L705.6 836.5L706.1 837.9L706.6 839.0L709.0 830.0L709.5 809.9L710.0 791.4L710.5 774.6L711.0 760.0L711.5 746.1L712.0 732.7L712.5 722.0L713.0 716.0L713.5 713.3L714.0 711.1L714.5 709.2L715.0 707.6L715.5 706.4L716.0 705.4L716.5 704.6L717.0 704.0L717.5 703.5L718.0 703.0L718.5 702.6L719.0 702.2L719.5 701.9L720.0 701.7L720.5 701.5L721.0 701.3L721.5 701.3L722.0 701.3L722.5 701.4L723.0 701.5L723.5 701.6L724.0 701.8L724.5 702.1L725.0 702.3L725.5 702.6L726.0 703.0L726.5 703.3L727.0 703.7L727.5 704.1L728.0 704.6L728.5 705.1L729.0 705.6L729.5 706.1L730.0 706.6L730.5 707.2L731.0 707.8L731.5 708.4L732.0 709.0L732.5 709.6L733.0 710.2L733.5 710.9L734.0 711.5L734.5 712.2L735.0 712.9L735.5 713.5L736.0 714.2L736.5 714.9L737.0 715.5L737.5 716.2L738.0 716.9L738.5 717.5L739.0 718.2L739.5 718.8L740.0 719.5L740.5 720.1L741.0 720.7L741.5 721.3L742.0 721.9L742.5 722.5L743.0 723.0L743.5 723.5L744.0 724.1L744.5 724.6L745.0 725.2L745.5 725.7L746.0 726.3L746.5 726.8L747.0 727.4L747.5 727.9L748.0 728.5L748.5 729.1L749.0 729.6L749.5 730.2L750.0 730.7L750.5 731.3L751.0 731.9L751.5 732.5L752.0 733.0L752.5 733.6L753.0 734.2L753.5 734.7L754.0 735.3L754.5 735.9L755.0 736.4L755.5 737.0L756.0 737.6L756.5 738.1L757.0 738.7L757.5 739.3L758.0 739.9L758.5 740.6L759.0 741.2L759.5 741.9L760.0 742.5L760.5 743.2L761.0 743.9L761.5 744.5L762.0 745.2L762.5 745.8L763.0 746.5L763.5 747.1L764.0 747.6L764.5 748.2L765.0 748.7L765.5 749.2L766.0 749.7L766.5 750.1L767.0 750.4L767.5 750.7L768.0 751.0L768.5 751.2L769.0 751.4L769.5 751.6L770.0 751.8L770.5 751.9L771.0 752.0L771.0 752.0L771.5 597.8L772.0 511.5L772.5 457.1L773.0 433.1L773.5 428.2L774.0 424.7L774.5 422.2L775.0 420.3L775.5 418.8L776.0 417.3L776.5 415.8L777.0 414.4L777.5 413.1L778.0 412.0L778.5 411.0L779.0 410.1L779.5 409.2L780.0 408.5L780.5 407.7L781.0 407.1L781.5 406.4L782.0 405.8L782.5 405.2L783.0 404.6L783.5 404.1L784.0 403.6L784.5 403.2L785.0 402.8L785.5 402.4L786.0 402.0L786.5 401.7L787.0 401.4L787.5 401.1L788.0 400.8L788.5 400.5L789.0 400.2L789.5 400.0L790.0 399.7L790.5 399.4L791.0 399.2L791.5 399.0L792.0 398.8L792.5 398.6L793.0 398.4L793.5 398.3L794.0 398.2L794.5 398.1L795.0 398.0L795.5 398.0L796.0 398.0L796.5 398.0L797.0 398.0L797.5 398.0L798.0 398.0L798.5 398.0L799.0 398.0L799.5 398.0L800.0 398.0L800.5 398.0L801.0 398.0L801.5 398.0L802.0 398.0L802.5 398.0L803.0 398.0L803.5 398.0L804.0 398.0L804.5 398.0L805.0 398.0L805.5 398.0L806.0 398.0L806.5 398.0L807.0 398.0L807.5 398.0L808.0 398.0L808.5 398.0L809.0 398.0L809.5 398.0L810.0 398.0L810.5 398.0L811.0 398.0L811.5 398.0L812.0 398.0L812.5 398.0L813.0 398.0L813.5 398.0L813.5 398.0L814.0 420.9L814.5 442.7L815.0 464.3L815.5 485.1L816.0 502.2L816.5 515.7L817.0 527.4L817.5 537.7L818.0 546.9L818.5 555.7L819.0 563.9L819.5 571.2L820.0 577.1L820.5 581.4L821.0 585.2L821.5 588.7L822.0 591.9L822.5 594.8L823.0 597.6L823.5 600.1L824.0 602.5L824.5 604.7L825.0 606.9L825.5 608.9L826.0 610.9L826.5 612.9L827.0 614.8L827.5 616.8L828.0 618.9L828.5 620.9L829.0 622.8L829.5 624.7L830.0 626.6L830.5 628.4L831.0 630.2L831.5 631.9L832.0 633.6L832.5 635.3L833.0 636.9L833.5 638.5L834.0 640.1L834.5 641.7L835.0 643.2L835.5 644.8L836.0 646.3L836.5 647.8L837.0 649.3L837.5 650.8L838.0 652.3L838.5 653.8L839.0 655.3L839.5 656.7L840.0 658.2L840.5 659.7L841.0 661.1L841.5 662.6L842.0 664.0L842.5 665.4L843.0 666.8L843.5 668.2L844.0 669.6L844.5 670.9L845.0 672.3L845.5 673.6L846.0 674.9L846.5 676.2L847.0 677.5L847.5 678.8L848.0 680.0L848.5 681.3L849.0 682.5L849.5 683.7L850.0 684.9L850.5 686.1L851.0 687.2L851.5 688.4L852.0 689.5L852.5 690.6L853.0 691.7L853.5 692.8L854.0 693.9L854.5 695.0L855.0 696.1L855.5 697.1L856.0 698.2L856.5 699.2L857.0 700.3L857.5 701.3L858.0 702.3L858.5 703.3L859.0 704.3L859.5 705.3L860.0 706.3L860.5 707.3L861.0 708.3L861.5 709.2L862.0 710.2L862.5 711.1L863.0 712.1L863.5 713.0L864.0 714.0L864.5 714.9L865.0 715.8L865.5 716.7L866.0 717.6L866.5 718.5L867.0 719.4L867.5 720.3L868.0 721.2L868.5 722.1L869.0 723.0L869.5 723.9L870.0 724.8L870.5 725.6L871.0 726.5L871.5 727.4L872.0 728.2L872.5 729.1L873.0 729.9L873.5 730.8L874.0 731.6L874.5 732.5L875.0 733.3L875.5 734.2L876.0 735.0L876.5 735.8L877.0 736.7L877.5 737.5L878.0 738.3L878.5 739.1L879.0 739.9L879.5 740.7L880.0 741.5L880.5 742.3L881.0 743.0L881.5 743.8L882.0 744.6L882.5 745.3L883.0 746.1L883.5 746.8L884.0 747.5L884.5 748.3L885.0 749.0L885.5 749.7L886.0 750.4L886.5 751.0L887.0 751.7L887.5 752.4L888.0 753.0L888.5 753.7L889.0 754.3L889.5 754.9L890.0 755.5L890.5 756.2L891.0 756.8L891.5 757.4L892.0 758.0L892.5 758.6L893.0 759.1L893.5 759.7L894.0 760.3L894.5 760.9L895.0 761.4L895.5 762.0L896.0 762.5L896.5 763.1L897.0 763.6L897.5 764.1L898.0 764.6L898.5 765.2L899.0 765.7L899.5 766.2L900.0 766.6L900.5 767.1L901.0 767.6L901.5 768.1L902.0 768.5L902.5 769.0L903.0 769.4L903.5 769.9L904.0 770.3L904.0 770.3L904.5 636.7L905.0 551.1L905.5 513.7L906.0 485.4L906.5 466.2L907.0 456.1L907.5 451.6L908.0 448.4L908.5 446.0L909.0 443.6L909.5 441.0L910.0 438.6L910.5 436.3L911.0 434.1L911.5 432.0L912.0 430.1L912.5 428.4L913.0 426.9L913.5 425.5L914.0 424.2L914.5 423.0L915.0 421.8L915.5 420.7L916.0 419.6L916.5 418.6L917.0 417.7L917.5 416.9L918.0 416.1L918.5 415.4L919.0 414.7L919.5 414.1L920.0 413.6L920.5 413.0L921.0 412.5L921.5 412.0L922.0 411.5L922.5 411.1L923.0 410.7L923.5 410.3L924.0 409.9L924.5 409.6L925.0 409.2L925.5 408.9L926.0 408.7L926.5 408.4L927.0 408.1L927.5 407.8L928.0 407.6L928.5 407.3L929.0 407.0L929.5 406.8L930.0 406.5L930.5 406.3L931.0 406.1L931.5 405.9L932.0 405.7L932.5 405.5L933.0 405.4L933.5 405.2L934.0 405.1L934.5 405.1L935.0 405.0L935.5 405.0L936.0 405.0L936.5 405.0L937.0 405.0L937.5 405.0L938.0 405.0L938.5 405.0L939.0 405.0L939.5 405.0L940.0 405.0L940.5 405.0L941.0 405.0L941.5 405.0L942.0 405.0L942.5 405.0L943.0 405.0L943.5 405.0L944.0 405.0L944.5 405.0L945.0 405.0L945.5 405.0L946.0 405.0L946.5 405.0L947.0 405.0L947.0 405.0L947.5 428.1L948.0 450.1L948.5 471.9L949.0 492.9L949.5 510.3L950.0 523.9L950.5 535.7L951.0 546.1L951.5 555.4L952.0 564.2L952.5 572.6L953.0 580.0L953.5 585.9L954.0 590.2L954.5 594.0L955.0 597.6L955.5 600.8L956.0 603.8L956.5 606.6L957.0 609.1L957.5 611.5L958.0 613.8L958.5 615.9L959.0 618.0L959.5 620.0L960.0 622.0L960.5 624.0L961.0 626.0L961.5 628.1L962.0 630.1L962.5 632.1L963.0 634.0L963.5 635.9L964.0 637.7L964.5 639.5L965.0 641.2L965.5 642.9L966.0 644.6L966.5 646.3L967.0 647.9L967.5 649.5L968.0 651.1L968.5 652.7L969.0 654.2L969.5 655.7L970.0 657.3L970.5 658.8L971.0 660.3L971.5 661.8L972.0 663.3L972.5 664.8L973.0 666.3L973.5 667.8L974.0 669.3L974.5 670.7L975.0 672.2L975.5 673.6L976.0 675.0L976.5 676.5L977.0 677.9L977.5 679.3L978.0 680.6L978.5 682.0L979.0 683.3L979.5 684.7L980.0 686.0L980.5 687.3L981.0 688.6L981.5 689.8L982.0 691.1L982.5 692.3L983.0 693.6L983.5 694.8L984.0 695.9L984.5 697.1L985.0 698.2L985.5 699.4L986.0 700.5L986.5 701.6L987.0 702.8L987.5 703.9L988.0 704.9L988.5 706.0L989.0 707.1L989.5 708.2L990.0 709.2L990.5 710.3L991.0 711.3L991.5 712.3L992.0 713.4L992.5 714.4L993.0 715.4L993.5 716.4L994.0 717.4L994.5 718.3L995.0 719.3L995.5 720.3L996.0 721.3L996.5 722.2L997.0 723.2L997.5 724.1L998.0 725.0L998.5 726.0L999.0 726.9L999.5 727.8L1000.0 728.7L1000.5 729.6L1001.0 730.5L1001.5 731.4L1002.0 732.3L1002.5 733.2L1003.0 734.1L1003.5 735.0L1004.0 735.9L1004.5 736.8L1005.0 737.6L1005.5 738.5L1006.0 739.4L1006.5 740.2L1007.0 741.1L1007.5 742.0L1008.0 742.8L1008.5 743.7L1009.0 744.5L1009.5 745.4L1010.0 746.2L1010.5 747.0L1011.0 747.8L1011.5 748.7L1012.0 749.5L1012.5 750.3L1013.0 751.1L1013.5 751.9L1014.0 752.7L1014.5 753.5L1015.0 754.2L1015.5 755.0L1016.0 755.8L1016.5 756.5L1017.0 757.3L1017.5 758.0L1018.0 758.7L1018.5 759.5L1019.0 760.2L1019.5 760.9L1020.0 761.5L1020.5 762.2L1021.0 762.9L1021.5 763.6L1022.0 764.2L1022.5 764.8L1023.0 765.5L1023.5 766.1L1024.0 766.7L1024.5 767.3L1025.0 767.9L1025.5 768.5L1026.0 769.1L1026.5 769.7L1027.0 770.3L1027.5 770.9L1028.0 771.5L1028.5 772.0L1029.0 772.6L1029.5 773.1L1030.0 773.7L1030.5 774.2L1031.0 774.8L1031.5 775.3L1032.0 775.8L1032.5 776.3L1033.0 776.8L1033.5 777.3L1034.0 777.8L1034.5 778.3L1035.0 778.8L1035.5 779.2L1036.0 779.7L1036.5 780.1L1037.0 780.6L1037.5 781.0L1037.5 781.0L1038.0 643.8L1038.5 556.0L1039.0 517.6L1039.5 488.5L1040.0 468.9L1040.5 458.5L1041.0 453.8L1041.5 450.6L1042.0 448.1L1042.5 445.6L1043.0 443.0L1043.5 440.5L1044.0 438.1L1044.5 435.8L1045.1 433.7L1045.6 431.8L1046.1 430.0L1046.6 428.5L1047.1 427.1L1047.6 425.7L1048.1 424.5L1048.6 423.3L1049.1 422.1L1049.6 421.0L1050.1 420.0L1050.6 419.1L1051.1 418.2L1051.6 417.4L1052.1 416.7L1052.6 416.0L1053.1 415.4L1053.6 414.8L1054.1 414.2L1054.6 413.7L1055.1 413.2L1055.6 412.7L1056.1 412.3L1056.6 411.8L1057.1 411.4L1057.6 411.0L1058.1 410.7L1058.6 410.4L1059.2 410.0L1059.7 409.8L1060.2 409.5L1060.7 409.2L1061.2 408.9L1061.7 408.6L1062.2 408.3L1062.7 408.1L1063.2 407.8L1063.7 407.6L1064.2 407.3L1064.7 407.1L1065.2 406.9L1065.7 406.7L1066.2 406.5L1066.7 406.4L1067.2 406.2L1067.7 406.1L1068.2 406.1L1068.7 406.0L1069.2 406.0L1069.7 406.0L1070.2 406.0L1070.7 406.0L1071.2 406.0L1071.7 406.0L1072.2 406.0L1072.7 406.0L1073.2 406.0L1073.8 406.0L1074.3 406.0L1074.8 406.0L1075.3 406.0L1075.8 406.0L1076.3 406.0L1076.8 406.0L1077.3 406.0L1077.8 406.0L1078.3 406.0L1078.8 406.0L1079.3 406.0L1079.8 406.0L1080.3 406.0L1080.8 406.0L1080.8 406.0L1081.3 429.3L1081.8 451.5L1082.3 473.6L1082.8 494.7L1083.3 512.3L1083.8 526.0L1084.3 537.9L1084.8 548.4L1085.3 557.8L1085.8 566.7L1086.3 575.2L1086.8 582.6L1087.3 588.6L1087.8 592.9L1088.3 596.8L1088.8 600.4L1089.3 603.6L1089.8 606.7L1090.3 609.4L1090.8 612.0L1091.3 614.5L1091.8 616.7L1092.3 618.9L1092.8 621.0L1093.3 623.0L1093.8 625.0L1094.3 627.0L1094.8 629.1L1095.3 631.2L1095.8 633.2L1096.3 635.2L1096.8 637.1L1097.3 639.0L1097.8 640.8L1098.3 642.7L1098.8 644.4L1099.3 646.2L1099.8 647.9L1100.3 649.5L1100.8 651.2L1101.3 652.8L1101.8 654.4L1102.3 656.0L1102.8 657.5L1103.3 659.1L1103.8 660.6L1104.3 662.2L1104.8 663.7L1105.3 665.2L1105.8 666.7L1106.3 668.2L1106.8 669.7L1107.3 671.2L1107.8 672.7L1108.3 674.2L1108.8 675.7L1109.3 677.1L1109.8 678.6L1110.3 680.0L1110.8 681.4L1111.3 682.8L1111.8 684.2L1112.3 685.6L1112.8 686.9L1113.3 688.3L1113.8 689.6L1114.3 690.9L1114.8 692.2L1115.3 693.5L1115.8 694.8L1116.3 696.0L1116.8 697.2L1117.3 698.5L1117.8 699.6L1118.3 700.8L1118.8 702.0L1119.3 703.1L1119.8 704.3L1120.3 705.4L1120.8 706.5L1121.3 707.6L1121.8 708.7L1122.3 709.8L1122.8 710.9L1123.3 712.0L1123.8 713.0L1124.3 714.1L1124.8 715.2L1125.3 716.2L1125.8 717.2L1126.3 718.2L1126.8 719.3L1127.3 720.3L1127.8 721.3L1128.3 722.3L1128.8 723.2L1129.3 724.2L1129.8 725.2L1130.3 726.2L1130.8 727.1L1131.3 728.1L1131.8 729.0L1132.3 730.0L1132.8 730.9L1133.3 731.8L1133.8 732.7L1134.3 733.7L1134.8 734.6L1135.3 735.5L1135.8 736.4L1136.3 737.3L1136.8 738.2L1137.3 739.1L1137.8 740.0L1138.3 740.8L1138.8 741.7L1139.3 742.6L1139.8 743.5L1140.3 744.4L1140.8 745.2L1141.3 746.1L1141.8 747.0L1142.3 747.8L1142.8 748.7L1143.3 749.5L1143.8 750.4L1144.3 751.2L1144.8 752.0L1145.3 752.9L1145.8 753.7L1146.3 754.5L1146.8 755.3L1147.3 756.1L1147.8 756.9L1148.3 757.7L1148.8 758.5L1149.3 759.3L1149.8 760.0L1150.3 760.8L1150.8 761.6L1151.3 762.3L1151.8 763.0L1152.3 763.8L1152.8 764.5L1153.3 765.2L1153.8 765.9L1154.3 766.6L1154.8 767.2L1155.3 767.9L1155.8 768.5L1156.3 769.2L1156.8 769.8L1157.3 770.5L1157.8 771.1L1158.3 771.7L1158.8 772.3L1159.3 772.9L1159.8 773.5L1160.3 774.1L1160.8 774.7L1161.3 775.3L1161.8 775.9L1162.3 776.4L1162.8 777.0L1163.3 777.6L1163.8 778.1L1164.3 778.7L1164.8 779.2L1165.3 779.7L1165.8 780.3L1166.3 780.8L1166.8 781.3L1167.3 781.8L1167.8 782.3L1168.3 782.8L1168.8 783.2L1169.3 783.7L1169.8 784.2L1170.3 784.6L1170.8 785.1L1171.3 785.5L1171.3 785.5L1171.8 648.7L1172.3 559.8L1172.8 521.2L1173.3 491.9L1173.8 471.8L1174.3 460.9L1174.8 456.1L1175.3 452.8L1175.8 450.3L1176.3 447.8L1176.8 445.2L1177.3 442.7L1177.8 440.3L1178.3 438.0L1178.8 435.9L1179.3 433.9L1179.8 432.2L1180.3 430.6L1180.8 429.2L1181.3 427.8L1181.8 426.5L1182.3 425.3L1182.8 424.1L1183.3 423.0L1183.8 422.0L1184.3 421.0L1184.8 420.2L1185.3 419.3L1185.8 418.6L1186.3 417.9L1186.8 417.3L1187.3 416.7L1187.8 416.1L1188.3 415.6L1188.8 415.1L1189.3 414.6L1189.8 414.1L1190.3 413.7L1190.8 413.2L1191.3 412.9L1191.8 412.5L1192.3 412.1L1192.8 411.8L1193.3 411.5L1193.8 411.2L1194.3 411.0L1194.8 410.7L1195.3 410.4L1195.8 410.1L1196.3 409.9L1196.8 409.6L1197.3 409.3L1197.8 409.1L1198.3 408.8L1198.8 408.6L1199.3 408.4L1199.8 408.2L1200.3 408.1L1200.8 407.9L1201.3 407.8L1201.8 407.7L1202.3 407.6L1202.8 407.6L1203.3 407.6L1203.8 407.6L1204.3 407.6L1204.8 407.6L1205.3 407.6L1205.8 407.6L1206.3 407.6L1206.8 407.6L1207.3 407.6L1207.8 407.6L1208.3 407.6L1208.8 407.6L1209.3 407.6L1209.8 407.6L1210.3 407.6L1210.8 407.6L1211.3 407.6L1211.8 407.6L1212.3 407.6L1212.8 407.6L1213.3 407.6L1213.8 407.6L1214.3 407.6L1214.8 407.6L1214.8 407.6L1215.3 430.3L1215.8 451.9L1216.3 473.3L1216.8 493.9L1217.3 510.9L1217.8 524.3L1218.3 535.8L1218.8 546.0L1219.3 555.2L1219.8 563.8L1220.3 572.0L1220.8 579.2L1221.3 585.0L1221.8 589.2L1222.3 593.0L1222.8 596.4L1223.3 599.6L1223.8 602.5L1224.3 605.2L1224.8 607.7L1225.3 610.1L1225.8 612.3L1226.3 614.4L1226.8 616.4L1227.3 618.4L1227.8 620.3L1228.3 622.3L1228.8 624.3L1229.3 626.3L1229.8 628.3L1230.3 630.2L1230.8 632.1L1231.3 633.9L1231.8 635.7L1232.3 637.5L1232.8 639.2L1233.3 640.9L1233.8 642.5L1234.3 644.2L1234.8 645.8L1235.4 647.3L1235.9 648.9L1236.4 650.4L1236.9 651.9L1237.4 653.4L1237.9 654.9L1238.4 656.4L1238.9 657.9L1239.4 659.4L1239.9 660.9L1240.4 662.3L1240.9 663.8L1241.4 665.3L1241.9 666.7L1242.4 668.2L1242.9 669.6L1243.4 671.0L1243.9 672.4L1244.4 673.8L1244.9 675.2L1245.4 676.5L1245.9 677.9L1246.4 679.2L1246.9 680.5L1247.4 681.8L1247.9 683.1L1248.4 684.4L1248.9 685.7L1249.4 686.9L1249.9 688.1L1250.4 689.3L1250.9 690.5L1251.4 691.7L1251.9 692.9L1252.4 694.0L1252.9 695.1L1253.4 696.2L1253.9 697.4L1254.4 698.5L1254.9 699.5L1255.4 700.6L1255.9 701.7L1256.4 702.8L1256.9 703.8L1257.4 704.9L1257.9 705.9L1258.4 706.9L1258.9 707.9L1259.4 708.9L1259.9 709.9L1260.4 710.9L1260.9 711.9L1261.4 712.9L1261.9 713.9L1262.4 714.8L1262.9 715.8L1263.4 716.7L1263.9 717.7L1264.4 718.6L1264.9 719.6L1265.4 720.5L1265.9 721.4L1266.4 722.3L1266.9 723.2L1267.4 724.1L1267.9 725.0L1268.4 725.9L1268.9 726.8L1269.4 727.7L1269.9 728.6L1270.4 729.4L1270.9 730.3L1271.4 731.2L1271.9 732.0L1272.4 732.9L1272.9 733.7L1273.4 734.5L1273.9 735.3L1274.4 736.0L1274.9 736.8L1275.4 737.5L1276.0 738.2L1276.5 739.0L1277.0 739.7L1277.5 740.3L1278.0 741.0L1278.5 741.7L1279.0 742.4L1279.5 743.1L1280.0 743.7L1280.5 744.4L1281.0 745.1L1281.5 745.8L1282.0 746.5L1282.5 747.2L1283.0 747.9L1283.5 748.6L1284.0 749.4L1284.5 750.1L1285.0 750.9L1285.5 751.7L1286.0 752.5L1286.5 753.3L1287.0 754.1L1287.5 755.0L1288.0 755.9L1288.5 756.8L1289.0 757.8L1289.5 758.7L1290.0 759.8L1290.5 760.8L1291.0 762.0L1291.5 763.2L1292.0 764.5L1292.5 765.8L1293.0 767.2L1293.5 768.6L1294.0 770.0L1294.5 771.5L1295.0 773.0L1295.5 774.5L1296.0 776.0L1297.5 700.0L1305.0 640.0L1305.0 640.0L1305.5 494.0L1306.0 400.0L1306.5 365.4L1307.0 336.9L1307.5 313.9L1308.0 295.7L1308.5 281.9L1309.0 271.9L1309.5 265.0L1310.0 260.1L1310.5 255.7L1311.0 251.5L1311.5 247.7L1312.0 244.3L1312.5 241.1L1313.0 238.2L1313.5 235.5L1314.0 233.1L1314.5 230.9L1315.0 228.9L1315.5 227.1L1316.0 225.4L1316.5 223.9L1317.0 222.4L1317.5 221.1L1318.0 219.9L1318.5 218.7L1319.0 217.5L1319.5 216.4L1320.0 215.4L1320.5 214.4L1321.0 213.5L1321.5 212.6L1322.0 211.8L1322.5 211.0L1323.0 210.2L1323.5 209.6L1324.0 208.9L1324.5 208.4L1325.0 207.9L1325.5 207.4L1326.0 207.0L1326.5 206.6L1327.0 206.2L1327.5 205.9L1328.0 205.5L1328.5 205.2L1329.0 204.8L1329.5 204.5L1330.0 204.2L1330.5 204.0L1331.0 203.7L1331.5 203.5L1332.0 203.3L1332.5 203.2L1333.0 203.1L1333.5 203.0L1334.0 203.0L1334.5 203.0L1335.0 203.0L1335.5 203.0L1336.0 203.1L1336.5 203.1L1337.0 203.2L1337.5 203.3L1338.0 203.3L1338.5 203.4L1339.0 203.6L1339.5 203.7L1340.0 203.8L1340.5 204.0L1341.0 204.2L1341.5 204.4L1342.0 204.6L1342.5 204.9L1343.0 205.1L1343.5 205.4L1344.0 205.8L1344.5 206.1L1345.0 206.5L1345.5 206.8L1346.0 207.3L1346.5 207.7L1347.0 207.7L1347.5 234.6L1348.0 257.1L1348.5 275.1L1349.0 290.8L1349.5 304.6L1350.0 316.6L1350.5 327.3L1351.0 337.4L1351.5 346.6L1352.0 355.1L1352.5 362.7L1353.0 369.4L1353.5 375.3L1354.0 380.7L1354.5 385.8L1355.0 390.6L1355.5 395.2L1356.0 399.5L1356.5 403.6L1357.0 407.4L1357.5 410.9L1358.0 414.2L1358.5 417.2L1359.0 420.0L1359.5 422.5L1360.0 424.9L1360.5 427.1L1361.0 429.3L1361.5 431.3L1362.0 433.3L1362.5 435.2L1363.0 437.0L1363.5 438.8L1364.0 440.5L1364.5 442.1L1365.0 443.7L1365.5 445.2L1366.0 446.7L1366.5 448.2L1367.0 449.5L1367.5 450.9L1368.0 452.2L1368.5 453.5L1369.0 454.8L1369.5 456.1L1370.0 457.3L1370.5 458.5L1371.0 459.8L1371.5 461.0L1372.0 462.2L1372.5 463.4L1373.0 464.6L1373.5 465.8L1374.0 467.0L1374.5 468.1L1375.0 469.3L1375.5 470.4L1376.0 471.5L1376.5 472.6L1377.0 473.6L1377.5 474.7L1378.0 475.7L1378.5 476.7L1379.0 477.7L1379.5 478.7L1380.0 479.6L1380.5 480.6L1381.0 481.5L1381.5 482.4L1382.0 483.3L1382.5 484.2L1383.0 485.1L1383.5 485.9L1384.0 486.8L1384.5 487.6L1385.0 488.4L1385.5 489.1L1386.0 489.9L1386.5 490.7L1387.0 491.4L1387.5 492.1L1388.0 492.9L1388.5 493.6L1389.0 494.3L1389.5 495.0L1390.0 495.7L1390.5 496.4L1391.0 497.1L1391.5 497.8L1392.0 498.4L1392.5 499.1L1393.0 499.7L1393.5 500.4L1394.0 501.0L1394.5 501.6L1395.0 502.3L1395.5 502.9L1396.0 503.5L1396.5 504.1L1397.0 504.7L1397.5 505.3L1398.0 505.9L1398.5 506.4L1399.0 507.0L1399.5 507.6L1400.0 508.1L1400.5 508.7L1401.0 509.2L1401.5 509.8L1402.0 510.3L1402.5 510.9L1403.0 511.4L1403.5 511.9L1404.0 512.4L1404.5 512.9L1405.0 513.5L1405.5 514.0L1406.0 514.5L1406.5 515.0L1407.0 515.4L1407.5 515.9L1408.0 516.4L1408.5 516.9L1409.0 517.4L1409.5 517.9L1410.0 518.3L1410.5 518.8L1411.0 519.3L1411.5 519.7L1412.0 520.2L1412.5 520.7L1413.0 521.1L1413.5 521.6L1414.0 522.0L1414.5 522.5L1415.0 522.9L1415.5 523.4L1416.0 523.8L1416.5 524.3L1417.0 524.7L1417.5 525.2L1418.0 525.6L1418.5 526.0L1419.0 526.4L1419.5 526.9L1420.0 527.3L1420.5 527.7L1421.0 528.1L1421.5 528.5L1422.0 529.0L1422.5 529.4L1423.0 529.8L1423.5 530.2L1424.0 530.6L1424.5 531.0L1425.0 531.3L1425.5 531.7L1426.0 532.1L1426.5 532.5L1427.0 532.9L1427.5 533.2L1428.0 533.6L1428.5 534.0L1429.0 534.3L1429.5 534.7L1430.0 535.0L1430.5 535.4L1431.0 535.7L1431.5 536.0L1432.0 536.4L1432.5 536.7L1433.0 537.0L1433.5 537.3L1434.0 537.7L1434.5 538.0L1435.0 538.3L1435.5 538.6L1436.0 538.9L1436.5 539.2L1437.0 539.4L1437.5 539.7L1438.0 540.0L1438.0 540.0L1438.5 439.0L1439.0 373.2L1439.5 342.8L1440.0 319.8L1440.5 303.8L1441.0 294.3L1441.5 288.6L1442.0 283.8L1442.5 279.9L1443.0 276.6L1443.5 273.9L1444.0 271.5L1444.5 269.3L1445.0 267.0L1445.5 264.8L1446.0 262.7L1446.5 260.7L1447.0 258.8L1447.5 257.1L1448.0 255.4L1448.5 253.9L1449.0 252.6L1449.5 251.4L1450.0 250.3L1450.5 249.4L1451.0 248.5L1451.5 247.7L1452.0 246.9L1452.5 246.1L1453.0 245.4L1453.5 244.8L1454.0 244.1L1454.5 243.6L1455.0 243.0L1455.5 242.5L1456.0 242.1L1456.5 241.6L1457.0 241.2L1457.5 240.9L1458.0 240.5L1458.5 240.1L1459.0 239.8L1459.5 239.4L1460.0 239.1L1460.5 238.8L1461.0 238.4L1461.5 238.1L1462.0 237.9L1462.5 237.6L1463.0 237.4L1463.5 237.2L1464.0 237.0L1464.5 236.9L1465.0 236.8L1465.5 236.7L1466.0 236.7L1466.5 236.7L1467.0 236.7L1467.5 236.7L1468.0 236.7L1468.5 236.7L1469.0 236.7L1469.5 236.7L1470.0 236.7L1470.5 236.7L1471.0 236.7L1471.5 236.7L1472.0 236.7L1472.5 236.7L1473.0 236.7L1473.5 236.7L1474.0 236.7L1474.5 236.7L1475.0 236.7L1475.5 236.7L1476.0 236.7L1476.5 236.7L1477.0 236.7L1477.5 236.7L1478.0 236.7L1478.5 236.7L1479.0 236.7L1479.5 236.7L1480.0 236.7L1480.5 236.7L1481.0 236.7L1481.0 236.7L1481.5 260.7L1482.0 283.5L1482.5 305.8L1483.0 327.3L1483.5 346.4L1484.0 363.0L1484.5 379.0L1485.0 393.2L1485.5 404.4L1486.0 411.7L1486.5 417.7L1487.0 423.0L1487.5 427.9L1488.0 432.3L1488.5 436.3L1489.0 439.9L1489.5 443.1L1490.0 446.1L1490.5 448.8L1491.0 451.3L1491.5 453.6L1492.0 455.8L1492.5 457.9L1493.0 459.9L1493.5 461.8L1494.0 463.7L1494.5 465.5L1495.0 467.3L1495.5 468.9L1496.0 470.6L1496.6 472.1L1497.1 473.6L1497.6 475.1L1498.1 476.5L1498.6 477.9L1499.1 479.2L1499.6 480.4L1500.1 481.7L1500.6 482.8L1501.1 484.0L1501.6 485.1L1502.1 486.2L1502.6 487.2L1503.1 488.2L1503.6 489.2L1504.1 490.2L1504.6 491.2L1505.1 492.1L1505.6 493.0L1506.1 493.9L1506.6 494.8L1507.1 495.6L1507.6 496.5L1508.1 497.3L1508.6 498.1L1509.1 498.9L1509.6 499.7L1510.1 500.4L1510.6 501.2L1511.1 501.9L1511.6 502.6L1512.1 503.3L1512.6 504.0L1513.1 504.6L1513.6 505.3L1514.1 505.9L1514.6 506.6L1515.1 507.2L1515.6 507.8L1516.1 508.4L1516.6 509.0L1517.1 509.6L1517.6 510.2L1518.1 510.8L1518.6 511.3L1519.1 511.9L1519.6 512.4L1520.1 513.0L1520.6 513.6L1521.1 514.1L1521.6 514.7L1522.1 515.2L1522.6 515.7L1523.1 516.3L1523.6 516.8L1524.1 517.4L1524.6 517.9L1525.1 518.5L1525.6 519.0L1526.1 519.6L1526.7 520.1L1527.2 520.6L1527.7 521.2L1528.2 521.7L1528.7 522.2L1529.2 522.8L1529.7 523.3L1530.2 523.8L1530.7 524.3L1531.2 524.8L1531.7 525.4L1532.2 525.9L1532.7 526.4L1533.2 526.9L1533.7 527.4L1534.2 527.9L1534.7 528.4L1535.2 528.9L1535.7 529.3L1536.2 529.8L1536.7 530.3L1537.2 530.8L1537.7 531.3L1538.2 531.7L1538.7 532.2L1539.2 532.7L1539.7 533.1L1540.2 533.6L1540.7 534.0L1541.2 534.5L1541.7 534.9L1542.2 535.4L1542.7 535.8L1543.2 536.2L1543.7 536.7L1544.2 537.1L1544.7 537.5L1545.2 537.9L1545.7 538.4L1546.2 538.8L1546.7 539.2L1547.2 539.6L1547.7 540.0L1548.2 540.4L1548.7 540.8L1549.2 541.2L1549.7 541.6L1550.2 542.0L1550.7 542.4L1551.2 542.7L1551.7 543.1L1552.2 543.5L1552.7 543.9L1553.2 544.2L1553.7 544.6L1554.2 545.0L1554.7 545.3L1555.2 545.7L1555.7 546.0L1556.2 546.4L1556.8 546.8L1557.3 547.1L1557.8 547.5L1558.3 547.8L1558.8 548.1L1559.3 548.5L1559.8 548.8L1560.3 549.2L1560.8 549.5L1561.3 549.8L1561.8 550.1L1562.3 550.5L1562.8 550.8L1563.3 551.1L1563.8 551.4L1564.3 551.7L1564.8 552.0L1565.3 552.3L1565.8 552.6L1566.3 552.9L1566.8 553.2L1567.3 553.5L1567.8 553.8L1568.3 554.1L1568.8 554.4L1569.3 554.7L1569.8 554.9L1570.3 555.2L1570.8 555.5L1571.3 555.7L1571.8 556.0L1571.8 556.0L1572.3 453.2L1572.8 387.1L1573.3 356.3L1573.8 333.2L1574.3 317.2L1574.8 308.0L1575.3 302.2L1575.8 297.5L1576.3 293.5L1576.8 290.3L1577.4 287.5L1577.9 285.1L1578.4 282.9L1578.9 280.6L1579.4 278.3L1579.9 276.2L1580.4 274.2L1580.9 272.3L1581.4 270.5L1581.9 268.9L1582.4 267.4L1582.9 266.1L1583.4 264.9L1583.9 263.9L1584.4 262.9L1584.9 262.1L1585.4 261.2L1585.9 260.4L1586.4 259.7L1586.9 259.0L1587.4 258.3L1588.0 257.7L1588.5 257.1L1589.0 256.6L1589.5 256.1L1590.0 255.6L1590.5 255.2L1591.0 254.8L1591.5 254.4L1592.0 254.1L1592.5 253.7L1593.0 253.3L1593.5 253.0L1594.0 252.6L1594.5 252.3L1595.0 252.0L1595.5 251.7L1596.0 251.4L1596.5 251.2L1597.0 251.0L1597.5 250.8L1598.0 250.6L1598.5 250.5L1599.1 250.4L1599.6 250.4L1600.1 250.4L1600.6 250.4L1601.1 250.4L1601.6 250.4L1602.1 250.4L1602.6 250.4L1603.1 250.4L1603.6 250.4L1604.1 250.4L1604.6 250.4L1605.1 250.4L1605.6 250.4L1606.1 250.4L1606.6 250.4L1607.1 250.4L1607.6 250.4L1608.1 250.4L1608.6 250.4L1609.1 250.4L1609.7 250.4L1610.2 250.4L1610.7 250.4L1611.2 250.4L1611.7 250.4L1612.2 250.4L1612.7 250.4L1613.2 250.4L1613.7 250.4L1614.2 250.4L1614.7 250.4L1614.7 250.4L1615.2 273.9L1615.7 296.3L1616.2 318.2L1616.7 339.4L1617.2 358.0L1617.7 374.3L1618.2 390.0L1618.7 403.9L1619.2 414.7L1619.7 421.7L1620.2 427.5L1620.7 432.7L1621.2 437.5L1621.7 441.8L1622.2 445.6L1622.7 449.1L1623.2 452.3L1623.7 455.2L1624.2 457.8L1624.7 460.3L1625.2 462.5L1625.7 464.6L1626.2 466.7L1626.7 468.7L1627.2 470.6L1627.7 472.4L1628.2 474.2L1628.7 475.9L1629.2 477.5L1629.8 479.1L1630.3 480.6L1630.8 482.1L1631.3 483.5L1631.8 484.9L1632.3 486.2L1632.8 487.5L1633.3 488.7L1633.8 489.9L1634.3 491.1L1634.8 492.2L1635.3 493.3L1635.8 494.3L1636.3 495.4L1636.8 496.4L1637.3 497.3L1637.8 498.3L1638.3 499.2L1638.8 500.1L1639.3 501.0L1639.8 501.9L1640.3 502.7L1640.8 503.6L1641.3 504.4L1641.8 505.2L1642.3 506.0L1642.8 506.8L1643.3 507.5L1643.8 508.2L1644.3 509.0L1644.8 509.7L1645.3 510.4L1645.8 511.0L1646.3 511.7L1646.8 512.4L1647.3 513.0L1647.8 513.6L1648.3 514.2L1648.8 514.9L1649.3 515.5L1649.8 516.0L1650.3 516.6L1650.8 517.2L1651.3 517.8L1651.8 518.3L1652.3 518.9L1652.8 519.4L1653.3 520.0L1653.8 520.5L1654.3 521.1L1654.8 521.6L1655.3 522.1L1655.8 522.7L1656.3 523.2L1656.8 523.8L1657.3 524.3L1657.8 524.8L1658.3 525.4L1658.8 525.9L1659.3 526.4L1659.8 527.0L1660.4 527.5L1660.9 528.0L1661.4 528.6L1661.9 529.1L1662.4 529.6L1662.9 530.1L1663.4 530.6L1663.9 531.1L1664.4 531.6L1664.9 532.1L1665.4 532.6L1665.9 533.1L1666.4 533.6L1666.9 534.1L1667.4 534.6L1667.9 535.1L1668.4 535.6L1668.9 536.1L1669.4 536.5L1669.9 537.0L1670.4 537.5L1670.9 538.0L1671.4 538.4L1671.9 538.9L1672.4 539.3L1672.9 539.8L1673.4 540.2L1673.9 540.7L1674.4 541.1L1674.9 541.6L1675.4 542.0L1675.9 542.4L1676.4 542.9L1676.9 543.3L1677.4 543.7L1677.9 544.1L1678.4 544.5L1678.9 545.0L1679.4 545.4L1679.9 545.8L1680.4 546.2L1680.9 546.6L1681.4 547.0L1681.9 547.4L1682.4 547.7L1682.9 548.1L1683.4 548.5L1683.9 548.9L1684.4 549.3L1684.9 549.6L1685.4 550.0L1685.9 550.4L1686.4 550.7L1686.9 551.1L1687.4 551.4L1687.9 551.8L1688.4 552.2L1688.9 552.5L1689.4 552.9L1690.0 553.2L1690.5 553.6L1691.0 553.9L1691.5 554.2L1692.0 554.6L1692.5 554.9L1693.0 555.2L1693.5 555.6L1694.0 555.9L1694.5 556.2L1695.0 556.5L1695.5 556.9L1696.0 557.2L1696.5 557.5L1697.0 557.8L1697.5 558.1L1698.0 558.4L1698.5 558.7L1699.0 559.0L1699.5 559.3L1700.0 559.6L1700.5 559.9L1701.0 560.1L1701.5 560.4L1702.0 560.7L1702.5 561.0L1703.0 561.3L1703.5 561.5L1704.0 561.8L1704.5 562.0L1705.0 562.3L1705.0 562.3L1705.5 460.9L1706.0 395.8L1706.5 365.5L1707.0 342.6L1707.5 326.9L1708.0 317.8L1708.5 312.1L1709.0 307.4L1709.5 303.5L1710.0 300.3L1710.5 297.6L1711.0 295.2L1711.5 293.0L1712.0 290.8L1712.5 288.5L1713.0 286.4L1713.5 284.5L1714.0 282.6L1714.5 280.8L1715.0 279.2L1715.5 277.8L1716.0 276.5L1716.5 275.3L1717.0 274.3L1717.5 273.4L1718.0 272.5L1718.5 271.7L1719.0 270.9L1719.5 270.1L1720.0 269.4L1720.5 268.8L1721.0 268.2L1721.5 267.6L1722.0 267.1L1722.5 266.6L1723.0 266.1L1723.5 265.7L1724.0 265.4L1724.5 265.0L1725.0 264.6L1725.5 264.2L1726.0 263.9L1726.6 263.5L1727.1 263.2L1727.6 262.9L1728.1 262.6L1728.6 262.3L1729.1 262.0L1729.6 261.8L1730.1 261.6L1730.6 261.4L1731.1 261.2L1731.6 261.1L1732.1 261.0L1732.6 261.0L1733.1 261.0L1733.6 261.0L1734.1 261.0L1734.6 261.0L1735.1 261.0L1735.6 261.0L1736.1 261.0L1736.6 261.0L1737.1 261.0L1737.6 261.0L1738.1 261.0L1738.6 261.0L1739.1 261.0L1739.6 261.0L1740.1 261.0L1740.6 261.0L1741.1 261.0L1741.6 261.0L1742.1 261.0L1742.6 261.0L1743.1 261.0L1743.6 261.0L1744.1 261.0L1744.6 261.0L1745.1 261.0L1745.6 261.0L1746.1 261.0L1746.6 261.0L1747.1 261.0L1747.6 261.0L1747.6 261.0L1748.1 284.8L1748.6 307.4L1749.1 329.5L1749.6 350.8L1750.1 369.2L1750.6 385.7L1751.1 401.3L1751.6 414.9L1752.1 425.1L1752.6 431.6L1753.1 437.3L1753.6 442.5L1754.1 447.1L1754.6 451.3L1755.1 455.1L1755.6 458.5L1756.1 461.6L1756.6 464.4L1757.1 467.0L1757.6 469.3L1758.1 471.5L1758.7 473.6L1759.2 475.7L1759.7 477.6L1760.2 479.5L1760.7 481.3L1761.2 483.1L1761.7 484.8L1762.2 486.4L1762.7 487.9L1763.2 489.4L1763.7 490.9L1764.2 492.3L1764.7 493.6L1765.2 494.9L1765.7 496.2L1766.2 497.4L1766.7 498.6L1767.2 499.7L1767.7 500.8L1768.2 501.9L1768.7 502.9L1769.2 503.9L1769.7 504.9L1770.2 505.9L1770.7 506.8L1771.2 507.7L1771.7 508.6L1772.2 509.5L1772.7 510.4L1773.2 511.2L1773.7 512.0L1774.2 512.8L1774.7 513.6L1775.2 514.4L1775.7 515.2L1776.2 515.9L1776.7 516.6L1777.2 517.3L1777.7 518.0L1778.2 518.7L1778.7 519.4L1779.2 520.0L1779.8 520.6L1780.3 521.3L1780.8 521.9L1781.3 522.5L1781.8 523.1L1782.3 523.7L1782.8 524.3L1783.3 524.9L1783.8 525.4L1784.3 526.0L1784.8 526.6L1785.3 527.1L1785.8 527.7L1786.3 528.2L1786.8 528.8L1787.3 529.3L1787.8 529.8L1788.3 530.4L1788.8 530.9L1789.3 531.5L1789.8 532.0L1790.3 532.5L1790.8 533.1L1791.3 533.6L1791.8 534.2L1792.3 534.7L1792.8 535.2L1793.3 535.8L1793.8 536.3L1794.3 536.8L1794.8 537.4L1795.3 537.9L1795.8 538.4L1796.3 538.9L1796.8 539.4L1797.3 539.9L1797.8 540.4L1798.3 540.9L1798.8 541.4L1799.3 541.9L1799.8 542.4L1800.3 542.9L1800.9 543.4L1801.4 543.9L1801.9 544.4L1802.4 544.8L1802.9 545.3L1803.4 545.8L1803.9 546.2L1804.4 546.7L1804.9 547.2L1805.4 547.6L1805.9 548.1L1806.4 548.5L1806.9 548.9L1807.4 549.4L1807.9 549.8L1808.4 550.2L1808.9 550.7L1809.4 551.1L1809.9 551.5L1810.4 551.9L1810.9 552.3L1811.4 552.7L1811.9 553.1L1812.4 553.5L1812.9 553.9L1813.4 554.3L1813.9 554.7L1814.4 555.1L1814.9 555.5L1815.4 555.8L1815.9 556.2L1816.4 556.6L1816.9 556.9L1817.4 557.3L1817.9 557.6L1818.4 558.0L1818.9 558.3L1819.4 558.7L1819.9 559.0L1820.4 559.4L1820.9 559.7L1821.4 560.0L1822.0 560.4L1822.5 560.7L1823.0 561.0L1823.5 561.3L1824.0 561.7L1824.5 562.0L1825.0 562.3L1825.5 562.6L1826.0 562.9L1826.5 563.2L1827.0 563.5L1827.5 563.8L1828.0 564.1L1828.5 564.4L1829.0 564.6L1829.5 564.9L1830.0 565.2L1830.5 565.5L1831.0 565.7L1831.5 566.0L1832.0 566.2L1832.5 566.5" stroke="#0000ff" stroke-width="4.7" stroke-dasharray="48 9 6 9"/>
</g>
<g shape-rendering="crispEdges">
<rect x="219.2" y="19.2" width="1655.8" height="2.9" fill="#969696"/>
<rect x="219.2" y="22.1" width="1655.8" height="2.9" fill="#000"/>
<rect x="225" y="25" width="1641.3" height="2.7" fill="#868686"/>
<rect x="1866.3" y="25" width="2.9" height="1210" fill="#a0a0a0"/>
<rect x="1869.2" y="22.1" width="2.9" height="1218.9" fill="#000"/>
<rect x="1872.1" y="19.2" width="2.9" height="1221.8" fill="#7a7a7a"/>
<rect x="219.2" y="22.1" width="5.9" height="1219" fill="#181818"/>
<rect x="219.2" y="1235" width="1652.9" height="6" fill="#161616"/>
<rect x="219.2" y="1241" width="1652.9" height="2.6" fill="#e4e4e4"/>
<rect x="219.2" y="1241" width="5.9" height="16" fill="#141414"/>
<rect x="219.2" y="1257" width="5.9" height="2.2" fill="#808080"/>
<rect x="544.9" y="1241" width="5.9" height="16" fill="#141414"/>
<rect x="544.9" y="1257" width="5.9" height="2.2" fill="#808080"/>
<rect x="870.7" y="1241" width="5.9" height="16" fill="#141414"/>
<rect x="870.7" y="1257" width="5.9" height="2.2" fill="#808080"/>
<rect x="1196.5" y="1241" width="5.9" height="16" fill="#141414"/>
<rect x="1196.5" y="1257" width="5.9" height="2.2" fill="#808080"/>
<rect x="1522.3" y="1241" width="5.9" height="16" fill="#141414"/>
<rect x="1522.3" y="1257" width="5.9" height="2.2" fill="#808080"/>
<rect x="1848.1" y="1241" width="5.9" height="16" fill="#141414"/>
<rect x="1848.1" y="1257" width="5.9" height="2.2" fill="#808080"/>
<rect x="202" y="1235" width="17.5" height="6" fill="#161616"/>
<rect x="204.4" y="977.0" width="15" height="5.6" fill="#1c1c1c"/>
<rect x="201.6" y="977.0" width="2.8" height="5.6" fill="#b8b8b8"/>
<rect x="204.4" y="718.4" width="15" height="5.6" fill="#1c1c1c"/>
<rect x="201.6" y="718.4" width="2.8" height="5.6" fill="#b8b8b8"/>
<rect x="204.4" y="459.8" width="15" height="5.6" fill="#1c1c1c"/>
<rect x="201.6" y="459.8" width="2.8" height="5.6" fill="#b8b8b8"/>
<rect x="204.4" y="201.2" width="15" height="5.6" fill="#1c1c1c"/>
<rect x="201.6" y="201.2" width="2.8" height="5.6" fill="#b8b8b8"/>
</g>
<g font-family="'Liberation Sans', sans-serif" fill="#000">
<g font-weight="bold" font-size="57.4px">
<text transform="translate(222.2 1337.8) scale(1 1.035)" text-anchor="middle">0</text>
<text transform="translate(547.9 1337.8) scale(1 1.035)" text-anchor="middle">100</text>
<text transform="translate(873.6 1337.8) scale(1 1.035)" text-anchor="middle">200</text>
<text transform="translate(1199.3 1337.8) scale(1 1.035)" text-anchor="middle">300</text>
<text transform="translate(1525.0 1337.8) scale(1 1.035)" text-anchor="middle">400</text>
<text transform="translate(1850.7 1337.8) scale(1 1.035)" text-anchor="middle">500</text>
<text transform="translate(91.2 1259.0) scale(1 1.035)">10<tspan font-size="40.5px" dy="-18.2">5</tspan></text>
<text transform="translate(91.2 1000.4) scale(1 1.035)">10<tspan font-size="40.5px" dy="-18.2">6</tspan></text>
<text transform="translate(91.2 741.8) scale(1 1.035)">10<tspan font-size="40.5px" dy="-18.2">7</tspan></text>
<text transform="translate(91.2 483.2) scale(1 1.035)">10<tspan font-size="40.5px" dy="-18.2">8</tspan></text>
<text transform="translate(91.2 224.6) scale(1 1.035)">10<tspan font-size="40.5px" dy="-18.2">9</tspan></text>
<text transform="translate(402.8 108.6) scale(1 1.035)">250 <tspan font-size="38.5px" dy="-26.6">o</tspan><tspan dy="26.6">C</tspan></text>
<text transform="translate(925.5 108.6) scale(1 1.035)">200 <tspan font-size="38.5px" dy="-26.6">o</tspan><tspan dy="26.6">C</tspan></text>
<text transform="translate(1525.3 108.6) scale(1 1.035)">150 <tspan font-size="38.5px" dy="-26.6">o</tspan><tspan dy="26.6">C</tspan></text>
<text transform="translate(1603.8 967.0) scale(1 1.035)">ZnGaIn0</text>
<text transform="translate(1603.8 1041.7) scale(1 1.035)">ZnGaIn1</text>
<text transform="translate(1603.8 1116.4) scale(1 1.035)">ZnGaIn3</text>
<text transform="translate(1603.8 1191.1) scale(1 1.035)">ZnGaIn5</text>
</g>
<text transform="translate(1069.2 1409.7) scale(1.018 1)" font-size="66.4px" text-anchor="middle">Time, min</text>
<text transform="translate(69.6 629.5) rotate(-90) scale(1 1.02)" font-size="67px" text-anchor="middle">R, Ohm</text>
</g>
<g fill="none">
<path d="M1454.5 946.9H1583" stroke="#cc2ccc" stroke-width="5.8"/>
<path d="M1454.5 1024.2H1583" stroke="#0000ff" stroke-width="4.7" stroke-dasharray="48 9 6 9"/>
<path d="M1454.5 1099.1H1583" stroke="#ff0000" stroke-width="4.7" stroke-dasharray="54 12"/>
<path d="M1454.5 1173.9H1583" stroke="#008800" stroke-width="4.7" stroke-dasharray="48 9 6 9 6 9"/>
</g>
</svg>
</body></html>
